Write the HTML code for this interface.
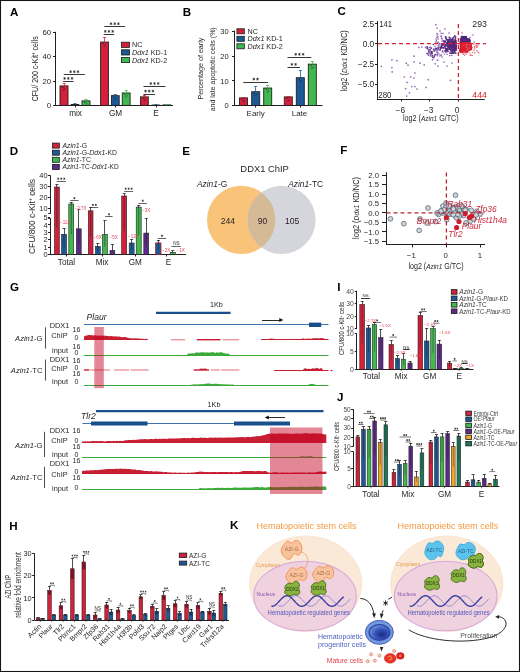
<!DOCTYPE html>
<html><head><meta charset="utf-8"><style>
html,body{margin:0;padding:0;background:#fff;}
svg{display:block;font-family:"Liberation Sans", sans-serif;will-change:transform;}
</style></head><body>
<svg width="520" height="672" viewBox="0 0 520 672">
<rect x="0" y="0" width="520" height="672" fill="#fff"/>
<text x="10.00" y="15.80" font-size="11.6" fill="#000" font-weight="bold" >A</text>
<line x1="55.50" y1="31.80" x2="55.50" y2="105.40" stroke="#231f20" stroke-width="1.0" />
<line x1="55.00" y1="105.50" x2="173.00" y2="105.50" stroke="#231f20" stroke-width="1.0" />
<line x1="53.00" y1="105.50" x2="55.00" y2="105.50" stroke="#231f20" stroke-width="1.0" />
<text x="51.20" y="108.20" font-size="7.8" fill="#231f20" text-anchor="end" >0</text>
<line x1="53.00" y1="81.50" x2="55.00" y2="81.50" stroke="#231f20" stroke-width="1.0" />
<text x="51.20" y="83.83" font-size="7.8" fill="#231f20" text-anchor="end" >20</text>
<line x1="53.00" y1="56.50" x2="55.00" y2="56.50" stroke="#231f20" stroke-width="1.0" />
<text x="51.20" y="59.47" font-size="7.8" fill="#231f20" text-anchor="end" >40</text>
<line x1="53.00" y1="32.50" x2="55.00" y2="32.50" stroke="#231f20" stroke-width="1.0" />
<text x="51.20" y="35.10" font-size="7.8" fill="#231f20" text-anchor="end" >60</text>
<line x1="75.50" y1="105.40" x2="75.50" y2="107.40" stroke="#231f20" stroke-width="1.0" />
<line x1="115.50" y1="105.40" x2="115.50" y2="107.40" stroke="#231f20" stroke-width="1.0" />
<line x1="156.50" y1="105.40" x2="156.50" y2="107.40" stroke="#231f20" stroke-width="1.0" />
<text x="38.2" y="68.8" font-size="8.4" fill="#231f20" text-anchor="middle" transform="rotate(-90 38.2 68.8)" textLength="65" lengthAdjust="spacingAndGlyphs">CFU/ 200 c-Kit<tspan dy="-2.8" font-size="5">+</tspan><tspan dy="2.8"> cells</tspan></text>
<rect x="60.00" y="85.91" width="8.00" height="19.49" fill="#d3213b" stroke="#231f20" stroke-width="0.9" />
<line x1="64.50" y1="85.91" x2="64.50" y2="83.47" stroke="#d3213b" stroke-width="0.8" />
<line x1="62.50" y1="83.50" x2="65.50" y2="83.50" stroke="#d3213b" stroke-width="0.8" />
<circle cx="62.80" cy="87.41" r="0.55" fill="#231f20" stroke="none" stroke-width="0.5" />
<circle cx="64.80" cy="88.71" r="0.55" fill="#231f20" stroke="none" stroke-width="0.5" />
<circle cx="63.70" cy="89.91" r="0.55" fill="#231f20" stroke="none" stroke-width="0.5" />
<rect x="71.20" y="104.43" width="7.60" height="0.97" fill="#1c5a97" stroke="#231f20" stroke-width="0.9" />
<line x1="75.50" y1="104.43" x2="75.50" y2="103.69" stroke="#1c5a97" stroke-width="0.8" />
<line x1="73.50" y1="103.50" x2="76.50" y2="103.50" stroke="#1c5a97" stroke-width="0.8" />
<rect x="82.00" y="100.89" width="8.00" height="4.51" fill="#3fba4f" stroke="#231f20" stroke-width="0.9" />
<line x1="86.50" y1="100.89" x2="86.50" y2="99.43" stroke="#3fba4f" stroke-width="0.8" />
<line x1="84.50" y1="99.50" x2="87.50" y2="99.50" stroke="#3fba4f" stroke-width="0.8" />
<circle cx="84.80" cy="102.39" r="0.55" fill="#231f20" stroke="none" stroke-width="0.5" />
<circle cx="86.80" cy="103.69" r="0.55" fill="#231f20" stroke="none" stroke-width="0.5" />
<rect x="100.60" y="42.05" width="7.80" height="63.35" fill="#d3213b" stroke="#231f20" stroke-width="0.9" />
<line x1="104.50" y1="42.05" x2="104.50" y2="37.18" stroke="#d3213b" stroke-width="0.8" />
<line x1="103.00" y1="37.50" x2="106.00" y2="37.50" stroke="#d3213b" stroke-width="0.8" />
<circle cx="103.30" cy="43.55" r="0.55" fill="#231f20" stroke="none" stroke-width="0.5" />
<circle cx="105.30" cy="44.85" r="0.55" fill="#231f20" stroke="none" stroke-width="0.5" />
<circle cx="104.20" cy="46.05" r="0.55" fill="#231f20" stroke="none" stroke-width="0.5" />
<rect x="111.40" y="95.65" width="7.80" height="9.75" fill="#1c5a97" stroke="#231f20" stroke-width="0.9" />
<line x1="115.50" y1="95.65" x2="115.50" y2="94.19" stroke="#1c5a97" stroke-width="0.8" />
<line x1="113.80" y1="94.50" x2="116.80" y2="94.50" stroke="#1c5a97" stroke-width="0.8" />
<circle cx="114.10" cy="97.15" r="0.55" fill="#231f20" stroke="none" stroke-width="0.5" />
<circle cx="116.10" cy="98.45" r="0.55" fill="#231f20" stroke="none" stroke-width="0.5" />
<circle cx="115.00" cy="99.65" r="0.55" fill="#231f20" stroke="none" stroke-width="0.5" />
<rect x="122.30" y="92.97" width="7.80" height="12.43" fill="#3fba4f" stroke="#231f20" stroke-width="0.9" />
<line x1="126.50" y1="92.97" x2="126.50" y2="90.54" stroke="#3fba4f" stroke-width="0.8" />
<line x1="124.70" y1="90.50" x2="127.70" y2="90.50" stroke="#3fba4f" stroke-width="0.8" />
<circle cx="125.00" cy="94.47" r="0.55" fill="#231f20" stroke="none" stroke-width="0.5" />
<circle cx="127.00" cy="95.77" r="0.55" fill="#231f20" stroke="none" stroke-width="0.5" />
<circle cx="125.90" cy="96.97" r="0.55" fill="#231f20" stroke="none" stroke-width="0.5" />
<rect x="140.50" y="96.87" width="7.80" height="8.53" fill="#d3213b" stroke="#231f20" stroke-width="0.9" />
<line x1="144.50" y1="96.87" x2="144.50" y2="95.41" stroke="#d3213b" stroke-width="0.8" />
<line x1="142.90" y1="95.50" x2="145.90" y2="95.50" stroke="#d3213b" stroke-width="0.8" />
<circle cx="143.20" cy="98.37" r="0.55" fill="#231f20" stroke="none" stroke-width="0.5" />
<circle cx="145.20" cy="99.67" r="0.55" fill="#231f20" stroke="none" stroke-width="0.5" />
<circle cx="144.10" cy="100.87" r="0.55" fill="#231f20" stroke="none" stroke-width="0.5" />
<rect x="152.00" y="105.03" width="7.80" height="0.37" fill="#1c5a97" stroke="#231f20" stroke-width="0.9" />
<line x1="155.50" y1="105.03" x2="155.50" y2="104.67" stroke="#1c5a97" stroke-width="0.8" />
<line x1="154.40" y1="104.50" x2="157.40" y2="104.50" stroke="#1c5a97" stroke-width="0.8" />
<rect x="163.00" y="104.91" width="7.80" height="0.49" fill="#3fba4f" stroke="#231f20" stroke-width="0.9" />
<line x1="166.50" y1="104.91" x2="166.50" y2="104.55" stroke="#3fba4f" stroke-width="0.8" />
<line x1="165.40" y1="104.50" x2="168.40" y2="104.50" stroke="#3fba4f" stroke-width="0.8" />
<line x1="63.10" y1="81.50" x2="73.50" y2="81.50" stroke="#231f20" stroke-width="0.9" />
<path d="M64.60,77.05 L64.60,79.75 M63.43,77.72 L65.77,79.07 M65.77,77.72 L63.43,79.07 " fill="none" stroke="#2a2a2a" stroke-width="0.75" />
<path d="M68.30,77.05 L68.30,79.75 M67.13,77.72 L69.47,79.07 M69.47,77.72 L67.13,79.07 " fill="none" stroke="#2a2a2a" stroke-width="0.75" />
<path d="M72.00,77.05 L72.00,79.75 M70.83,77.72 L73.17,79.07 M73.17,77.72 L70.83,79.07 " fill="none" stroke="#2a2a2a" stroke-width="0.75" />
<line x1="63.80" y1="74.50" x2="84.80" y2="74.50" stroke="#231f20" stroke-width="0.9" />
<path d="M70.60,70.35 L70.60,73.05 M69.43,71.02 L71.77,72.37 M71.77,71.02 L69.43,72.37 " fill="none" stroke="#2a2a2a" stroke-width="0.75" />
<path d="M74.30,70.35 L74.30,73.05 M73.13,71.02 L75.47,72.37 M75.47,71.02 L73.13,72.37 " fill="none" stroke="#2a2a2a" stroke-width="0.75" />
<path d="M78.00,70.35 L78.00,73.05 M76.83,71.02 L79.17,72.37 M79.17,71.02 L76.83,72.37 " fill="none" stroke="#2a2a2a" stroke-width="0.75" />
<line x1="103.80" y1="34.50" x2="114.20" y2="34.50" stroke="#231f20" stroke-width="0.9" />
<path d="M105.30,30.05 L105.30,32.75 M104.13,30.72 L106.47,32.07 M106.47,30.72 L104.13,32.07 " fill="none" stroke="#2a2a2a" stroke-width="0.75" />
<path d="M109.00,30.05 L109.00,32.75 M107.83,30.72 L110.17,32.07 M110.17,30.72 L107.83,32.07 " fill="none" stroke="#2a2a2a" stroke-width="0.75" />
<path d="M112.70,30.05 L112.70,32.75 M111.53,30.72 L113.87,32.07 M113.87,30.72 L111.53,32.07 " fill="none" stroke="#2a2a2a" stroke-width="0.75" />
<line x1="104.30" y1="26.50" x2="125.10" y2="26.50" stroke="#231f20" stroke-width="0.9" />
<path d="M111.00,22.35 L111.00,25.05 M109.83,23.03 L112.17,24.38 M112.17,23.03 L109.83,24.38 " fill="none" stroke="#2a2a2a" stroke-width="0.75" />
<path d="M114.70,22.35 L114.70,25.05 M113.53,23.03 L115.87,24.38 M115.87,23.03 L113.53,24.38 " fill="none" stroke="#2a2a2a" stroke-width="0.75" />
<path d="M118.40,22.35 L118.40,25.05 M117.23,23.03 L119.57,24.38 M119.57,23.03 L117.23,24.38 " fill="none" stroke="#2a2a2a" stroke-width="0.75" />
<line x1="143.50" y1="94.50" x2="155.00" y2="94.50" stroke="#231f20" stroke-width="0.9" />
<path d="M145.55,89.75 L145.55,92.45 M144.38,90.42 L146.72,91.77 M146.72,90.42 L144.38,91.77 " fill="none" stroke="#2a2a2a" stroke-width="0.75" />
<path d="M149.25,89.75 L149.25,92.45 M148.08,90.42 L150.42,91.77 M150.42,90.42 L148.08,91.77 " fill="none" stroke="#2a2a2a" stroke-width="0.75" />
<path d="M152.95,89.75 L152.95,92.45 M151.78,90.42 L154.12,91.77 M154.12,90.42 L151.78,91.77 " fill="none" stroke="#2a2a2a" stroke-width="0.75" />
<line x1="143.50" y1="86.50" x2="165.50" y2="86.50" stroke="#231f20" stroke-width="0.9" />
<path d="M150.80,82.15 L150.80,84.85 M149.63,82.83 L151.97,84.17 M151.97,82.83 L149.63,84.17 " fill="none" stroke="#2a2a2a" stroke-width="0.75" />
<path d="M154.50,82.15 L154.50,84.85 M153.33,82.83 L155.67,84.17 M155.67,82.83 L153.33,84.17 " fill="none" stroke="#2a2a2a" stroke-width="0.75" />
<path d="M158.20,82.15 L158.20,84.85 M157.03,82.83 L159.37,84.17 M159.37,82.83 L157.03,84.17 " fill="none" stroke="#2a2a2a" stroke-width="0.75" />
<text x="75.50" y="116.40" font-size="8.2" fill="#231f20" text-anchor="middle" >mix</text>
<text x="115.50" y="116.40" font-size="8.2" fill="#231f20" text-anchor="middle" >GM</text>
<text x="156.00" y="116.40" font-size="8.2" fill="#231f20" text-anchor="middle" >E</text>
<rect x="121.50" y="42.20" width="8.00" height="5.20" fill="#d3213b" stroke="#1a1a1a" stroke-width="0.8" />
<rect x="121.50" y="49.80" width="8.00" height="5.20" fill="#1c5a97" stroke="#1a1a1a" stroke-width="0.8" />
<rect x="121.50" y="57.40" width="8.00" height="5.20" fill="#3fba4f" stroke="#1a1a1a" stroke-width="0.8" />
<text x="132.00" y="47.40" font-size="7.2" fill="#231f20" >NC</text>
<text x="132.00" y="55.00" font-size="7.2" fill="#231f20" ><tspan font-style="italic">Ddx1</tspan> KD-1</text>
<text x="132.00" y="62.60" font-size="7.2" fill="#231f20" ><tspan font-style="italic">Ddx1</tspan> KD-2</text>
<text x="182.70" y="15.60" font-size="11.6" fill="#000" font-weight="bold" >B</text>
<line x1="234.50" y1="30.50" x2="234.50" y2="105.50" stroke="#231f20" stroke-width="1.0" />
<line x1="232.00" y1="105.50" x2="322.50" y2="105.50" stroke="#231f20" stroke-width="1.0" />
<line x1="232.00" y1="105.50" x2="234.30" y2="105.50" stroke="#231f20" stroke-width="1.0" />
<text x="228.60" y="108.20" font-size="7.5" fill="#231f20" text-anchor="end" >0</text>
<line x1="232.00" y1="80.50" x2="234.30" y2="80.50" stroke="#231f20" stroke-width="1.0" />
<text x="228.60" y="83.60" font-size="7.5" fill="#231f20" text-anchor="end" >10</text>
<line x1="232.00" y1="56.50" x2="234.30" y2="56.50" stroke="#231f20" stroke-width="1.0" />
<text x="228.60" y="59.00" font-size="7.5" fill="#231f20" text-anchor="end" >20</text>
<line x1="232.00" y1="31.50" x2="234.30" y2="31.50" stroke="#231f20" stroke-width="1.0" />
<text x="228.60" y="34.40" font-size="7.5" fill="#231f20" text-anchor="end" >30</text>
<line x1="255.50" y1="105.50" x2="255.50" y2="107.50" stroke="#231f20" stroke-width="1.0" />
<line x1="300.50" y1="105.50" x2="300.50" y2="107.50" stroke="#231f20" stroke-width="1.0" />
<text x="202.60" y="68.60" font-size="8.0" fill="#231f20" text-anchor="middle" textLength="62" lengthAdjust="spacingAndGlyphs" transform="rotate(-90 202.60 68.60)" >Percentage of early</text>
<text x="215.40" y="69.30" font-size="7.8" fill="#231f20" text-anchor="middle" textLength="84" lengthAdjust="spacingAndGlyphs" transform="rotate(-90 215.40 69.30)" >and late apoptotic cells (%)</text>
<rect x="239.50" y="97.87" width="8.00" height="7.63" fill="#d3213b" stroke="#231f20" stroke-width="0.9" />
<line x1="243.50" y1="97.87" x2="243.50" y2="97.14" stroke="#d3213b" stroke-width="0.8" />
<line x1="242.00" y1="97.50" x2="245.00" y2="97.50" stroke="#d3213b" stroke-width="0.8" />
<circle cx="242.30" cy="99.37" r="0.55" fill="#231f20" stroke="none" stroke-width="0.5" />
<circle cx="244.30" cy="100.67" r="0.55" fill="#231f20" stroke="none" stroke-width="0.5" />
<circle cx="243.20" cy="101.87" r="0.55" fill="#231f20" stroke="none" stroke-width="0.5" />
<rect x="251.70" y="91.72" width="8.00" height="13.78" fill="#1c5a97" stroke="#231f20" stroke-width="0.9" />
<line x1="255.50" y1="91.72" x2="255.50" y2="86.31" stroke="#1c5a97" stroke-width="0.8" />
<line x1="254.20" y1="86.50" x2="257.20" y2="86.50" stroke="#1c5a97" stroke-width="0.8" />
<circle cx="254.50" cy="93.22" r="0.55" fill="#231f20" stroke="none" stroke-width="0.5" />
<circle cx="256.50" cy="94.52" r="0.55" fill="#231f20" stroke="none" stroke-width="0.5" />
<circle cx="255.40" cy="95.72" r="0.55" fill="#231f20" stroke="none" stroke-width="0.5" />
<rect x="263.70" y="88.03" width="8.00" height="17.47" fill="#3fba4f" stroke="#231f20" stroke-width="0.9" />
<line x1="267.50" y1="88.03" x2="267.50" y2="85.57" stroke="#3fba4f" stroke-width="0.8" />
<line x1="266.20" y1="85.50" x2="269.20" y2="85.50" stroke="#3fba4f" stroke-width="0.8" />
<circle cx="266.50" cy="89.53" r="0.55" fill="#231f20" stroke="none" stroke-width="0.5" />
<circle cx="268.50" cy="90.83" r="0.55" fill="#231f20" stroke="none" stroke-width="0.5" />
<circle cx="267.40" cy="92.03" r="0.55" fill="#231f20" stroke="none" stroke-width="0.5" />
<rect x="284.30" y="96.89" width="8.00" height="8.61" fill="#d3213b" stroke="#231f20" stroke-width="0.9" />
<line x1="288.50" y1="96.89" x2="288.50" y2="96.40" stroke="#d3213b" stroke-width="0.8" />
<line x1="286.80" y1="96.50" x2="289.80" y2="96.50" stroke="#d3213b" stroke-width="0.8" />
<circle cx="287.10" cy="98.39" r="0.55" fill="#231f20" stroke="none" stroke-width="0.5" />
<circle cx="289.10" cy="99.69" r="0.55" fill="#231f20" stroke="none" stroke-width="0.5" />
<circle cx="288.00" cy="100.89" r="0.55" fill="#231f20" stroke="none" stroke-width="0.5" />
<rect x="296.30" y="77.70" width="8.00" height="27.80" fill="#1c5a97" stroke="#231f20" stroke-width="0.9" />
<line x1="300.50" y1="77.70" x2="300.50" y2="70.32" stroke="#1c5a97" stroke-width="0.8" />
<line x1="298.80" y1="70.50" x2="301.80" y2="70.50" stroke="#1c5a97" stroke-width="0.8" />
<circle cx="299.10" cy="79.20" r="0.55" fill="#231f20" stroke="none" stroke-width="0.5" />
<circle cx="301.10" cy="80.50" r="0.55" fill="#231f20" stroke="none" stroke-width="0.5" />
<circle cx="300.00" cy="81.70" r="0.55" fill="#231f20" stroke="none" stroke-width="0.5" />
<rect x="308.30" y="64.17" width="8.00" height="41.33" fill="#3fba4f" stroke="#231f20" stroke-width="0.9" />
<line x1="312.50" y1="64.17" x2="312.50" y2="61.22" stroke="#3fba4f" stroke-width="0.8" />
<line x1="310.80" y1="61.50" x2="313.80" y2="61.50" stroke="#3fba4f" stroke-width="0.8" />
<circle cx="311.10" cy="65.67" r="0.55" fill="#231f20" stroke="none" stroke-width="0.5" />
<circle cx="313.10" cy="66.97" r="0.55" fill="#231f20" stroke="none" stroke-width="0.5" />
<circle cx="312.00" cy="68.17" r="0.55" fill="#231f20" stroke="none" stroke-width="0.5" />
<line x1="243.30" y1="82.50" x2="268.00" y2="82.50" stroke="#231f20" stroke-width="0.9" />
<path d="M253.80,77.75 L253.80,80.45 M252.63,78.42 L254.97,79.77 M254.97,78.42 L252.63,79.77 " fill="none" stroke="#2a2a2a" stroke-width="0.75" />
<path d="M257.50,77.75 L257.50,80.45 M256.33,78.42 L258.67,79.77 M258.67,78.42 L256.33,79.77 " fill="none" stroke="#2a2a2a" stroke-width="0.75" />
<line x1="287.50" y1="67.50" x2="300.00" y2="67.50" stroke="#231f20" stroke-width="0.9" />
<path d="M291.90,63.05 L291.90,65.75 M290.73,63.72 L293.07,65.07 M293.07,63.72 L290.73,65.07 " fill="none" stroke="#2a2a2a" stroke-width="0.75" />
<path d="M295.60,63.05 L295.60,65.75 M294.43,63.72 L296.77,65.07 M296.77,63.72 L294.43,65.07 " fill="none" stroke="#2a2a2a" stroke-width="0.75" />
<line x1="287.50" y1="57.50" x2="311.30" y2="57.50" stroke="#231f20" stroke-width="0.9" />
<path d="M295.70,52.95 L295.70,55.65 M294.53,53.63 L296.87,54.98 M296.87,53.63 L294.53,54.98 " fill="none" stroke="#2a2a2a" stroke-width="0.75" />
<path d="M299.40,52.95 L299.40,55.65 M298.23,53.63 L300.57,54.98 M300.57,53.63 L298.23,54.98 " fill="none" stroke="#2a2a2a" stroke-width="0.75" />
<path d="M303.10,52.95 L303.10,55.65 M301.93,53.63 L304.27,54.98 M304.27,53.63 L301.93,54.98 " fill="none" stroke="#2a2a2a" stroke-width="0.75" />
<text x="255.70" y="116.20" font-size="8.0" fill="#231f20" text-anchor="middle" >Early</text>
<text x="299.50" y="116.20" font-size="8.0" fill="#231f20" text-anchor="middle" >Late</text>
<rect x="236.90" y="28.80" width="7.40" height="5.00" fill="#d3213b" stroke="#1a1a1a" stroke-width="0.8" />
<rect x="236.90" y="36.30" width="7.40" height="5.00" fill="#1c5a97" stroke="#1a1a1a" stroke-width="0.8" />
<rect x="236.90" y="43.80" width="7.40" height="5.00" fill="#3fba4f" stroke="#1a1a1a" stroke-width="0.8" />
<text x="247.60" y="33.70" font-size="7.2" fill="#231f20" >NC</text>
<text x="247.60" y="41.20" font-size="7.2" fill="#231f20" ><tspan font-style="italic">Ddx1</tspan> KD-1</text>
<text x="247.60" y="48.70" font-size="7.2" fill="#231f20" ><tspan font-style="italic">Ddx1</tspan> KD-2</text>
<text x="337.50" y="15.30" font-size="11.6" fill="#000" font-weight="bold" >C</text>
<line x1="377.50" y1="21.00" x2="377.50" y2="99.50" stroke="#231f20" stroke-width="1.0" />
<line x1="377.00" y1="99.50" x2="484.80" y2="99.50" stroke="#231f20" stroke-width="1.0" />
<line x1="375.00" y1="23.50" x2="377.00" y2="23.50" stroke="#231f20" stroke-width="1.0" />
<text x="374.20" y="26.50" font-size="8.3" fill="#231f20" text-anchor="end" >2.5</text>
<line x1="375.00" y1="43.50" x2="377.00" y2="43.50" stroke="#231f20" stroke-width="1.0" />
<text x="374.20" y="46.75" font-size="8.3" fill="#231f20" text-anchor="end" >0.0</text>
<line x1="375.00" y1="64.50" x2="377.00" y2="64.50" stroke="#231f20" stroke-width="1.0" />
<text x="374.20" y="67.00" font-size="8.3" fill="#231f20" text-anchor="end" >−2.5</text>
<line x1="375.00" y1="84.50" x2="377.00" y2="84.50" stroke="#231f20" stroke-width="1.0" />
<text x="374.20" y="87.25" font-size="8.3" fill="#231f20" text-anchor="end" >−5.0</text>
<line x1="401.50" y1="99.50" x2="401.50" y2="101.50" stroke="#231f20" stroke-width="1.0" />
<text x="400.30" y="112.50" font-size="8.3" fill="#231f20" text-anchor="middle" >−6</text>
<line x1="429.50" y1="99.50" x2="429.50" y2="101.50" stroke="#231f20" stroke-width="1.0" />
<text x="428.65" y="112.50" font-size="8.3" fill="#231f20" text-anchor="middle" >−3</text>
<line x1="458.50" y1="99.50" x2="458.50" y2="101.50" stroke="#231f20" stroke-width="1.0" />
<text x="457.00" y="112.50" font-size="8.3" fill="#231f20" text-anchor="middle" >0</text>
<text x="346.6" y="60.9" font-size="8.8" fill="#231f20" text-anchor="middle" transform="rotate(-90 346.6 60.9)" textLength="61" lengthAdjust="spacingAndGlyphs">log2 (<tspan font-style="italic" font-size="8">Ddx1</tspan> KD/NC)</text>
<text x="430.8" y="121.3" font-size="8.8" fill="#231f20" text-anchor="middle" textLength="55.6" lengthAdjust="spacingAndGlyphs">log2 (<tspan font-style="italic" font-size="8">Azin1</tspan> G/TC)</text>
<circle cx="381.40" cy="66.30" r="0.85" fill="#9468b8" stroke="none" stroke-width="0.5" />
<circle cx="391.90" cy="59.80" r="0.85" fill="#9468b8" stroke="none" stroke-width="0.5" />
<circle cx="396.90" cy="60.70" r="0.85" fill="#9468b8" stroke="none" stroke-width="0.5" />
<circle cx="391.90" cy="67.60" r="0.85" fill="#9468b8" stroke="none" stroke-width="0.5" />
<circle cx="392.20" cy="71.90" r="0.85" fill="#9468b8" stroke="none" stroke-width="0.5" />
<circle cx="406.30" cy="63.20" r="0.85" fill="#9468b8" stroke="none" stroke-width="0.5" />
<circle cx="408.00" cy="65.20" r="0.85" fill="#9468b8" stroke="none" stroke-width="0.5" />
<circle cx="414.10" cy="56.20" r="0.85" fill="#9468b8" stroke="none" stroke-width="0.5" />
<circle cx="414.00" cy="61.80" r="0.85" fill="#9468b8" stroke="none" stroke-width="0.5" />
<circle cx="420.10" cy="63.20" r="0.85" fill="#9468b8" stroke="none" stroke-width="0.5" />
<circle cx="424.20" cy="64.90" r="0.85" fill="#9468b8" stroke="none" stroke-width="0.5" />
<circle cx="415.00" cy="73.00" r="0.85" fill="#9468b8" stroke="none" stroke-width="0.5" />
<circle cx="404.30" cy="77.00" r="0.85" fill="#9468b8" stroke="none" stroke-width="0.5" />
<circle cx="410.70" cy="76.80" r="0.85" fill="#9468b8" stroke="none" stroke-width="0.5" />
<circle cx="414.00" cy="78.00" r="0.85" fill="#9468b8" stroke="none" stroke-width="0.5" />
<circle cx="407.00" cy="82.40" r="0.85" fill="#9468b8" stroke="none" stroke-width="0.5" />
<circle cx="428.20" cy="79.70" r="0.85" fill="#9468b8" stroke="none" stroke-width="0.5" />
<circle cx="405.60" cy="88.70" r="0.85" fill="#9468b8" stroke="none" stroke-width="0.5" />
<circle cx="411.70" cy="86.50" r="0.85" fill="#9468b8" stroke="none" stroke-width="0.5" />
<circle cx="415.00" cy="86.50" r="0.85" fill="#9468b8" stroke="none" stroke-width="0.5" />
<circle cx="417.00" cy="89.10" r="0.85" fill="#9468b8" stroke="none" stroke-width="0.5" />
<circle cx="426.10" cy="87.40" r="0.85" fill="#9468b8" stroke="none" stroke-width="0.5" />
<circle cx="409.40" cy="92.80" r="0.85" fill="#9468b8" stroke="none" stroke-width="0.5" />
<circle cx="406.70" cy="96.10" r="0.85" fill="#9468b8" stroke="none" stroke-width="0.5" />
<circle cx="418.80" cy="47.40" r="0.85" fill="#9468b8" stroke="none" stroke-width="0.5" />
<circle cx="421.80" cy="47.00" r="0.85" fill="#9468b8" stroke="none" stroke-width="0.5" />
<circle cx="425.50" cy="47.40" r="0.85" fill="#9468b8" stroke="none" stroke-width="0.5" />
<circle cx="427.80" cy="49.00" r="0.85" fill="#9468b8" stroke="none" stroke-width="0.5" />
<circle cx="429.20" cy="51.00" r="0.85" fill="#9468b8" stroke="none" stroke-width="0.5" />
<circle cx="432.50" cy="59.80" r="0.85" fill="#9468b8" stroke="none" stroke-width="0.5" />
<circle cx="435.20" cy="63.80" r="0.85" fill="#9468b8" stroke="none" stroke-width="0.5" />
<circle cx="437.90" cy="66.10" r="0.85" fill="#9468b8" stroke="none" stroke-width="0.5" />
<circle cx="433.90" cy="57.80" r="0.85" fill="#9468b8" stroke="none" stroke-width="0.5" />
<circle cx="437.60" cy="60.20" r="0.85" fill="#9468b8" stroke="none" stroke-width="0.5" />
<circle cx="450.50" cy="80.30" r="0.85" fill="#9468b8" stroke="none" stroke-width="0.5" />
<circle cx="435.90" cy="24.70" r="0.85" fill="#9468b8" stroke="none" stroke-width="0.5" />
<circle cx="437.00" cy="28.00" r="0.85" fill="#9468b8" stroke="none" stroke-width="0.5" />
<circle cx="440.00" cy="31.00" r="0.85" fill="#9468b8" stroke="none" stroke-width="0.5" />
<circle cx="445.00" cy="29.00" r="0.85" fill="#9468b8" stroke="none" stroke-width="0.5" />
<circle cx="449.00" cy="33.00" r="0.85" fill="#9468b8" stroke="none" stroke-width="0.5" />
<circle cx="442.00" cy="57.00" r="0.85" fill="#9468b8" stroke="none" stroke-width="0.5" />
<circle cx="444.00" cy="62.00" r="0.85" fill="#9468b8" stroke="none" stroke-width="0.5" />
<circle cx="447.00" cy="66.00" r="0.85" fill="#9468b8" stroke="none" stroke-width="0.5" />
<circle cx="452.00" cy="63.00" r="0.85" fill="#9468b8" stroke="none" stroke-width="0.5" />
<circle cx="435.52" cy="54.27" r="0.80" fill="#9468b8" stroke="none" stroke-width="0.5" />
<circle cx="437.19" cy="50.02" r="0.80" fill="#9468b8" stroke="none" stroke-width="0.5" />
<circle cx="427.98" cy="53.20" r="0.80" fill="#9468b8" stroke="none" stroke-width="0.5" />
<circle cx="436.12" cy="48.66" r="0.80" fill="#9468b8" stroke="none" stroke-width="0.5" />
<circle cx="441.78" cy="47.34" r="0.80" fill="#9468b8" stroke="none" stroke-width="0.5" />
<circle cx="449.36" cy="47.88" r="0.80" fill="#9468b8" stroke="none" stroke-width="0.5" />
<circle cx="431.87" cy="53.73" r="0.80" fill="#54287a" stroke="none" stroke-width="0.5" />
<circle cx="428.77" cy="49.63" r="0.80" fill="#9468b8" stroke="none" stroke-width="0.5" />
<circle cx="438.51" cy="49.57" r="0.80" fill="#9468b8" stroke="none" stroke-width="0.5" />
<circle cx="438.69" cy="49.38" r="0.80" fill="#54287a" stroke="none" stroke-width="0.5" />
<circle cx="435.06" cy="54.90" r="0.80" fill="#54287a" stroke="none" stroke-width="0.5" />
<circle cx="430.21" cy="49.64" r="0.80" fill="#54287a" stroke="none" stroke-width="0.5" />
<circle cx="439.81" cy="56.06" r="0.80" fill="#9468b8" stroke="none" stroke-width="0.5" />
<circle cx="435.58" cy="48.35" r="0.80" fill="#9468b8" stroke="none" stroke-width="0.5" />
<circle cx="427.03" cy="48.28" r="0.80" fill="#54287a" stroke="none" stroke-width="0.5" />
<circle cx="442.56" cy="51.13" r="0.80" fill="#54287a" stroke="none" stroke-width="0.5" />
<circle cx="434.75" cy="50.50" r="0.80" fill="#54287a" stroke="none" stroke-width="0.5" />
<circle cx="436.17" cy="48.77" r="0.80" fill="#54287a" stroke="none" stroke-width="0.5" />
<circle cx="443.36" cy="48.23" r="0.80" fill="#9468b8" stroke="none" stroke-width="0.5" />
<circle cx="434.74" cy="49.74" r="0.80" fill="#9468b8" stroke="none" stroke-width="0.5" />
<circle cx="431.54" cy="52.53" r="0.80" fill="#54287a" stroke="none" stroke-width="0.5" />
<circle cx="430.36" cy="55.08" r="0.80" fill="#54287a" stroke="none" stroke-width="0.5" />
<circle cx="427.05" cy="53.62" r="0.80" fill="#54287a" stroke="none" stroke-width="0.5" />
<circle cx="443.81" cy="45.44" r="0.80" fill="#9468b8" stroke="none" stroke-width="0.5" />
<circle cx="438.21" cy="45.47" r="0.80" fill="#9468b8" stroke="none" stroke-width="0.5" />
<circle cx="431.34" cy="53.94" r="0.80" fill="#9468b8" stroke="none" stroke-width="0.5" />
<circle cx="438.59" cy="49.15" r="0.80" fill="#9468b8" stroke="none" stroke-width="0.5" />
<circle cx="430.12" cy="47.41" r="0.80" fill="#54287a" stroke="none" stroke-width="0.5" />
<circle cx="435.06" cy="46.36" r="0.80" fill="#9468b8" stroke="none" stroke-width="0.5" />
<circle cx="444.95" cy="40.70" r="0.80" fill="#54287a" stroke="none" stroke-width="0.5" />
<circle cx="434.31" cy="51.09" r="0.80" fill="#54287a" stroke="none" stroke-width="0.5" />
<circle cx="430.37" cy="53.41" r="0.80" fill="#9468b8" stroke="none" stroke-width="0.5" />
<circle cx="434.16" cy="50.64" r="0.80" fill="#9468b8" stroke="none" stroke-width="0.5" />
<circle cx="429.53" cy="52.81" r="0.80" fill="#54287a" stroke="none" stroke-width="0.5" />
<circle cx="439.96" cy="50.54" r="0.80" fill="#9468b8" stroke="none" stroke-width="0.5" />
<circle cx="437.34" cy="54.52" r="0.80" fill="#54287a" stroke="none" stroke-width="0.5" />
<circle cx="435.54" cy="49.87" r="0.80" fill="#9468b8" stroke="none" stroke-width="0.5" />
<circle cx="433.82" cy="56.21" r="0.80" fill="#9468b8" stroke="none" stroke-width="0.5" />
<circle cx="430.75" cy="51.72" r="0.80" fill="#9468b8" stroke="none" stroke-width="0.5" />
<circle cx="440.19" cy="49.82" r="0.80" fill="#54287a" stroke="none" stroke-width="0.5" />
<circle cx="443.02" cy="44.75" r="0.80" fill="#9468b8" stroke="none" stroke-width="0.5" />
<circle cx="431.35" cy="48.17" r="0.80" fill="#54287a" stroke="none" stroke-width="0.5" />
<circle cx="434.55" cy="56.09" r="0.80" fill="#54287a" stroke="none" stroke-width="0.5" />
<circle cx="444.62" cy="41.83" r="0.80" fill="#54287a" stroke="none" stroke-width="0.5" />
<circle cx="430.22" cy="51.10" r="0.80" fill="#9468b8" stroke="none" stroke-width="0.5" />
<circle cx="428.22" cy="55.09" r="0.80" fill="#54287a" stroke="none" stroke-width="0.5" />
<circle cx="440.77" cy="48.60" r="0.80" fill="#54287a" stroke="none" stroke-width="0.5" />
<circle cx="444.26" cy="47.91" r="0.80" fill="#9468b8" stroke="none" stroke-width="0.5" />
<circle cx="432.33" cy="55.65" r="0.80" fill="#54287a" stroke="none" stroke-width="0.5" />
<circle cx="440.24" cy="47.68" r="0.80" fill="#54287a" stroke="none" stroke-width="0.5" />
<circle cx="427.19" cy="46.84" r="0.80" fill="#54287a" stroke="none" stroke-width="0.5" />
<circle cx="440.26" cy="48.01" r="0.80" fill="#54287a" stroke="none" stroke-width="0.5" />
<circle cx="435.66" cy="43.07" r="0.80" fill="#9468b8" stroke="none" stroke-width="0.5" />
<circle cx="438.26" cy="48.61" r="0.80" fill="#9468b8" stroke="none" stroke-width="0.5" />
<circle cx="432.81" cy="57.40" r="0.80" fill="#54287a" stroke="none" stroke-width="0.5" />
<circle cx="433.22" cy="44.52" r="0.80" fill="#54287a" stroke="none" stroke-width="0.5" />
<circle cx="433.30" cy="50.07" r="0.80" fill="#9468b8" stroke="none" stroke-width="0.5" />
<circle cx="444.03" cy="43.24" r="0.80" fill="#54287a" stroke="none" stroke-width="0.5" />
<circle cx="438.40" cy="45.91" r="0.80" fill="#9468b8" stroke="none" stroke-width="0.5" />
<circle cx="432.14" cy="53.38" r="0.80" fill="#54287a" stroke="none" stroke-width="0.5" />
<circle cx="431.74" cy="51.96" r="0.80" fill="#54287a" stroke="none" stroke-width="0.5" />
<circle cx="431.81" cy="51.56" r="0.80" fill="#54287a" stroke="none" stroke-width="0.5" />
<circle cx="437.62" cy="48.31" r="0.80" fill="#9468b8" stroke="none" stroke-width="0.5" />
<circle cx="439.56" cy="49.71" r="0.80" fill="#9468b8" stroke="none" stroke-width="0.5" />
<circle cx="428.44" cy="51.21" r="0.80" fill="#9468b8" stroke="none" stroke-width="0.5" />
<circle cx="439.39" cy="47.00" r="0.80" fill="#9468b8" stroke="none" stroke-width="0.5" />
<circle cx="438.20" cy="47.72" r="0.80" fill="#54287a" stroke="none" stroke-width="0.5" />
<circle cx="431.89" cy="56.35" r="0.80" fill="#9468b8" stroke="none" stroke-width="0.5" />
<circle cx="438.39" cy="42.46" r="0.80" fill="#9468b8" stroke="none" stroke-width="0.5" />
<circle cx="436.63" cy="48.59" r="0.80" fill="#54287a" stroke="none" stroke-width="0.5" />
<circle cx="433.91" cy="49.12" r="0.80" fill="#54287a" stroke="none" stroke-width="0.5" />
<circle cx="443.99" cy="43.09" r="0.80" fill="#9468b8" stroke="none" stroke-width="0.5" />
<circle cx="441.66" cy="47.08" r="0.80" fill="#9468b8" stroke="none" stroke-width="0.5" />
<circle cx="429.46" cy="52.56" r="0.80" fill="#9468b8" stroke="none" stroke-width="0.5" />
<circle cx="427.62" cy="47.89" r="0.80" fill="#54287a" stroke="none" stroke-width="0.5" />
<circle cx="430.16" cy="47.61" r="0.80" fill="#9468b8" stroke="none" stroke-width="0.5" />
<circle cx="445.27" cy="46.39" r="0.80" fill="#54287a" stroke="none" stroke-width="0.5" />
<circle cx="429.13" cy="50.94" r="0.80" fill="#54287a" stroke="none" stroke-width="0.5" />
<circle cx="428.72" cy="53.38" r="0.80" fill="#9468b8" stroke="none" stroke-width="0.5" />
<circle cx="430.19" cy="55.99" r="0.80" fill="#9468b8" stroke="none" stroke-width="0.5" />
<circle cx="447.08" cy="43.13" r="0.80" fill="#9468b8" stroke="none" stroke-width="0.5" />
<circle cx="436.36" cy="40.62" r="0.80" fill="#9468b8" stroke="none" stroke-width="0.5" />
<circle cx="448.48" cy="44.78" r="0.80" fill="#9468b8" stroke="none" stroke-width="0.5" />
<circle cx="437.29" cy="55.66" r="0.80" fill="#9468b8" stroke="none" stroke-width="0.5" />
<circle cx="451.77" cy="55.35" r="0.80" fill="#9468b8" stroke="none" stroke-width="0.5" />
<circle cx="438.10" cy="39.11" r="0.80" fill="#9468b8" stroke="none" stroke-width="0.5" />
<circle cx="436.79" cy="50.92" r="0.80" fill="#9468b8" stroke="none" stroke-width="0.5" />
<circle cx="441.41" cy="35.98" r="0.80" fill="#9468b8" stroke="none" stroke-width="0.5" />
<circle cx="444.45" cy="53.96" r="0.80" fill="#9468b8" stroke="none" stroke-width="0.5" />
<circle cx="452.38" cy="38.95" r="0.80" fill="#9468b8" stroke="none" stroke-width="0.5" />
<circle cx="438.99" cy="54.14" r="0.80" fill="#9468b8" stroke="none" stroke-width="0.5" />
<circle cx="447.41" cy="49.11" r="0.80" fill="#9468b8" stroke="none" stroke-width="0.5" />
<circle cx="437.79" cy="34.32" r="0.80" fill="#9468b8" stroke="none" stroke-width="0.5" />
<circle cx="449.76" cy="42.78" r="0.80" fill="#9468b8" stroke="none" stroke-width="0.5" />
<circle cx="437.45" cy="54.58" r="0.80" fill="#9468b8" stroke="none" stroke-width="0.5" />
<circle cx="448.69" cy="51.44" r="0.80" fill="#9468b8" stroke="none" stroke-width="0.5" />
<circle cx="437.67" cy="52.69" r="0.80" fill="#9468b8" stroke="none" stroke-width="0.5" />
<circle cx="437.33" cy="52.84" r="0.80" fill="#9468b8" stroke="none" stroke-width="0.5" />
<circle cx="445.08" cy="40.80" r="0.80" fill="#9468b8" stroke="none" stroke-width="0.5" />
<circle cx="447.06" cy="54.31" r="0.80" fill="#9468b8" stroke="none" stroke-width="0.5" />
<circle cx="441.36" cy="35.97" r="0.80" fill="#9468b8" stroke="none" stroke-width="0.5" />
<circle cx="446.54" cy="38.48" r="0.80" fill="#9468b8" stroke="none" stroke-width="0.5" />
<circle cx="438.19" cy="36.71" r="0.80" fill="#9468b8" stroke="none" stroke-width="0.5" />
<circle cx="437.01" cy="37.64" r="0.80" fill="#9468b8" stroke="none" stroke-width="0.5" />
<circle cx="442.24" cy="40.02" r="0.80" fill="#9468b8" stroke="none" stroke-width="0.5" />
<circle cx="451.19" cy="39.67" r="0.80" fill="#9468b8" stroke="none" stroke-width="0.5" />
<circle cx="446.00" cy="37.09" r="0.80" fill="#9468b8" stroke="none" stroke-width="0.5" />
<circle cx="442.94" cy="33.42" r="0.80" fill="#9468b8" stroke="none" stroke-width="0.5" />
<circle cx="441.01" cy="33.35" r="0.80" fill="#9468b8" stroke="none" stroke-width="0.5" />
<circle cx="450.66" cy="45.67" r="0.80" fill="#9468b8" stroke="none" stroke-width="0.5" />
<circle cx="439.79" cy="43.92" r="0.80" fill="#9468b8" stroke="none" stroke-width="0.5" />
<circle cx="454.69" cy="35.44" r="0.80" fill="#9468b8" stroke="none" stroke-width="0.5" />
<circle cx="452.38" cy="42.94" r="0.80" fill="#9468b8" stroke="none" stroke-width="0.5" />
<circle cx="445.90" cy="52.20" r="0.80" fill="#9468b8" stroke="none" stroke-width="0.5" />
<circle cx="443.86" cy="44.65" r="0.80" fill="#9468b8" stroke="none" stroke-width="0.5" />
<circle cx="449.75" cy="55.60" r="0.80" fill="#9468b8" stroke="none" stroke-width="0.5" />
<circle cx="442.85" cy="52.14" r="0.80" fill="#9468b8" stroke="none" stroke-width="0.5" />
<circle cx="450.13" cy="47.63" r="0.80" fill="#9468b8" stroke="none" stroke-width="0.5" />
<circle cx="444.09" cy="40.99" r="0.80" fill="#9468b8" stroke="none" stroke-width="0.5" />
<circle cx="437.09" cy="35.99" r="0.80" fill="#9468b8" stroke="none" stroke-width="0.5" />
<circle cx="437.41" cy="50.04" r="0.80" fill="#9468b8" stroke="none" stroke-width="0.5" />
<circle cx="441.11" cy="36.75" r="0.80" fill="#9468b8" stroke="none" stroke-width="0.5" />
<circle cx="437.69" cy="52.35" r="0.80" fill="#9468b8" stroke="none" stroke-width="0.5" />
<circle cx="453.41" cy="48.42" r="0.80" fill="#9468b8" stroke="none" stroke-width="0.5" />
<circle cx="441.64" cy="38.57" r="0.80" fill="#9468b8" stroke="none" stroke-width="0.5" />
<circle cx="441.86" cy="43.57" r="0.80" fill="#9468b8" stroke="none" stroke-width="0.5" />
<circle cx="439.15" cy="43.25" r="0.80" fill="#9468b8" stroke="none" stroke-width="0.5" />
<circle cx="441.26" cy="55.12" r="0.80" fill="#9468b8" stroke="none" stroke-width="0.5" />
<circle cx="455.45" cy="45.58" r="0.80" fill="#9468b8" stroke="none" stroke-width="0.5" />
<circle cx="440.89" cy="55.21" r="0.80" fill="#9468b8" stroke="none" stroke-width="0.5" />
<circle cx="442.19" cy="41.20" r="0.80" fill="#9468b8" stroke="none" stroke-width="0.5" />
<circle cx="436.02" cy="41.78" r="0.80" fill="#9468b8" stroke="none" stroke-width="0.5" />
<circle cx="445.49" cy="44.56" r="0.80" fill="#9468b8" stroke="none" stroke-width="0.5" />
<circle cx="440.02" cy="44.61" r="0.80" fill="#9468b8" stroke="none" stroke-width="0.5" />
<circle cx="436.10" cy="39.08" r="0.80" fill="#9468b8" stroke="none" stroke-width="0.5" />
<circle cx="437.80" cy="42.19" r="0.80" fill="#9468b8" stroke="none" stroke-width="0.5" />
<circle cx="436.83" cy="33.52" r="0.80" fill="#9468b8" stroke="none" stroke-width="0.5" />
<circle cx="442.08" cy="38.35" r="0.80" fill="#9468b8" stroke="none" stroke-width="0.5" />
<circle cx="447.71" cy="45.17" r="0.80" fill="#9468b8" stroke="none" stroke-width="0.5" />
<circle cx="451.01" cy="48.12" r="0.80" fill="#9468b8" stroke="none" stroke-width="0.5" />
<circle cx="450.32" cy="53.22" r="0.80" fill="#9468b8" stroke="none" stroke-width="0.5" />
<circle cx="443.79" cy="40.50" r="0.80" fill="#9468b8" stroke="none" stroke-width="0.5" />
<circle cx="455.69" cy="36.44" r="0.80" fill="#9468b8" stroke="none" stroke-width="0.5" />
<circle cx="450.48" cy="47.79" r="0.80" fill="#9468b8" stroke="none" stroke-width="0.5" />
<circle cx="436.88" cy="52.21" r="0.80" fill="#9468b8" stroke="none" stroke-width="0.5" />
<circle cx="453.84" cy="47.43" r="0.80" fill="#9468b8" stroke="none" stroke-width="0.5" />
<circle cx="450.68" cy="51.68" r="0.80" fill="#9468b8" stroke="none" stroke-width="0.5" />
<circle cx="438.79" cy="45.05" r="0.80" fill="#9468b8" stroke="none" stroke-width="0.5" />
<circle cx="446.09" cy="52.20" r="0.80" fill="#9468b8" stroke="none" stroke-width="0.5" />
<circle cx="452.09" cy="52.01" r="0.80" fill="#9468b8" stroke="none" stroke-width="0.5" />
<circle cx="445.05" cy="41.59" r="0.85" fill="#54287a" stroke="none" stroke-width="0.5" />
<circle cx="452.22" cy="40.51" r="0.85" fill="#54287a" stroke="none" stroke-width="0.5" />
<circle cx="455.81" cy="45.80" r="0.85" fill="#54287a" stroke="none" stroke-width="0.5" />
<circle cx="452.20" cy="47.25" r="0.85" fill="#54287a" stroke="none" stroke-width="0.5" />
<circle cx="446.98" cy="48.73" r="0.85" fill="#54287a" stroke="none" stroke-width="0.5" />
<circle cx="448.13" cy="43.38" r="0.85" fill="#54287a" stroke="none" stroke-width="0.5" />
<circle cx="449.64" cy="41.55" r="0.85" fill="#54287a" stroke="none" stroke-width="0.5" />
<circle cx="455.51" cy="45.02" r="0.85" fill="#54287a" stroke="none" stroke-width="0.5" />
<circle cx="453.06" cy="39.92" r="0.85" fill="#54287a" stroke="none" stroke-width="0.5" />
<circle cx="448.57" cy="44.93" r="0.85" fill="#54287a" stroke="none" stroke-width="0.5" />
<circle cx="454.80" cy="44.00" r="0.85" fill="#54287a" stroke="none" stroke-width="0.5" />
<circle cx="455.62" cy="42.57" r="0.85" fill="#54287a" stroke="none" stroke-width="0.5" />
<circle cx="451.79" cy="46.13" r="0.85" fill="#54287a" stroke="none" stroke-width="0.5" />
<circle cx="455.47" cy="42.85" r="0.85" fill="#54287a" stroke="none" stroke-width="0.5" />
<circle cx="454.95" cy="36.29" r="0.85" fill="#54287a" stroke="none" stroke-width="0.5" />
<circle cx="450.11" cy="45.12" r="0.85" fill="#54287a" stroke="none" stroke-width="0.5" />
<circle cx="446.98" cy="45.64" r="0.85" fill="#54287a" stroke="none" stroke-width="0.5" />
<circle cx="455.12" cy="40.59" r="0.85" fill="#54287a" stroke="none" stroke-width="0.5" />
<circle cx="454.50" cy="44.00" r="0.85" fill="#54287a" stroke="none" stroke-width="0.5" />
<circle cx="453.24" cy="46.96" r="0.85" fill="#54287a" stroke="none" stroke-width="0.5" />
<circle cx="455.78" cy="42.28" r="0.85" fill="#54287a" stroke="none" stroke-width="0.5" />
<circle cx="455.13" cy="44.79" r="0.85" fill="#54287a" stroke="none" stroke-width="0.5" />
<circle cx="451.59" cy="45.94" r="0.85" fill="#54287a" stroke="none" stroke-width="0.5" />
<circle cx="451.66" cy="40.67" r="0.85" fill="#54287a" stroke="none" stroke-width="0.5" />
<circle cx="453.76" cy="42.63" r="0.85" fill="#54287a" stroke="none" stroke-width="0.5" />
<circle cx="449.33" cy="44.63" r="0.85" fill="#54287a" stroke="none" stroke-width="0.5" />
<circle cx="453.05" cy="45.34" r="0.85" fill="#54287a" stroke="none" stroke-width="0.5" />
<circle cx="452.86" cy="43.68" r="0.85" fill="#54287a" stroke="none" stroke-width="0.5" />
<circle cx="442.05" cy="43.97" r="0.85" fill="#54287a" stroke="none" stroke-width="0.5" />
<circle cx="449.39" cy="45.39" r="0.85" fill="#54287a" stroke="none" stroke-width="0.5" />
<circle cx="449.30" cy="37.40" r="0.85" fill="#54287a" stroke="none" stroke-width="0.5" />
<circle cx="451.49" cy="45.79" r="0.85" fill="#54287a" stroke="none" stroke-width="0.5" />
<circle cx="452.39" cy="52.48" r="0.85" fill="#54287a" stroke="none" stroke-width="0.5" />
<circle cx="454.06" cy="49.10" r="0.85" fill="#54287a" stroke="none" stroke-width="0.5" />
<circle cx="451.40" cy="48.03" r="0.85" fill="#54287a" stroke="none" stroke-width="0.5" />
<circle cx="452.94" cy="44.50" r="0.85" fill="#54287a" stroke="none" stroke-width="0.5" />
<circle cx="452.95" cy="41.55" r="0.85" fill="#54287a" stroke="none" stroke-width="0.5" />
<circle cx="448.91" cy="41.74" r="0.85" fill="#54287a" stroke="none" stroke-width="0.5" />
<circle cx="454.50" cy="51.79" r="0.85" fill="#54287a" stroke="none" stroke-width="0.5" />
<circle cx="454.66" cy="45.06" r="0.85" fill="#54287a" stroke="none" stroke-width="0.5" />
<circle cx="449.02" cy="45.08" r="0.85" fill="#54287a" stroke="none" stroke-width="0.5" />
<circle cx="451.15" cy="45.83" r="0.85" fill="#54287a" stroke="none" stroke-width="0.5" />
<circle cx="452.51" cy="47.27" r="0.85" fill="#54287a" stroke="none" stroke-width="0.5" />
<circle cx="451.36" cy="50.61" r="0.85" fill="#54287a" stroke="none" stroke-width="0.5" />
<circle cx="446.00" cy="45.06" r="0.85" fill="#54287a" stroke="none" stroke-width="0.5" />
<circle cx="454.39" cy="43.63" r="0.85" fill="#54287a" stroke="none" stroke-width="0.5" />
<circle cx="447.52" cy="42.74" r="0.85" fill="#54287a" stroke="none" stroke-width="0.5" />
<circle cx="451.96" cy="43.46" r="0.85" fill="#54287a" stroke="none" stroke-width="0.5" />
<circle cx="451.84" cy="47.30" r="0.85" fill="#54287a" stroke="none" stroke-width="0.5" />
<circle cx="448.00" cy="44.97" r="0.85" fill="#54287a" stroke="none" stroke-width="0.5" />
<circle cx="451.94" cy="47.60" r="0.85" fill="#54287a" stroke="none" stroke-width="0.5" />
<circle cx="455.70" cy="45.99" r="0.85" fill="#54287a" stroke="none" stroke-width="0.5" />
<circle cx="446.86" cy="48.62" r="0.85" fill="#54287a" stroke="none" stroke-width="0.5" />
<circle cx="452.88" cy="52.31" r="0.85" fill="#54287a" stroke="none" stroke-width="0.5" />
<circle cx="455.98" cy="47.52" r="0.85" fill="#54287a" stroke="none" stroke-width="0.5" />
<circle cx="452.12" cy="44.86" r="0.85" fill="#54287a" stroke="none" stroke-width="0.5" />
<circle cx="445.50" cy="50.72" r="0.85" fill="#54287a" stroke="none" stroke-width="0.5" />
<circle cx="447.81" cy="41.11" r="0.85" fill="#54287a" stroke="none" stroke-width="0.5" />
<circle cx="446.97" cy="39.81" r="0.85" fill="#54287a" stroke="none" stroke-width="0.5" />
<circle cx="448.95" cy="43.53" r="0.85" fill="#54287a" stroke="none" stroke-width="0.5" />
<circle cx="455.64" cy="44.00" r="0.85" fill="#54287a" stroke="none" stroke-width="0.5" />
<circle cx="455.27" cy="41.52" r="0.85" fill="#54287a" stroke="none" stroke-width="0.5" />
<circle cx="455.86" cy="40.40" r="0.85" fill="#54287a" stroke="none" stroke-width="0.5" />
<circle cx="455.57" cy="45.99" r="0.85" fill="#54287a" stroke="none" stroke-width="0.5" />
<circle cx="453.19" cy="44.26" r="0.85" fill="#54287a" stroke="none" stroke-width="0.5" />
<circle cx="450.58" cy="45.51" r="0.85" fill="#54287a" stroke="none" stroke-width="0.5" />
<circle cx="453.09" cy="50.01" r="0.85" fill="#54287a" stroke="none" stroke-width="0.5" />
<circle cx="451.39" cy="44.63" r="0.85" fill="#54287a" stroke="none" stroke-width="0.5" />
<circle cx="453.17" cy="42.75" r="0.85" fill="#54287a" stroke="none" stroke-width="0.5" />
<circle cx="450.38" cy="43.87" r="0.85" fill="#54287a" stroke="none" stroke-width="0.5" />
<circle cx="454.23" cy="46.65" r="0.85" fill="#54287a" stroke="none" stroke-width="0.5" />
<circle cx="452.59" cy="51.72" r="0.85" fill="#54287a" stroke="none" stroke-width="0.5" />
<circle cx="451.77" cy="45.04" r="0.85" fill="#54287a" stroke="none" stroke-width="0.5" />
<circle cx="453.49" cy="46.61" r="0.85" fill="#54287a" stroke="none" stroke-width="0.5" />
<circle cx="451.38" cy="46.58" r="0.85" fill="#54287a" stroke="none" stroke-width="0.5" />
<circle cx="452.27" cy="46.28" r="0.85" fill="#54287a" stroke="none" stroke-width="0.5" />
<circle cx="455.59" cy="49.15" r="0.85" fill="#54287a" stroke="none" stroke-width="0.5" />
<circle cx="448.42" cy="41.53" r="0.85" fill="#54287a" stroke="none" stroke-width="0.5" />
<circle cx="450.71" cy="46.72" r="0.85" fill="#54287a" stroke="none" stroke-width="0.5" />
<circle cx="450.23" cy="44.53" r="0.85" fill="#54287a" stroke="none" stroke-width="0.5" />
<circle cx="454.87" cy="45.97" r="0.85" fill="#54287a" stroke="none" stroke-width="0.5" />
<circle cx="453.30" cy="53.26" r="0.85" fill="#54287a" stroke="none" stroke-width="0.5" />
<circle cx="451.01" cy="47.69" r="0.85" fill="#54287a" stroke="none" stroke-width="0.5" />
<circle cx="447.79" cy="40.36" r="0.85" fill="#54287a" stroke="none" stroke-width="0.5" />
<circle cx="454.99" cy="47.49" r="0.85" fill="#54287a" stroke="none" stroke-width="0.5" />
<circle cx="455.94" cy="48.23" r="0.85" fill="#54287a" stroke="none" stroke-width="0.5" />
<circle cx="441.97" cy="47.65" r="0.85" fill="#54287a" stroke="none" stroke-width="0.5" />
<circle cx="448.92" cy="39.71" r="0.85" fill="#54287a" stroke="none" stroke-width="0.5" />
<circle cx="454.48" cy="45.11" r="0.85" fill="#54287a" stroke="none" stroke-width="0.5" />
<circle cx="452.79" cy="38.42" r="0.85" fill="#54287a" stroke="none" stroke-width="0.5" />
<circle cx="448.13" cy="45.71" r="0.85" fill="#54287a" stroke="none" stroke-width="0.5" />
<circle cx="450.02" cy="45.00" r="0.85" fill="#54287a" stroke="none" stroke-width="0.5" />
<circle cx="445.95" cy="42.35" r="0.85" fill="#54287a" stroke="none" stroke-width="0.5" />
<circle cx="446.12" cy="38.25" r="0.85" fill="#54287a" stroke="none" stroke-width="0.5" />
<circle cx="455.97" cy="46.54" r="0.85" fill="#54287a" stroke="none" stroke-width="0.5" />
<circle cx="451.88" cy="48.21" r="0.85" fill="#54287a" stroke="none" stroke-width="0.5" />
<circle cx="450.08" cy="38.06" r="0.85" fill="#54287a" stroke="none" stroke-width="0.5" />
<circle cx="454.47" cy="40.45" r="0.85" fill="#54287a" stroke="none" stroke-width="0.5" />
<circle cx="455.38" cy="41.48" r="0.85" fill="#54287a" stroke="none" stroke-width="0.5" />
<circle cx="454.38" cy="44.71" r="0.85" fill="#54287a" stroke="none" stroke-width="0.5" />
<circle cx="455.12" cy="42.72" r="0.85" fill="#54287a" stroke="none" stroke-width="0.5" />
<circle cx="448.43" cy="42.78" r="0.85" fill="#54287a" stroke="none" stroke-width="0.5" />
<circle cx="454.96" cy="46.58" r="0.85" fill="#54287a" stroke="none" stroke-width="0.5" />
<circle cx="455.90" cy="49.55" r="0.85" fill="#54287a" stroke="none" stroke-width="0.5" />
<circle cx="455.07" cy="43.52" r="0.85" fill="#54287a" stroke="none" stroke-width="0.5" />
<circle cx="449.39" cy="46.67" r="0.85" fill="#54287a" stroke="none" stroke-width="0.5" />
<circle cx="450.84" cy="43.42" r="0.85" fill="#54287a" stroke="none" stroke-width="0.5" />
<circle cx="454.66" cy="49.28" r="0.85" fill="#54287a" stroke="none" stroke-width="0.5" />
<circle cx="450.93" cy="45.18" r="0.85" fill="#54287a" stroke="none" stroke-width="0.5" />
<circle cx="441.30" cy="46.98" r="0.85" fill="#54287a" stroke="none" stroke-width="0.5" />
<circle cx="448.34" cy="39.76" r="0.85" fill="#54287a" stroke="none" stroke-width="0.5" />
<circle cx="451.66" cy="45.36" r="0.85" fill="#54287a" stroke="none" stroke-width="0.5" />
<circle cx="455.72" cy="53.14" r="0.85" fill="#54287a" stroke="none" stroke-width="0.5" />
<circle cx="454.55" cy="42.37" r="0.85" fill="#54287a" stroke="none" stroke-width="0.5" />
<circle cx="449.02" cy="45.51" r="0.85" fill="#54287a" stroke="none" stroke-width="0.5" />
<circle cx="453.14" cy="42.03" r="0.85" fill="#54287a" stroke="none" stroke-width="0.5" />
<circle cx="455.59" cy="49.74" r="0.85" fill="#54287a" stroke="none" stroke-width="0.5" />
<circle cx="452.16" cy="43.96" r="0.85" fill="#54287a" stroke="none" stroke-width="0.5" />
<circle cx="450.67" cy="45.62" r="0.85" fill="#54287a" stroke="none" stroke-width="0.5" />
<circle cx="448.02" cy="47.32" r="0.85" fill="#54287a" stroke="none" stroke-width="0.5" />
<circle cx="452.57" cy="50.41" r="0.85" fill="#54287a" stroke="none" stroke-width="0.5" />
<circle cx="455.51" cy="41.21" r="0.85" fill="#54287a" stroke="none" stroke-width="0.5" />
<circle cx="451.59" cy="53.14" r="0.85" fill="#54287a" stroke="none" stroke-width="0.5" />
<circle cx="451.80" cy="50.49" r="0.85" fill="#54287a" stroke="none" stroke-width="0.5" />
<circle cx="455.49" cy="47.25" r="0.85" fill="#54287a" stroke="none" stroke-width="0.5" />
<circle cx="455.67" cy="42.33" r="0.85" fill="#54287a" stroke="none" stroke-width="0.5" />
<circle cx="449.30" cy="43.89" r="0.85" fill="#54287a" stroke="none" stroke-width="0.5" />
<circle cx="454.36" cy="47.10" r="0.85" fill="#54287a" stroke="none" stroke-width="0.5" />
<circle cx="448.30" cy="47.36" r="0.85" fill="#54287a" stroke="none" stroke-width="0.5" />
<circle cx="452.80" cy="44.43" r="0.85" fill="#54287a" stroke="none" stroke-width="0.5" />
<circle cx="452.74" cy="46.37" r="0.85" fill="#54287a" stroke="none" stroke-width="0.5" />
<circle cx="452.72" cy="44.71" r="0.85" fill="#54287a" stroke="none" stroke-width="0.5" />
<circle cx="454.00" cy="45.36" r="0.85" fill="#54287a" stroke="none" stroke-width="0.5" />
<circle cx="445.95" cy="49.25" r="0.85" fill="#54287a" stroke="none" stroke-width="0.5" />
<circle cx="448.75" cy="41.53" r="0.85" fill="#54287a" stroke="none" stroke-width="0.5" />
<circle cx="442.10" cy="44.88" r="0.85" fill="#54287a" stroke="none" stroke-width="0.5" />
<circle cx="454.16" cy="46.80" r="0.85" fill="#54287a" stroke="none" stroke-width="0.5" />
<circle cx="446.86" cy="42.92" r="0.85" fill="#54287a" stroke="none" stroke-width="0.5" />
<circle cx="447.31" cy="45.94" r="0.85" fill="#54287a" stroke="none" stroke-width="0.5" />
<circle cx="451.80" cy="47.14" r="0.85" fill="#54287a" stroke="none" stroke-width="0.5" />
<circle cx="454.21" cy="46.70" r="0.85" fill="#54287a" stroke="none" stroke-width="0.5" />
<circle cx="451.14" cy="45.05" r="0.85" fill="#54287a" stroke="none" stroke-width="0.5" />
<circle cx="447.09" cy="51.42" r="0.85" fill="#54287a" stroke="none" stroke-width="0.5" />
<circle cx="444.96" cy="50.79" r="0.85" fill="#54287a" stroke="none" stroke-width="0.5" />
<circle cx="454.51" cy="47.90" r="0.85" fill="#54287a" stroke="none" stroke-width="0.5" />
<circle cx="451.15" cy="39.65" r="0.85" fill="#54287a" stroke="none" stroke-width="0.5" />
<circle cx="454.26" cy="45.42" r="0.85" fill="#54287a" stroke="none" stroke-width="0.5" />
<circle cx="450.29" cy="45.51" r="0.85" fill="#54287a" stroke="none" stroke-width="0.5" />
<circle cx="452.56" cy="43.98" r="0.85" fill="#54287a" stroke="none" stroke-width="0.5" />
<circle cx="447.59" cy="50.14" r="0.85" fill="#54287a" stroke="none" stroke-width="0.5" />
<circle cx="449.94" cy="45.62" r="0.85" fill="#54287a" stroke="none" stroke-width="0.5" />
<circle cx="452.12" cy="39.95" r="0.85" fill="#54287a" stroke="none" stroke-width="0.5" />
<circle cx="454.45" cy="45.22" r="0.85" fill="#54287a" stroke="none" stroke-width="0.5" />
<circle cx="443.54" cy="47.76" r="0.85" fill="#54287a" stroke="none" stroke-width="0.5" />
<circle cx="455.56" cy="50.30" r="0.85" fill="#54287a" stroke="none" stroke-width="0.5" />
<circle cx="451.61" cy="43.27" r="0.85" fill="#54287a" stroke="none" stroke-width="0.5" />
<circle cx="453.89" cy="52.97" r="0.85" fill="#54287a" stroke="none" stroke-width="0.5" />
<circle cx="452.53" cy="43.33" r="0.85" fill="#54287a" stroke="none" stroke-width="0.5" />
<circle cx="454.91" cy="42.27" r="0.85" fill="#54287a" stroke="none" stroke-width="0.5" />
<circle cx="455.92" cy="45.27" r="0.85" fill="#54287a" stroke="none" stroke-width="0.5" />
<circle cx="455.53" cy="37.87" r="0.85" fill="#54287a" stroke="none" stroke-width="0.5" />
<circle cx="446.43" cy="39.28" r="0.85" fill="#54287a" stroke="none" stroke-width="0.5" />
<circle cx="451.67" cy="45.35" r="0.85" fill="#54287a" stroke="none" stroke-width="0.5" />
<circle cx="441.14" cy="46.25" r="0.85" fill="#54287a" stroke="none" stroke-width="0.5" />
<circle cx="450.32" cy="44.10" r="0.85" fill="#54287a" stroke="none" stroke-width="0.5" />
<circle cx="455.96" cy="48.39" r="0.85" fill="#54287a" stroke="none" stroke-width="0.5" />
<circle cx="442.24" cy="45.30" r="0.85" fill="#54287a" stroke="none" stroke-width="0.5" />
<circle cx="451.58" cy="50.26" r="0.85" fill="#54287a" stroke="none" stroke-width="0.5" />
<circle cx="455.19" cy="39.06" r="0.85" fill="#54287a" stroke="none" stroke-width="0.5" />
<circle cx="454.83" cy="40.67" r="0.85" fill="#54287a" stroke="none" stroke-width="0.5" />
<circle cx="453.53" cy="47.48" r="0.85" fill="#54287a" stroke="none" stroke-width="0.5" />
<circle cx="449.23" cy="49.26" r="0.85" fill="#54287a" stroke="none" stroke-width="0.5" />
<circle cx="452.50" cy="46.01" r="0.85" fill="#54287a" stroke="none" stroke-width="0.5" />
<circle cx="455.92" cy="42.59" r="0.85" fill="#54287a" stroke="none" stroke-width="0.5" />
<circle cx="454.55" cy="45.33" r="0.85" fill="#54287a" stroke="none" stroke-width="0.5" />
<circle cx="450.96" cy="44.08" r="0.85" fill="#54287a" stroke="none" stroke-width="0.5" />
<circle cx="443.65" cy="44.18" r="0.85" fill="#54287a" stroke="none" stroke-width="0.5" />
<circle cx="451.31" cy="44.81" r="0.85" fill="#54287a" stroke="none" stroke-width="0.5" />
<circle cx="453.67" cy="45.73" r="0.85" fill="#54287a" stroke="none" stroke-width="0.5" />
<circle cx="446.56" cy="45.05" r="0.85" fill="#54287a" stroke="none" stroke-width="0.5" />
<circle cx="451.86" cy="45.76" r="0.85" fill="#54287a" stroke="none" stroke-width="0.5" />
<circle cx="448.76" cy="47.22" r="0.85" fill="#54287a" stroke="none" stroke-width="0.5" />
<circle cx="451.43" cy="40.28" r="0.85" fill="#54287a" stroke="none" stroke-width="0.5" />
<circle cx="450.93" cy="41.12" r="0.85" fill="#54287a" stroke="none" stroke-width="0.5" />
<circle cx="447.67" cy="49.23" r="0.85" fill="#54287a" stroke="none" stroke-width="0.5" />
<circle cx="453.89" cy="48.98" r="0.85" fill="#54287a" stroke="none" stroke-width="0.5" />
<circle cx="449.14" cy="48.75" r="0.85" fill="#54287a" stroke="none" stroke-width="0.5" />
<circle cx="454.58" cy="47.29" r="0.85" fill="#54287a" stroke="none" stroke-width="0.5" />
<circle cx="455.90" cy="46.85" r="0.85" fill="#54287a" stroke="none" stroke-width="0.5" />
<circle cx="450.11" cy="42.20" r="0.85" fill="#54287a" stroke="none" stroke-width="0.5" />
<circle cx="453.22" cy="47.85" r="0.85" fill="#54287a" stroke="none" stroke-width="0.5" />
<circle cx="448.87" cy="44.82" r="0.85" fill="#54287a" stroke="none" stroke-width="0.5" />
<circle cx="454.73" cy="50.78" r="0.85" fill="#54287a" stroke="none" stroke-width="0.5" />
<circle cx="445.49" cy="36.94" r="0.85" fill="#54287a" stroke="none" stroke-width="0.5" />
<circle cx="450.55" cy="47.18" r="0.85" fill="#54287a" stroke="none" stroke-width="0.5" />
<circle cx="451.16" cy="39.44" r="0.85" fill="#54287a" stroke="none" stroke-width="0.5" />
<circle cx="454.52" cy="44.53" r="0.85" fill="#54287a" stroke="none" stroke-width="0.5" />
<circle cx="455.18" cy="46.55" r="0.85" fill="#54287a" stroke="none" stroke-width="0.5" />
<circle cx="450.02" cy="52.99" r="0.85" fill="#54287a" stroke="none" stroke-width="0.5" />
<circle cx="444.01" cy="41.31" r="0.85" fill="#54287a" stroke="none" stroke-width="0.5" />
<circle cx="447.64" cy="49.62" r="0.85" fill="#54287a" stroke="none" stroke-width="0.5" />
<circle cx="451.58" cy="45.78" r="0.85" fill="#54287a" stroke="none" stroke-width="0.5" />
<circle cx="453.49" cy="37.39" r="0.85" fill="#54287a" stroke="none" stroke-width="0.5" />
<circle cx="449.64" cy="47.66" r="0.85" fill="#54287a" stroke="none" stroke-width="0.5" />
<circle cx="452.93" cy="43.47" r="0.85" fill="#54287a" stroke="none" stroke-width="0.5" />
<circle cx="453.75" cy="46.30" r="0.85" fill="#54287a" stroke="none" stroke-width="0.5" />
<circle cx="454.69" cy="47.35" r="0.85" fill="#54287a" stroke="none" stroke-width="0.5" />
<circle cx="448.93" cy="42.28" r="0.85" fill="#54287a" stroke="none" stroke-width="0.5" />
<circle cx="455.74" cy="45.46" r="0.85" fill="#54287a" stroke="none" stroke-width="0.5" />
<circle cx="451.78" cy="49.26" r="0.85" fill="#54287a" stroke="none" stroke-width="0.5" />
<circle cx="453.94" cy="47.54" r="0.85" fill="#54287a" stroke="none" stroke-width="0.5" />
<circle cx="452.92" cy="50.46" r="0.85" fill="#54287a" stroke="none" stroke-width="0.5" />
<circle cx="453.93" cy="44.66" r="0.85" fill="#54287a" stroke="none" stroke-width="0.5" />
<circle cx="451.16" cy="46.91" r="0.85" fill="#54287a" stroke="none" stroke-width="0.5" />
<circle cx="447.85" cy="43.58" r="0.85" fill="#54287a" stroke="none" stroke-width="0.5" />
<circle cx="452.98" cy="46.04" r="0.85" fill="#54287a" stroke="none" stroke-width="0.5" />
<circle cx="453.93" cy="41.91" r="0.85" fill="#54287a" stroke="none" stroke-width="0.5" />
<circle cx="454.93" cy="47.68" r="0.85" fill="#54287a" stroke="none" stroke-width="0.5" />
<circle cx="451.03" cy="44.20" r="0.85" fill="#54287a" stroke="none" stroke-width="0.5" />
<circle cx="450.84" cy="43.78" r="0.85" fill="#54287a" stroke="none" stroke-width="0.5" />
<circle cx="445.62" cy="48.21" r="0.85" fill="#54287a" stroke="none" stroke-width="0.5" />
<circle cx="450.30" cy="44.94" r="0.85" fill="#54287a" stroke="none" stroke-width="0.5" />
<circle cx="452.85" cy="49.88" r="0.85" fill="#54287a" stroke="none" stroke-width="0.5" />
<circle cx="455.81" cy="45.33" r="0.85" fill="#54287a" stroke="none" stroke-width="0.5" />
<circle cx="450.87" cy="43.05" r="0.85" fill="#54287a" stroke="none" stroke-width="0.5" />
<circle cx="453.38" cy="42.05" r="0.85" fill="#54287a" stroke="none" stroke-width="0.5" />
<circle cx="451.06" cy="42.61" r="0.85" fill="#54287a" stroke="none" stroke-width="0.5" />
<circle cx="455.46" cy="45.47" r="0.85" fill="#54287a" stroke="none" stroke-width="0.5" />
<circle cx="447.86" cy="43.54" r="0.85" fill="#54287a" stroke="none" stroke-width="0.5" />
<circle cx="453.81" cy="44.26" r="0.85" fill="#54287a" stroke="none" stroke-width="0.5" />
<circle cx="451.84" cy="42.86" r="0.85" fill="#54287a" stroke="none" stroke-width="0.5" />
<circle cx="452.63" cy="44.95" r="0.85" fill="#54287a" stroke="none" stroke-width="0.5" />
<circle cx="454.49" cy="48.80" r="0.85" fill="#54287a" stroke="none" stroke-width="0.5" />
<circle cx="453.43" cy="44.31" r="0.85" fill="#54287a" stroke="none" stroke-width="0.5" />
<circle cx="445.17" cy="45.34" r="0.85" fill="#54287a" stroke="none" stroke-width="0.5" />
<circle cx="452.11" cy="44.56" r="0.85" fill="#54287a" stroke="none" stroke-width="0.5" />
<circle cx="445.95" cy="50.47" r="0.85" fill="#54287a" stroke="none" stroke-width="0.5" />
<circle cx="449.19" cy="44.44" r="0.85" fill="#54287a" stroke="none" stroke-width="0.5" />
<circle cx="443.07" cy="47.40" r="0.85" fill="#54287a" stroke="none" stroke-width="0.5" />
<circle cx="446.10" cy="49.49" r="0.85" fill="#54287a" stroke="none" stroke-width="0.5" />
<circle cx="447.86" cy="40.90" r="0.85" fill="#54287a" stroke="none" stroke-width="0.5" />
<circle cx="450.37" cy="49.75" r="0.85" fill="#54287a" stroke="none" stroke-width="0.5" />
<circle cx="454.93" cy="48.21" r="0.85" fill="#54287a" stroke="none" stroke-width="0.5" />
<circle cx="449.58" cy="40.05" r="0.85" fill="#54287a" stroke="none" stroke-width="0.5" />
<circle cx="454.28" cy="47.05" r="0.85" fill="#54287a" stroke="none" stroke-width="0.5" />
<circle cx="450.14" cy="47.28" r="0.85" fill="#54287a" stroke="none" stroke-width="0.5" />
<circle cx="453.71" cy="46.10" r="0.85" fill="#54287a" stroke="none" stroke-width="0.5" />
<circle cx="455.82" cy="50.14" r="0.85" fill="#54287a" stroke="none" stroke-width="0.5" />
<circle cx="454.61" cy="44.44" r="0.85" fill="#54287a" stroke="none" stroke-width="0.5" />
<circle cx="446.67" cy="42.94" r="0.85" fill="#54287a" stroke="none" stroke-width="0.5" />
<circle cx="444.88" cy="46.45" r="0.85" fill="#54287a" stroke="none" stroke-width="0.5" />
<circle cx="450.00" cy="47.92" r="0.85" fill="#54287a" stroke="none" stroke-width="0.5" />
<circle cx="447.99" cy="43.61" r="0.85" fill="#54287a" stroke="none" stroke-width="0.5" />
<circle cx="453.83" cy="48.13" r="0.85" fill="#54287a" stroke="none" stroke-width="0.5" />
<circle cx="450.51" cy="43.33" r="0.85" fill="#54287a" stroke="none" stroke-width="0.5" />
<circle cx="452.46" cy="42.07" r="0.85" fill="#54287a" stroke="none" stroke-width="0.5" />
<circle cx="454.79" cy="45.26" r="0.85" fill="#54287a" stroke="none" stroke-width="0.5" />
<circle cx="450.89" cy="42.48" r="0.85" fill="#54287a" stroke="none" stroke-width="0.5" />
<circle cx="455.06" cy="50.41" r="0.85" fill="#54287a" stroke="none" stroke-width="0.5" />
<circle cx="467.69" cy="39.71" r="0.85" fill="#54287a" stroke="none" stroke-width="0.5" />
<circle cx="461.92" cy="39.81" r="0.85" fill="#54287a" stroke="none" stroke-width="0.5" />
<circle cx="464.33" cy="37.14" r="0.85" fill="#54287a" stroke="none" stroke-width="0.5" />
<circle cx="464.44" cy="40.07" r="0.85" fill="#54287a" stroke="none" stroke-width="0.5" />
<circle cx="460.59" cy="40.96" r="0.85" fill="#54287a" stroke="none" stroke-width="0.5" />
<circle cx="460.99" cy="41.63" r="0.85" fill="#54287a" stroke="none" stroke-width="0.5" />
<circle cx="467.67" cy="40.08" r="0.85" fill="#54287a" stroke="none" stroke-width="0.5" />
<circle cx="460.72" cy="40.03" r="0.85" fill="#54287a" stroke="none" stroke-width="0.5" />
<circle cx="463.83" cy="43.16" r="0.85" fill="#54287a" stroke="none" stroke-width="0.5" />
<circle cx="461.51" cy="42.50" r="0.85" fill="#54287a" stroke="none" stroke-width="0.5" />
<circle cx="469.76" cy="41.62" r="0.85" fill="#54287a" stroke="none" stroke-width="0.5" />
<circle cx="469.62" cy="39.94" r="0.85" fill="#54287a" stroke="none" stroke-width="0.5" />
<circle cx="469.38" cy="42.91" r="0.85" fill="#54287a" stroke="none" stroke-width="0.5" />
<circle cx="461.79" cy="42.02" r="0.85" fill="#54287a" stroke="none" stroke-width="0.5" />
<circle cx="463.57" cy="41.79" r="0.85" fill="#54287a" stroke="none" stroke-width="0.5" />
<circle cx="461.72" cy="42.78" r="0.85" fill="#54287a" stroke="none" stroke-width="0.5" />
<circle cx="462.84" cy="42.21" r="0.85" fill="#54287a" stroke="none" stroke-width="0.5" />
<circle cx="461.58" cy="40.02" r="0.85" fill="#54287a" stroke="none" stroke-width="0.5" />
<circle cx="462.72" cy="40.04" r="0.85" fill="#54287a" stroke="none" stroke-width="0.5" />
<circle cx="463.26" cy="36.76" r="0.85" fill="#54287a" stroke="none" stroke-width="0.5" />
<circle cx="461.95" cy="37.63" r="0.85" fill="#54287a" stroke="none" stroke-width="0.5" />
<circle cx="469.19" cy="41.26" r="0.85" fill="#54287a" stroke="none" stroke-width="0.5" />
<circle cx="465.29" cy="40.95" r="0.85" fill="#54287a" stroke="none" stroke-width="0.5" />
<circle cx="463.65" cy="42.61" r="0.85" fill="#54287a" stroke="none" stroke-width="0.5" />
<circle cx="465.53" cy="40.56" r="0.85" fill="#54287a" stroke="none" stroke-width="0.5" />
<circle cx="469.73" cy="40.91" r="0.85" fill="#54287a" stroke="none" stroke-width="0.5" />
<circle cx="463.98" cy="42.08" r="0.85" fill="#54287a" stroke="none" stroke-width="0.5" />
<circle cx="462.74" cy="43.43" r="0.85" fill="#54287a" stroke="none" stroke-width="0.5" />
<circle cx="465.74" cy="39.02" r="0.85" fill="#54287a" stroke="none" stroke-width="0.5" />
<circle cx="467.54" cy="39.60" r="0.85" fill="#54287a" stroke="none" stroke-width="0.5" />
<circle cx="461.90" cy="41.71" r="0.85" fill="#54287a" stroke="none" stroke-width="0.5" />
<circle cx="460.66" cy="42.24" r="0.85" fill="#54287a" stroke="none" stroke-width="0.5" />
<circle cx="462.64" cy="40.97" r="0.85" fill="#54287a" stroke="none" stroke-width="0.5" />
<circle cx="469.65" cy="40.60" r="0.85" fill="#54287a" stroke="none" stroke-width="0.5" />
<circle cx="466.57" cy="38.69" r="0.85" fill="#54287a" stroke="none" stroke-width="0.5" />
<circle cx="461.63" cy="40.81" r="0.85" fill="#54287a" stroke="none" stroke-width="0.5" />
<circle cx="464.35" cy="40.09" r="0.85" fill="#54287a" stroke="none" stroke-width="0.5" />
<circle cx="462.38" cy="41.07" r="0.85" fill="#54287a" stroke="none" stroke-width="0.5" />
<circle cx="463.61" cy="37.24" r="0.85" fill="#54287a" stroke="none" stroke-width="0.5" />
<circle cx="463.63" cy="38.07" r="0.85" fill="#54287a" stroke="none" stroke-width="0.5" />
<circle cx="465.80" cy="40.62" r="0.85" fill="#54287a" stroke="none" stroke-width="0.5" />
<circle cx="462.16" cy="40.87" r="0.85" fill="#54287a" stroke="none" stroke-width="0.5" />
<circle cx="464.76" cy="37.44" r="0.85" fill="#54287a" stroke="none" stroke-width="0.5" />
<circle cx="461.63" cy="37.17" r="0.85" fill="#54287a" stroke="none" stroke-width="0.5" />
<circle cx="466.33" cy="42.60" r="0.85" fill="#54287a" stroke="none" stroke-width="0.5" />
<circle cx="467.71" cy="39.31" r="0.85" fill="#54287a" stroke="none" stroke-width="0.5" />
<circle cx="462.74" cy="36.58" r="0.85" fill="#54287a" stroke="none" stroke-width="0.5" />
<circle cx="466.39" cy="40.44" r="0.85" fill="#54287a" stroke="none" stroke-width="0.5" />
<circle cx="463.56" cy="41.02" r="0.85" fill="#54287a" stroke="none" stroke-width="0.5" />
<circle cx="464.46" cy="43.06" r="0.85" fill="#54287a" stroke="none" stroke-width="0.5" />
<circle cx="465.30" cy="39.34" r="0.85" fill="#54287a" stroke="none" stroke-width="0.5" />
<circle cx="462.48" cy="36.91" r="0.85" fill="#54287a" stroke="none" stroke-width="0.5" />
<circle cx="465.49" cy="43.09" r="0.85" fill="#54287a" stroke="none" stroke-width="0.5" />
<circle cx="461.57" cy="37.90" r="0.85" fill="#54287a" stroke="none" stroke-width="0.5" />
<circle cx="466.04" cy="40.05" r="0.85" fill="#54287a" stroke="none" stroke-width="0.5" />
<circle cx="466.36" cy="42.19" r="0.85" fill="#54287a" stroke="none" stroke-width="0.5" />
<circle cx="461.88" cy="38.67" r="0.85" fill="#54287a" stroke="none" stroke-width="0.5" />
<circle cx="463.08" cy="36.84" r="0.85" fill="#54287a" stroke="none" stroke-width="0.5" />
<circle cx="468.74" cy="41.98" r="0.85" fill="#54287a" stroke="none" stroke-width="0.5" />
<circle cx="468.31" cy="41.72" r="0.85" fill="#54287a" stroke="none" stroke-width="0.5" />
<circle cx="464.67" cy="41.69" r="0.85" fill="#54287a" stroke="none" stroke-width="0.5" />
<circle cx="464.54" cy="38.08" r="0.85" fill="#54287a" stroke="none" stroke-width="0.5" />
<circle cx="460.57" cy="38.85" r="0.85" fill="#54287a" stroke="none" stroke-width="0.5" />
<circle cx="467.40" cy="41.37" r="0.85" fill="#54287a" stroke="none" stroke-width="0.5" />
<circle cx="468.32" cy="41.48" r="0.85" fill="#54287a" stroke="none" stroke-width="0.5" />
<circle cx="462.75" cy="40.38" r="0.85" fill="#54287a" stroke="none" stroke-width="0.5" />
<circle cx="464.39" cy="42.02" r="0.85" fill="#54287a" stroke="none" stroke-width="0.5" />
<circle cx="465.22" cy="38.36" r="0.85" fill="#54287a" stroke="none" stroke-width="0.5" />
<circle cx="466.36" cy="43.26" r="0.85" fill="#54287a" stroke="none" stroke-width="0.5" />
<circle cx="462.28" cy="42.66" r="0.85" fill="#54287a" stroke="none" stroke-width="0.5" />
<circle cx="462.47" cy="41.71" r="0.85" fill="#54287a" stroke="none" stroke-width="0.5" />
<circle cx="469.27" cy="41.72" r="0.85" fill="#54287a" stroke="none" stroke-width="0.5" />
<circle cx="463.34" cy="42.66" r="0.85" fill="#54287a" stroke="none" stroke-width="0.5" />
<circle cx="463.35" cy="38.17" r="0.85" fill="#54287a" stroke="none" stroke-width="0.5" />
<circle cx="468.91" cy="40.91" r="0.85" fill="#54287a" stroke="none" stroke-width="0.5" />
<circle cx="466.85" cy="41.16" r="0.85" fill="#54287a" stroke="none" stroke-width="0.5" />
<circle cx="469.60" cy="39.79" r="0.85" fill="#54287a" stroke="none" stroke-width="0.5" />
<circle cx="468.26" cy="41.38" r="0.85" fill="#54287a" stroke="none" stroke-width="0.5" />
<circle cx="468.43" cy="39.56" r="0.85" fill="#54287a" stroke="none" stroke-width="0.5" />
<circle cx="467.16" cy="40.49" r="0.85" fill="#54287a" stroke="none" stroke-width="0.5" />
<circle cx="463.15" cy="37.98" r="0.85" fill="#54287a" stroke="none" stroke-width="0.5" />
<circle cx="466.18" cy="37.04" r="0.85" fill="#54287a" stroke="none" stroke-width="0.5" />
<circle cx="469.12" cy="38.91" r="0.85" fill="#54287a" stroke="none" stroke-width="0.5" />
<circle cx="461.56" cy="36.70" r="0.85" fill="#54287a" stroke="none" stroke-width="0.5" />
<circle cx="460.60" cy="41.35" r="0.85" fill="#54287a" stroke="none" stroke-width="0.5" />
<circle cx="466.29" cy="41.38" r="0.85" fill="#54287a" stroke="none" stroke-width="0.5" />
<circle cx="465.87" cy="39.04" r="0.85" fill="#54287a" stroke="none" stroke-width="0.5" />
<circle cx="468.05" cy="42.24" r="0.85" fill="#54287a" stroke="none" stroke-width="0.5" />
<circle cx="468.53" cy="42.90" r="0.85" fill="#54287a" stroke="none" stroke-width="0.5" />
<circle cx="462.17" cy="37.28" r="0.85" fill="#54287a" stroke="none" stroke-width="0.5" />
<circle cx="460.53" cy="42.43" r="0.85" fill="#54287a" stroke="none" stroke-width="0.5" />
<circle cx="468.00" cy="40.94" r="0.85" fill="#54287a" stroke="none" stroke-width="0.5" />
<circle cx="468.12" cy="40.92" r="0.85" fill="#54287a" stroke="none" stroke-width="0.5" />
<circle cx="462.96" cy="37.20" r="0.85" fill="#54287a" stroke="none" stroke-width="0.5" />
<circle cx="461.14" cy="41.80" r="0.85" fill="#54287a" stroke="none" stroke-width="0.5" />
<circle cx="462.17" cy="38.73" r="0.85" fill="#54287a" stroke="none" stroke-width="0.5" />
<circle cx="464.27" cy="36.65" r="0.85" fill="#54287a" stroke="none" stroke-width="0.5" />
<circle cx="462.66" cy="38.48" r="0.85" fill="#54287a" stroke="none" stroke-width="0.5" />
<circle cx="467.07" cy="39.08" r="0.85" fill="#54287a" stroke="none" stroke-width="0.5" />
<circle cx="463.28" cy="43.25" r="0.85" fill="#54287a" stroke="none" stroke-width="0.5" />
<circle cx="465.04" cy="42.46" r="0.85" fill="#54287a" stroke="none" stroke-width="0.5" />
<circle cx="466.14" cy="36.72" r="0.85" fill="#54287a" stroke="none" stroke-width="0.5" />
<circle cx="464.16" cy="39.56" r="0.85" fill="#54287a" stroke="none" stroke-width="0.5" />
<circle cx="467.62" cy="38.93" r="0.85" fill="#54287a" stroke="none" stroke-width="0.5" />
<circle cx="466.96" cy="40.27" r="0.85" fill="#54287a" stroke="none" stroke-width="0.5" />
<circle cx="462.28" cy="42.54" r="0.85" fill="#54287a" stroke="none" stroke-width="0.5" />
<circle cx="461.07" cy="42.24" r="0.85" fill="#54287a" stroke="none" stroke-width="0.5" />
<circle cx="461.84" cy="36.51" r="0.85" fill="#54287a" stroke="none" stroke-width="0.5" />
<circle cx="462.14" cy="41.84" r="0.85" fill="#54287a" stroke="none" stroke-width="0.5" />
<circle cx="464.91" cy="39.94" r="0.85" fill="#54287a" stroke="none" stroke-width="0.5" />
<circle cx="464.95" cy="38.93" r="0.85" fill="#54287a" stroke="none" stroke-width="0.5" />
<circle cx="462.26" cy="41.40" r="0.85" fill="#54287a" stroke="none" stroke-width="0.5" />
<circle cx="464.98" cy="37.27" r="0.85" fill="#54287a" stroke="none" stroke-width="0.5" />
<circle cx="466.31" cy="37.07" r="0.85" fill="#54287a" stroke="none" stroke-width="0.5" />
<circle cx="467.76" cy="41.38" r="0.85" fill="#54287a" stroke="none" stroke-width="0.5" />
<circle cx="467.75" cy="40.90" r="0.85" fill="#54287a" stroke="none" stroke-width="0.5" />
<circle cx="463.61" cy="39.31" r="0.85" fill="#54287a" stroke="none" stroke-width="0.5" />
<circle cx="463.99" cy="42.73" r="0.85" fill="#54287a" stroke="none" stroke-width="0.5" />
<circle cx="461.03" cy="42.72" r="0.85" fill="#54287a" stroke="none" stroke-width="0.5" />
<circle cx="462.73" cy="42.81" r="0.85" fill="#54287a" stroke="none" stroke-width="0.5" />
<circle cx="465.01" cy="39.16" r="0.85" fill="#54287a" stroke="none" stroke-width="0.5" />
<circle cx="464.62" cy="40.22" r="0.85" fill="#54287a" stroke="none" stroke-width="0.5" />
<circle cx="467.44" cy="41.77" r="0.85" fill="#54287a" stroke="none" stroke-width="0.5" />
<circle cx="466.40" cy="38.94" r="0.85" fill="#54287a" stroke="none" stroke-width="0.5" />
<circle cx="463.34" cy="37.59" r="0.85" fill="#54287a" stroke="none" stroke-width="0.5" />
<circle cx="468.29" cy="41.13" r="0.85" fill="#54287a" stroke="none" stroke-width="0.5" />
<circle cx="464.41" cy="41.91" r="0.85" fill="#54287a" stroke="none" stroke-width="0.5" />
<circle cx="465.76" cy="37.38" r="0.85" fill="#54287a" stroke="none" stroke-width="0.5" />
<circle cx="464.64" cy="42.70" r="0.85" fill="#54287a" stroke="none" stroke-width="0.5" />
<circle cx="462.48" cy="37.84" r="0.85" fill="#54287a" stroke="none" stroke-width="0.5" />
<circle cx="463.09" cy="41.42" r="0.85" fill="#54287a" stroke="none" stroke-width="0.5" />
<circle cx="461.70" cy="38.23" r="0.85" fill="#54287a" stroke="none" stroke-width="0.5" />
<circle cx="463.34" cy="40.16" r="0.85" fill="#54287a" stroke="none" stroke-width="0.5" />
<circle cx="461.74" cy="38.80" r="0.85" fill="#54287a" stroke="none" stroke-width="0.5" />
<circle cx="462.02" cy="43.33" r="0.85" fill="#54287a" stroke="none" stroke-width="0.5" />
<circle cx="463.89" cy="43.39" r="0.85" fill="#54287a" stroke="none" stroke-width="0.5" />
<circle cx="467.83" cy="41.63" r="0.85" fill="#54287a" stroke="none" stroke-width="0.5" />
<circle cx="464.38" cy="37.87" r="0.85" fill="#54287a" stroke="none" stroke-width="0.5" />
<circle cx="466.32" cy="37.25" r="0.85" fill="#54287a" stroke="none" stroke-width="0.5" />
<circle cx="462.18" cy="39.22" r="0.85" fill="#54287a" stroke="none" stroke-width="0.5" />
<circle cx="460.53" cy="39.29" r="0.85" fill="#54287a" stroke="none" stroke-width="0.5" />
<circle cx="467.79" cy="41.35" r="0.85" fill="#54287a" stroke="none" stroke-width="0.5" />
<circle cx="465.00" cy="40.93" r="0.85" fill="#54287a" stroke="none" stroke-width="0.5" />
<circle cx="464.65" cy="37.49" r="0.85" fill="#54287a" stroke="none" stroke-width="0.5" />
<circle cx="466.00" cy="39.33" r="0.85" fill="#54287a" stroke="none" stroke-width="0.5" />
<circle cx="467.31" cy="42.86" r="0.85" fill="#54287a" stroke="none" stroke-width="0.5" />
<circle cx="464.33" cy="40.52" r="0.85" fill="#54287a" stroke="none" stroke-width="0.5" />
<circle cx="467.39" cy="39.45" r="0.85" fill="#54287a" stroke="none" stroke-width="0.5" />
<circle cx="462.39" cy="41.56" r="0.85" fill="#54287a" stroke="none" stroke-width="0.5" />
<circle cx="468.65" cy="41.92" r="0.85" fill="#54287a" stroke="none" stroke-width="0.5" />
<circle cx="466.92" cy="42.47" r="0.85" fill="#54287a" stroke="none" stroke-width="0.5" />
<circle cx="466.72" cy="40.99" r="0.85" fill="#54287a" stroke="none" stroke-width="0.5" />
<circle cx="464.56" cy="38.69" r="0.85" fill="#54287a" stroke="none" stroke-width="0.5" />
<circle cx="466.23" cy="37.19" r="0.85" fill="#54287a" stroke="none" stroke-width="0.5" />
<circle cx="464.23" cy="41.98" r="0.85" fill="#54287a" stroke="none" stroke-width="0.5" />
<circle cx="467.05" cy="40.91" r="0.85" fill="#54287a" stroke="none" stroke-width="0.5" />
<circle cx="462.60" cy="39.47" r="0.85" fill="#54287a" stroke="none" stroke-width="0.5" />
<circle cx="464.57" cy="40.85" r="0.85" fill="#54287a" stroke="none" stroke-width="0.5" />
<circle cx="464.13" cy="41.23" r="0.85" fill="#54287a" stroke="none" stroke-width="0.5" />
<circle cx="466.48" cy="41.95" r="0.85" fill="#54287a" stroke="none" stroke-width="0.5" />
<circle cx="463.93" cy="39.93" r="0.85" fill="#54287a" stroke="none" stroke-width="0.5" />
<circle cx="465.42" cy="37.63" r="0.85" fill="#54287a" stroke="none" stroke-width="0.5" />
<circle cx="467.71" cy="43.08" r="0.85" fill="#54287a" stroke="none" stroke-width="0.5" />
<circle cx="465.18" cy="37.21" r="0.85" fill="#54287a" stroke="none" stroke-width="0.5" />
<circle cx="465.72" cy="40.29" r="0.85" fill="#54287a" stroke="none" stroke-width="0.5" />
<circle cx="467.09" cy="40.09" r="0.85" fill="#54287a" stroke="none" stroke-width="0.5" />
<circle cx="467.10" cy="50.50" r="0.95" fill="#d9202f" stroke="none" stroke-width="0.5" />
<circle cx="465.83" cy="46.81" r="0.95" fill="#d9202f" stroke="none" stroke-width="0.5" />
<circle cx="470.44" cy="45.05" r="0.95" fill="#d9202f" stroke="none" stroke-width="0.5" />
<circle cx="467.59" cy="46.65" r="0.95" fill="#d9202f" stroke="none" stroke-width="0.5" />
<circle cx="468.44" cy="44.28" r="0.95" fill="#d9202f" stroke="none" stroke-width="0.5" />
<circle cx="470.83" cy="46.33" r="0.95" fill="#d9202f" stroke="none" stroke-width="0.5" />
<circle cx="460.81" cy="45.61" r="0.95" fill="#d9202f" stroke="none" stroke-width="0.5" />
<circle cx="464.52" cy="43.32" r="0.95" fill="#d9202f" stroke="none" stroke-width="0.5" />
<circle cx="464.72" cy="46.90" r="0.95" fill="#d9202f" stroke="none" stroke-width="0.5" />
<circle cx="467.74" cy="46.30" r="0.95" fill="#d9202f" stroke="none" stroke-width="0.5" />
<circle cx="463.06" cy="45.17" r="0.95" fill="#d9202f" stroke="none" stroke-width="0.5" />
<circle cx="465.89" cy="45.13" r="0.95" fill="#d9202f" stroke="none" stroke-width="0.5" />
<circle cx="468.86" cy="46.65" r="0.95" fill="#d9202f" stroke="none" stroke-width="0.5" />
<circle cx="462.49" cy="44.34" r="0.95" fill="#d9202f" stroke="none" stroke-width="0.5" />
<circle cx="467.05" cy="47.33" r="0.95" fill="#d9202f" stroke="none" stroke-width="0.5" />
<circle cx="466.27" cy="45.19" r="0.95" fill="#d9202f" stroke="none" stroke-width="0.5" />
<circle cx="470.61" cy="46.31" r="0.95" fill="#d9202f" stroke="none" stroke-width="0.5" />
<circle cx="467.10" cy="50.40" r="0.95" fill="#d9202f" stroke="none" stroke-width="0.5" />
<circle cx="469.01" cy="47.32" r="0.95" fill="#d9202f" stroke="none" stroke-width="0.5" />
<circle cx="463.38" cy="48.02" r="0.95" fill="#d9202f" stroke="none" stroke-width="0.5" />
<circle cx="461.55" cy="50.54" r="0.95" fill="#d9202f" stroke="none" stroke-width="0.5" />
<circle cx="464.03" cy="50.69" r="0.95" fill="#d9202f" stroke="none" stroke-width="0.5" />
<circle cx="463.09" cy="46.51" r="0.95" fill="#d9202f" stroke="none" stroke-width="0.5" />
<circle cx="462.94" cy="46.95" r="0.95" fill="#d9202f" stroke="none" stroke-width="0.5" />
<circle cx="462.21" cy="43.22" r="0.95" fill="#d9202f" stroke="none" stroke-width="0.5" />
<circle cx="468.00" cy="45.67" r="0.95" fill="#d9202f" stroke="none" stroke-width="0.5" />
<circle cx="462.85" cy="45.86" r="0.95" fill="#d9202f" stroke="none" stroke-width="0.5" />
<circle cx="465.38" cy="46.97" r="0.95" fill="#d9202f" stroke="none" stroke-width="0.5" />
<circle cx="467.08" cy="49.00" r="0.95" fill="#d9202f" stroke="none" stroke-width="0.5" />
<circle cx="464.11" cy="51.37" r="0.95" fill="#d9202f" stroke="none" stroke-width="0.5" />
<circle cx="469.43" cy="43.70" r="0.95" fill="#d9202f" stroke="none" stroke-width="0.5" />
<circle cx="468.67" cy="44.44" r="0.95" fill="#d9202f" stroke="none" stroke-width="0.5" />
<circle cx="469.18" cy="48.77" r="0.95" fill="#d9202f" stroke="none" stroke-width="0.5" />
<circle cx="460.36" cy="43.30" r="0.95" fill="#d9202f" stroke="none" stroke-width="0.5" />
<circle cx="470.48" cy="48.97" r="0.95" fill="#d9202f" stroke="none" stroke-width="0.5" />
<circle cx="462.90" cy="44.09" r="0.95" fill="#d9202f" stroke="none" stroke-width="0.5" />
<circle cx="461.74" cy="45.26" r="0.95" fill="#d9202f" stroke="none" stroke-width="0.5" />
<circle cx="468.58" cy="46.25" r="0.95" fill="#d9202f" stroke="none" stroke-width="0.5" />
<circle cx="461.85" cy="51.16" r="0.95" fill="#d9202f" stroke="none" stroke-width="0.5" />
<circle cx="468.75" cy="44.68" r="0.95" fill="#d9202f" stroke="none" stroke-width="0.5" />
<circle cx="469.82" cy="48.55" r="0.95" fill="#d9202f" stroke="none" stroke-width="0.5" />
<circle cx="468.64" cy="49.08" r="0.95" fill="#d9202f" stroke="none" stroke-width="0.5" />
<circle cx="469.26" cy="44.94" r="0.95" fill="#d9202f" stroke="none" stroke-width="0.5" />
<circle cx="467.68" cy="47.87" r="0.95" fill="#d9202f" stroke="none" stroke-width="0.5" />
<circle cx="468.21" cy="47.06" r="0.95" fill="#d9202f" stroke="none" stroke-width="0.5" />
<circle cx="469.73" cy="48.08" r="0.95" fill="#d9202f" stroke="none" stroke-width="0.5" />
<circle cx="463.06" cy="45.26" r="0.95" fill="#d9202f" stroke="none" stroke-width="0.5" />
<circle cx="461.70" cy="47.54" r="0.95" fill="#d9202f" stroke="none" stroke-width="0.5" />
<circle cx="460.83" cy="47.31" r="0.95" fill="#d9202f" stroke="none" stroke-width="0.5" />
<circle cx="461.76" cy="47.52" r="0.95" fill="#d9202f" stroke="none" stroke-width="0.5" />
<circle cx="465.58" cy="47.95" r="0.95" fill="#d9202f" stroke="none" stroke-width="0.5" />
<circle cx="469.52" cy="43.26" r="0.95" fill="#d9202f" stroke="none" stroke-width="0.5" />
<circle cx="469.28" cy="47.32" r="0.95" fill="#d9202f" stroke="none" stroke-width="0.5" />
<circle cx="466.28" cy="49.05" r="0.95" fill="#d9202f" stroke="none" stroke-width="0.5" />
<circle cx="469.28" cy="46.50" r="0.95" fill="#d9202f" stroke="none" stroke-width="0.5" />
<circle cx="464.72" cy="51.65" r="0.95" fill="#d9202f" stroke="none" stroke-width="0.5" />
<circle cx="461.01" cy="48.81" r="0.95" fill="#d9202f" stroke="none" stroke-width="0.5" />
<circle cx="467.07" cy="43.45" r="0.95" fill="#d9202f" stroke="none" stroke-width="0.5" />
<circle cx="466.78" cy="49.21" r="0.95" fill="#d9202f" stroke="none" stroke-width="0.5" />
<circle cx="470.26" cy="46.11" r="0.95" fill="#d9202f" stroke="none" stroke-width="0.5" />
<circle cx="470.80" cy="47.69" r="0.95" fill="#d9202f" stroke="none" stroke-width="0.5" />
<circle cx="465.43" cy="51.10" r="0.95" fill="#d9202f" stroke="none" stroke-width="0.5" />
<circle cx="460.57" cy="49.52" r="0.95" fill="#d9202f" stroke="none" stroke-width="0.5" />
<circle cx="466.95" cy="46.18" r="0.95" fill="#d9202f" stroke="none" stroke-width="0.5" />
<circle cx="469.51" cy="46.42" r="0.95" fill="#d9202f" stroke="none" stroke-width="0.5" />
<circle cx="465.32" cy="47.82" r="0.95" fill="#d9202f" stroke="none" stroke-width="0.5" />
<circle cx="468.52" cy="45.05" r="0.95" fill="#d9202f" stroke="none" stroke-width="0.5" />
<circle cx="464.90" cy="46.92" r="0.95" fill="#d9202f" stroke="none" stroke-width="0.5" />
<circle cx="466.18" cy="50.48" r="0.95" fill="#d9202f" stroke="none" stroke-width="0.5" />
<circle cx="463.36" cy="50.48" r="0.95" fill="#d9202f" stroke="none" stroke-width="0.5" />
<circle cx="464.56" cy="47.63" r="0.95" fill="#d9202f" stroke="none" stroke-width="0.5" />
<circle cx="463.13" cy="47.66" r="0.95" fill="#d9202f" stroke="none" stroke-width="0.5" />
<circle cx="470.73" cy="48.96" r="0.95" fill="#d9202f" stroke="none" stroke-width="0.5" />
<circle cx="468.75" cy="46.11" r="0.95" fill="#d9202f" stroke="none" stroke-width="0.5" />
<circle cx="463.62" cy="45.83" r="0.95" fill="#d9202f" stroke="none" stroke-width="0.5" />
<circle cx="466.53" cy="48.79" r="0.95" fill="#d9202f" stroke="none" stroke-width="0.5" />
<circle cx="468.67" cy="43.55" r="0.95" fill="#d9202f" stroke="none" stroke-width="0.5" />
<circle cx="466.09" cy="43.64" r="0.95" fill="#d9202f" stroke="none" stroke-width="0.5" />
<circle cx="463.44" cy="43.25" r="0.95" fill="#d9202f" stroke="none" stroke-width="0.5" />
<circle cx="462.25" cy="51.31" r="0.95" fill="#d9202f" stroke="none" stroke-width="0.5" />
<circle cx="466.77" cy="48.99" r="0.95" fill="#d9202f" stroke="none" stroke-width="0.5" />
<circle cx="466.81" cy="48.63" r="0.95" fill="#d9202f" stroke="none" stroke-width="0.5" />
<circle cx="466.97" cy="49.33" r="0.95" fill="#d9202f" stroke="none" stroke-width="0.5" />
<circle cx="466.64" cy="49.19" r="0.95" fill="#d9202f" stroke="none" stroke-width="0.5" />
<circle cx="462.50" cy="49.07" r="0.95" fill="#d9202f" stroke="none" stroke-width="0.5" />
<circle cx="465.15" cy="49.91" r="0.95" fill="#d9202f" stroke="none" stroke-width="0.5" />
<circle cx="461.29" cy="44.80" r="0.95" fill="#d9202f" stroke="none" stroke-width="0.5" />
<circle cx="460.60" cy="50.02" r="0.95" fill="#d9202f" stroke="none" stroke-width="0.5" />
<circle cx="470.07" cy="48.97" r="0.95" fill="#d9202f" stroke="none" stroke-width="0.5" />
<circle cx="464.18" cy="50.44" r="0.95" fill="#d9202f" stroke="none" stroke-width="0.5" />
<circle cx="468.69" cy="48.15" r="0.95" fill="#d9202f" stroke="none" stroke-width="0.5" />
<circle cx="462.99" cy="45.86" r="0.95" fill="#d9202f" stroke="none" stroke-width="0.5" />
<circle cx="464.76" cy="46.00" r="0.95" fill="#d9202f" stroke="none" stroke-width="0.5" />
<circle cx="464.85" cy="48.85" r="0.95" fill="#d9202f" stroke="none" stroke-width="0.5" />
<circle cx="470.29" cy="43.68" r="0.95" fill="#d9202f" stroke="none" stroke-width="0.5" />
<circle cx="466.33" cy="43.55" r="0.95" fill="#d9202f" stroke="none" stroke-width="0.5" />
<circle cx="461.48" cy="50.33" r="0.95" fill="#d9202f" stroke="none" stroke-width="0.5" />
<circle cx="466.41" cy="51.28" r="0.95" fill="#d9202f" stroke="none" stroke-width="0.5" />
<circle cx="465.02" cy="43.32" r="0.95" fill="#d9202f" stroke="none" stroke-width="0.5" />
<circle cx="464.38" cy="48.41" r="0.95" fill="#d9202f" stroke="none" stroke-width="0.5" />
<circle cx="465.33" cy="46.83" r="0.95" fill="#d9202f" stroke="none" stroke-width="0.5" />
<circle cx="461.30" cy="48.87" r="0.95" fill="#d9202f" stroke="none" stroke-width="0.5" />
<circle cx="462.49" cy="44.54" r="0.95" fill="#d9202f" stroke="none" stroke-width="0.5" />
<circle cx="460.37" cy="43.24" r="0.95" fill="#d9202f" stroke="none" stroke-width="0.5" />
<circle cx="467.58" cy="44.27" r="0.95" fill="#d9202f" stroke="none" stroke-width="0.5" />
<circle cx="470.64" cy="43.98" r="0.95" fill="#d9202f" stroke="none" stroke-width="0.5" />
<circle cx="469.59" cy="44.33" r="0.95" fill="#d9202f" stroke="none" stroke-width="0.5" />
<circle cx="460.39" cy="49.53" r="0.95" fill="#d9202f" stroke="none" stroke-width="0.5" />
<circle cx="462.82" cy="49.66" r="0.95" fill="#d9202f" stroke="none" stroke-width="0.5" />
<circle cx="462.22" cy="43.64" r="0.95" fill="#d9202f" stroke="none" stroke-width="0.5" />
<circle cx="468.56" cy="49.48" r="0.95" fill="#d9202f" stroke="none" stroke-width="0.5" />
<circle cx="469.44" cy="49.62" r="0.95" fill="#d9202f" stroke="none" stroke-width="0.5" />
<circle cx="461.11" cy="48.73" r="0.95" fill="#d9202f" stroke="none" stroke-width="0.5" />
<circle cx="467.86" cy="47.25" r="0.95" fill="#d9202f" stroke="none" stroke-width="0.5" />
<circle cx="470.27" cy="45.44" r="0.95" fill="#d9202f" stroke="none" stroke-width="0.5" />
<circle cx="470.61" cy="49.51" r="0.95" fill="#d9202f" stroke="none" stroke-width="0.5" />
<circle cx="460.32" cy="43.33" r="0.95" fill="#d9202f" stroke="none" stroke-width="0.5" />
<circle cx="467.23" cy="50.39" r="0.95" fill="#d9202f" stroke="none" stroke-width="0.5" />
<circle cx="461.06" cy="45.94" r="0.95" fill="#d9202f" stroke="none" stroke-width="0.5" />
<circle cx="468.08" cy="44.66" r="0.95" fill="#d9202f" stroke="none" stroke-width="0.5" />
<circle cx="469.50" cy="47.48" r="0.95" fill="#d9202f" stroke="none" stroke-width="0.5" />
<circle cx="460.85" cy="46.43" r="0.95" fill="#d9202f" stroke="none" stroke-width="0.5" />
<circle cx="466.41" cy="47.06" r="0.95" fill="#d9202f" stroke="none" stroke-width="0.5" />
<circle cx="467.51" cy="44.48" r="0.95" fill="#d9202f" stroke="none" stroke-width="0.5" />
<circle cx="468.81" cy="46.40" r="0.95" fill="#d9202f" stroke="none" stroke-width="0.5" />
<circle cx="467.16" cy="48.74" r="0.95" fill="#d9202f" stroke="none" stroke-width="0.5" />
<circle cx="464.71" cy="46.59" r="0.95" fill="#d9202f" stroke="none" stroke-width="0.5" />
<circle cx="468.67" cy="48.19" r="0.95" fill="#d9202f" stroke="none" stroke-width="0.5" />
<circle cx="463.36" cy="43.73" r="0.95" fill="#d9202f" stroke="none" stroke-width="0.5" />
<circle cx="470.72" cy="49.39" r="0.95" fill="#d9202f" stroke="none" stroke-width="0.5" />
<circle cx="469.14" cy="46.12" r="0.95" fill="#d9202f" stroke="none" stroke-width="0.5" />
<circle cx="466.74" cy="51.80" r="0.95" fill="#d9202f" stroke="none" stroke-width="0.5" />
<circle cx="469.18" cy="48.49" r="0.95" fill="#d9202f" stroke="none" stroke-width="0.5" />
<circle cx="463.53" cy="46.97" r="0.95" fill="#d9202f" stroke="none" stroke-width="0.5" />
<circle cx="469.79" cy="46.51" r="0.95" fill="#d9202f" stroke="none" stroke-width="0.5" />
<circle cx="467.60" cy="48.50" r="0.95" fill="#d9202f" stroke="none" stroke-width="0.5" />
<circle cx="463.26" cy="43.21" r="0.95" fill="#d9202f" stroke="none" stroke-width="0.5" />
<circle cx="463.04" cy="46.92" r="0.95" fill="#d9202f" stroke="none" stroke-width="0.5" />
<circle cx="466.54" cy="50.38" r="0.95" fill="#d9202f" stroke="none" stroke-width="0.5" />
<circle cx="469.78" cy="43.57" r="0.95" fill="#d9202f" stroke="none" stroke-width="0.5" />
<circle cx="469.57" cy="48.23" r="0.95" fill="#d9202f" stroke="none" stroke-width="0.5" />
<circle cx="463.16" cy="50.69" r="0.95" fill="#d9202f" stroke="none" stroke-width="0.5" />
<circle cx="468.92" cy="49.22" r="0.95" fill="#d9202f" stroke="none" stroke-width="0.5" />
<circle cx="470.07" cy="46.25" r="0.95" fill="#d9202f" stroke="none" stroke-width="0.5" />
<circle cx="461.12" cy="48.07" r="0.95" fill="#d9202f" stroke="none" stroke-width="0.5" />
<circle cx="468.81" cy="44.96" r="0.95" fill="#d9202f" stroke="none" stroke-width="0.5" />
<circle cx="462.73" cy="48.54" r="0.95" fill="#d9202f" stroke="none" stroke-width="0.5" />
<circle cx="467.52" cy="47.29" r="0.95" fill="#d9202f" stroke="none" stroke-width="0.5" />
<circle cx="462.43" cy="45.44" r="0.95" fill="#d9202f" stroke="none" stroke-width="0.5" />
<circle cx="465.16" cy="43.97" r="0.95" fill="#d9202f" stroke="none" stroke-width="0.5" />
<circle cx="468.91" cy="50.00" r="0.95" fill="#d9202f" stroke="none" stroke-width="0.5" />
<circle cx="462.71" cy="48.30" r="0.95" fill="#d9202f" stroke="none" stroke-width="0.5" />
<circle cx="465.84" cy="47.39" r="0.95" fill="#d9202f" stroke="none" stroke-width="0.5" />
<circle cx="466.56" cy="44.86" r="0.95" fill="#d9202f" stroke="none" stroke-width="0.5" />
<circle cx="462.28" cy="44.79" r="0.95" fill="#d9202f" stroke="none" stroke-width="0.5" />
<circle cx="467.77" cy="46.39" r="0.95" fill="#d9202f" stroke="none" stroke-width="0.5" />
<circle cx="466.30" cy="46.74" r="0.95" fill="#d9202f" stroke="none" stroke-width="0.5" />
<circle cx="465.79" cy="44.51" r="0.95" fill="#d9202f" stroke="none" stroke-width="0.5" />
<circle cx="460.68" cy="51.97" r="0.95" fill="#d9202f" stroke="none" stroke-width="0.5" />
<circle cx="464.24" cy="44.13" r="0.95" fill="#d9202f" stroke="none" stroke-width="0.5" />
<circle cx="467.03" cy="50.13" r="0.95" fill="#d9202f" stroke="none" stroke-width="0.5" />
<circle cx="461.89" cy="48.46" r="0.95" fill="#d9202f" stroke="none" stroke-width="0.5" />
<circle cx="463.93" cy="47.77" r="0.95" fill="#d9202f" stroke="none" stroke-width="0.5" />
<circle cx="460.42" cy="43.50" r="0.95" fill="#d9202f" stroke="none" stroke-width="0.5" />
<circle cx="465.45" cy="48.19" r="0.95" fill="#d9202f" stroke="none" stroke-width="0.5" />
<circle cx="463.03" cy="50.06" r="0.95" fill="#d9202f" stroke="none" stroke-width="0.5" />
<circle cx="464.80" cy="51.53" r="0.95" fill="#d9202f" stroke="none" stroke-width="0.5" />
<circle cx="470.61" cy="45.44" r="0.95" fill="#d9202f" stroke="none" stroke-width="0.5" />
<circle cx="460.61" cy="44.97" r="0.95" fill="#d9202f" stroke="none" stroke-width="0.5" />
<circle cx="462.15" cy="43.94" r="0.95" fill="#d9202f" stroke="none" stroke-width="0.5" />
<circle cx="460.75" cy="48.10" r="0.95" fill="#d9202f" stroke="none" stroke-width="0.5" />
<circle cx="469.60" cy="47.23" r="0.95" fill="#d9202f" stroke="none" stroke-width="0.5" />
<circle cx="460.89" cy="48.46" r="0.95" fill="#d9202f" stroke="none" stroke-width="0.5" />
<circle cx="464.49" cy="44.26" r="0.95" fill="#d9202f" stroke="none" stroke-width="0.5" />
<circle cx="470.56" cy="45.46" r="0.95" fill="#d9202f" stroke="none" stroke-width="0.5" />
<circle cx="466.30" cy="48.84" r="0.95" fill="#d9202f" stroke="none" stroke-width="0.5" />
<circle cx="470.53" cy="49.09" r="0.95" fill="#d9202f" stroke="none" stroke-width="0.5" />
<circle cx="464.45" cy="47.15" r="0.95" fill="#d9202f" stroke="none" stroke-width="0.5" />
<circle cx="461.93" cy="51.70" r="0.95" fill="#d9202f" stroke="none" stroke-width="0.5" />
<circle cx="470.91" cy="45.15" r="0.95" fill="#d9202f" stroke="none" stroke-width="0.5" />
<circle cx="460.62" cy="45.45" r="0.95" fill="#d9202f" stroke="none" stroke-width="0.5" />
<circle cx="464.00" cy="51.14" r="0.95" fill="#d9202f" stroke="none" stroke-width="0.5" />
<circle cx="460.71" cy="50.12" r="0.95" fill="#d9202f" stroke="none" stroke-width="0.5" />
<circle cx="467.86" cy="48.89" r="0.95" fill="#d9202f" stroke="none" stroke-width="0.5" />
<circle cx="470.84" cy="43.69" r="0.95" fill="#d9202f" stroke="none" stroke-width="0.5" />
<circle cx="461.76" cy="49.84" r="0.95" fill="#d9202f" stroke="none" stroke-width="0.5" />
<circle cx="470.35" cy="49.16" r="0.95" fill="#d9202f" stroke="none" stroke-width="0.5" />
<circle cx="463.43" cy="48.40" r="0.95" fill="#d9202f" stroke="none" stroke-width="0.5" />
<circle cx="468.39" cy="44.13" r="0.95" fill="#d9202f" stroke="none" stroke-width="0.5" />
<circle cx="463.70" cy="45.46" r="0.95" fill="#d9202f" stroke="none" stroke-width="0.5" />
<circle cx="461.54" cy="47.44" r="0.95" fill="#d9202f" stroke="none" stroke-width="0.5" />
<circle cx="462.02" cy="45.30" r="0.95" fill="#d9202f" stroke="none" stroke-width="0.5" />
<circle cx="461.75" cy="49.16" r="0.95" fill="#d9202f" stroke="none" stroke-width="0.5" />
<circle cx="460.34" cy="49.51" r="0.95" fill="#d9202f" stroke="none" stroke-width="0.5" />
<circle cx="462.31" cy="43.52" r="0.95" fill="#d9202f" stroke="none" stroke-width="0.5" />
<circle cx="470.22" cy="45.14" r="0.95" fill="#d9202f" stroke="none" stroke-width="0.5" />
<circle cx="469.80" cy="44.43" r="0.95" fill="#d9202f" stroke="none" stroke-width="0.5" />
<circle cx="465.03" cy="44.05" r="0.95" fill="#d9202f" stroke="none" stroke-width="0.5" />
<circle cx="466.99" cy="47.18" r="0.95" fill="#d9202f" stroke="none" stroke-width="0.5" />
<circle cx="463.87" cy="50.44" r="0.95" fill="#d9202f" stroke="none" stroke-width="0.5" />
<circle cx="465.36" cy="48.73" r="0.95" fill="#d9202f" stroke="none" stroke-width="0.5" />
<circle cx="461.74" cy="45.15" r="0.95" fill="#d9202f" stroke="none" stroke-width="0.5" />
<circle cx="460.81" cy="49.48" r="0.95" fill="#d9202f" stroke="none" stroke-width="0.5" />
<circle cx="466.18" cy="44.47" r="0.95" fill="#d9202f" stroke="none" stroke-width="0.5" />
<circle cx="469.60" cy="45.54" r="0.95" fill="#d9202f" stroke="none" stroke-width="0.5" />
<circle cx="464.65" cy="44.57" r="0.95" fill="#d9202f" stroke="none" stroke-width="0.5" />
<circle cx="463.13" cy="50.59" r="0.95" fill="#d9202f" stroke="none" stroke-width="0.5" />
<circle cx="463.81" cy="44.68" r="0.95" fill="#d9202f" stroke="none" stroke-width="0.5" />
<circle cx="465.50" cy="46.00" r="0.95" fill="#d9202f" stroke="none" stroke-width="0.5" />
<circle cx="469.95" cy="44.20" r="0.95" fill="#d9202f" stroke="none" stroke-width="0.5" />
<circle cx="470.77" cy="43.70" r="0.95" fill="#d9202f" stroke="none" stroke-width="0.5" />
<circle cx="469.87" cy="49.08" r="0.95" fill="#d9202f" stroke="none" stroke-width="0.5" />
<circle cx="462.48" cy="47.40" r="0.95" fill="#d9202f" stroke="none" stroke-width="0.5" />
<circle cx="463.29" cy="45.47" r="0.95" fill="#d9202f" stroke="none" stroke-width="0.5" />
<circle cx="462.38" cy="46.41" r="0.95" fill="#d9202f" stroke="none" stroke-width="0.5" />
<circle cx="470.19" cy="44.06" r="0.95" fill="#d9202f" stroke="none" stroke-width="0.5" />
<circle cx="463.33" cy="51.09" r="0.95" fill="#d9202f" stroke="none" stroke-width="0.5" />
<circle cx="460.82" cy="49.59" r="0.95" fill="#d9202f" stroke="none" stroke-width="0.5" />
<circle cx="463.37" cy="51.81" r="0.95" fill="#d9202f" stroke="none" stroke-width="0.5" />
<circle cx="460.37" cy="50.30" r="0.95" fill="#d9202f" stroke="none" stroke-width="0.5" />
<circle cx="463.88" cy="44.43" r="0.95" fill="#d9202f" stroke="none" stroke-width="0.5" />
<circle cx="460.22" cy="50.52" r="0.95" fill="#d9202f" stroke="none" stroke-width="0.5" />
<circle cx="465.89" cy="44.84" r="0.95" fill="#d9202f" stroke="none" stroke-width="0.5" />
<circle cx="464.90" cy="51.23" r="0.95" fill="#d9202f" stroke="none" stroke-width="0.5" />
<circle cx="462.56" cy="48.23" r="0.95" fill="#d9202f" stroke="none" stroke-width="0.5" />
<circle cx="461.69" cy="44.79" r="0.95" fill="#d9202f" stroke="none" stroke-width="0.5" />
<circle cx="468.52" cy="49.46" r="0.95" fill="#d9202f" stroke="none" stroke-width="0.5" />
<circle cx="462.32" cy="43.90" r="0.95" fill="#d9202f" stroke="none" stroke-width="0.5" />
<circle cx="461.14" cy="48.56" r="0.95" fill="#d9202f" stroke="none" stroke-width="0.5" />
<circle cx="465.55" cy="45.61" r="0.95" fill="#d9202f" stroke="none" stroke-width="0.5" />
<circle cx="462.43" cy="48.59" r="0.95" fill="#d9202f" stroke="none" stroke-width="0.5" />
<circle cx="467.84" cy="50.34" r="0.95" fill="#d9202f" stroke="none" stroke-width="0.5" />
<circle cx="466.50" cy="44.98" r="0.95" fill="#d9202f" stroke="none" stroke-width="0.5" />
<circle cx="460.91" cy="49.65" r="0.95" fill="#d9202f" stroke="none" stroke-width="0.5" />
<circle cx="464.61" cy="49.55" r="0.95" fill="#d9202f" stroke="none" stroke-width="0.5" />
<circle cx="460.80" cy="50.33" r="0.95" fill="#d9202f" stroke="none" stroke-width="0.5" />
<circle cx="463.82" cy="50.61" r="0.95" fill="#d9202f" stroke="none" stroke-width="0.5" />
<circle cx="469.54" cy="47.54" r="0.95" fill="#d9202f" stroke="none" stroke-width="0.5" />
<circle cx="460.37" cy="51.21" r="0.95" fill="#d9202f" stroke="none" stroke-width="0.5" />
<circle cx="465.35" cy="50.87" r="0.95" fill="#d9202f" stroke="none" stroke-width="0.5" />
<circle cx="463.08" cy="44.84" r="0.95" fill="#d9202f" stroke="none" stroke-width="0.5" />
<circle cx="469.18" cy="46.43" r="0.95" fill="#d9202f" stroke="none" stroke-width="0.5" />
<circle cx="461.97" cy="46.47" r="0.95" fill="#d9202f" stroke="none" stroke-width="0.5" />
<circle cx="466.62" cy="43.24" r="0.95" fill="#d9202f" stroke="none" stroke-width="0.5" />
<circle cx="465.81" cy="47.12" r="0.95" fill="#d9202f" stroke="none" stroke-width="0.5" />
<circle cx="465.77" cy="44.26" r="0.95" fill="#d9202f" stroke="none" stroke-width="0.5" />
<circle cx="467.92" cy="50.39" r="0.95" fill="#d9202f" stroke="none" stroke-width="0.5" />
<circle cx="469.55" cy="46.02" r="0.95" fill="#d9202f" stroke="none" stroke-width="0.5" />
<circle cx="467.88" cy="46.56" r="0.95" fill="#d9202f" stroke="none" stroke-width="0.5" />
<circle cx="468.31" cy="43.74" r="0.95" fill="#d9202f" stroke="none" stroke-width="0.5" />
<circle cx="465.54" cy="47.72" r="0.95" fill="#d9202f" stroke="none" stroke-width="0.5" />
<circle cx="465.93" cy="47.93" r="0.95" fill="#d9202f" stroke="none" stroke-width="0.5" />
<circle cx="460.42" cy="51.71" r="0.95" fill="#d9202f" stroke="none" stroke-width="0.5" />
<circle cx="462.62" cy="44.81" r="0.95" fill="#d9202f" stroke="none" stroke-width="0.5" />
<circle cx="461.31" cy="45.40" r="0.95" fill="#d9202f" stroke="none" stroke-width="0.5" />
<circle cx="469.03" cy="43.46" r="0.95" fill="#d9202f" stroke="none" stroke-width="0.5" />
<circle cx="461.24" cy="49.35" r="0.95" fill="#d9202f" stroke="none" stroke-width="0.5" />
<circle cx="462.31" cy="43.36" r="0.95" fill="#d9202f" stroke="none" stroke-width="0.5" />
<circle cx="466.67" cy="48.27" r="0.95" fill="#d9202f" stroke="none" stroke-width="0.5" />
<circle cx="465.85" cy="49.38" r="0.95" fill="#d9202f" stroke="none" stroke-width="0.5" />
<circle cx="461.31" cy="50.85" r="0.95" fill="#d9202f" stroke="none" stroke-width="0.5" />
<circle cx="467.94" cy="43.60" r="0.95" fill="#d9202f" stroke="none" stroke-width="0.5" />
<circle cx="461.53" cy="47.54" r="0.95" fill="#d9202f" stroke="none" stroke-width="0.5" />
<circle cx="465.61" cy="45.66" r="0.95" fill="#d9202f" stroke="none" stroke-width="0.5" />
<circle cx="461.52" cy="46.77" r="0.95" fill="#d9202f" stroke="none" stroke-width="0.5" />
<circle cx="461.68" cy="48.41" r="0.95" fill="#d9202f" stroke="none" stroke-width="0.5" />
<circle cx="469.50" cy="44.50" r="0.95" fill="#d9202f" stroke="none" stroke-width="0.5" />
<circle cx="466.39" cy="49.77" r="0.95" fill="#d9202f" stroke="none" stroke-width="0.5" />
<circle cx="461.97" cy="50.47" r="0.95" fill="#d9202f" stroke="none" stroke-width="0.5" />
<circle cx="470.33" cy="46.62" r="0.95" fill="#d9202f" stroke="none" stroke-width="0.5" />
<circle cx="464.74" cy="50.59" r="0.95" fill="#d9202f" stroke="none" stroke-width="0.5" />
<circle cx="465.88" cy="46.68" r="0.95" fill="#d9202f" stroke="none" stroke-width="0.5" />
<circle cx="463.86" cy="45.32" r="0.95" fill="#d9202f" stroke="none" stroke-width="0.5" />
<circle cx="463.82" cy="47.03" r="0.95" fill="#d9202f" stroke="none" stroke-width="0.5" />
<circle cx="469.35" cy="43.67" r="0.95" fill="#d9202f" stroke="none" stroke-width="0.5" />
<circle cx="465.79" cy="51.63" r="0.95" fill="#d9202f" stroke="none" stroke-width="0.5" />
<circle cx="470.29" cy="45.39" r="0.95" fill="#d9202f" stroke="none" stroke-width="0.5" />
<circle cx="464.76" cy="48.77" r="0.95" fill="#d9202f" stroke="none" stroke-width="0.5" />
<circle cx="464.14" cy="47.87" r="0.95" fill="#d9202f" stroke="none" stroke-width="0.5" />
<circle cx="460.95" cy="47.01" r="0.95" fill="#d9202f" stroke="none" stroke-width="0.5" />
<circle cx="465.65" cy="43.38" r="0.95" fill="#d9202f" stroke="none" stroke-width="0.5" />
<circle cx="461.71" cy="51.73" r="0.95" fill="#d9202f" stroke="none" stroke-width="0.5" />
<circle cx="467.04" cy="50.32" r="0.95" fill="#d9202f" stroke="none" stroke-width="0.5" />
<circle cx="460.57" cy="48.85" r="0.95" fill="#d9202f" stroke="none" stroke-width="0.5" />
<circle cx="463.07" cy="49.17" r="0.95" fill="#d9202f" stroke="none" stroke-width="0.5" />
<circle cx="463.15" cy="47.97" r="0.95" fill="#d9202f" stroke="none" stroke-width="0.5" />
<circle cx="470.18" cy="48.67" r="0.95" fill="#d9202f" stroke="none" stroke-width="0.5" />
<circle cx="462.91" cy="47.78" r="0.95" fill="#d9202f" stroke="none" stroke-width="0.5" />
<circle cx="464.88" cy="51.57" r="0.95" fill="#d9202f" stroke="none" stroke-width="0.5" />
<circle cx="463.31" cy="45.89" r="0.95" fill="#d9202f" stroke="none" stroke-width="0.5" />
<circle cx="467.19" cy="44.26" r="0.95" fill="#d9202f" stroke="none" stroke-width="0.5" />
<circle cx="466.62" cy="51.61" r="0.95" fill="#d9202f" stroke="none" stroke-width="0.5" />
<circle cx="465.75" cy="45.56" r="0.95" fill="#d9202f" stroke="none" stroke-width="0.5" />
<circle cx="465.24" cy="47.90" r="0.95" fill="#d9202f" stroke="none" stroke-width="0.5" />
<circle cx="461.80" cy="44.29" r="0.95" fill="#d9202f" stroke="none" stroke-width="0.5" />
<circle cx="461.62" cy="45.78" r="0.95" fill="#d9202f" stroke="none" stroke-width="0.5" />
<circle cx="464.59" cy="45.74" r="0.95" fill="#d9202f" stroke="none" stroke-width="0.5" />
<circle cx="462.83" cy="43.97" r="0.95" fill="#d9202f" stroke="none" stroke-width="0.5" />
<circle cx="466.10" cy="50.59" r="0.95" fill="#d9202f" stroke="none" stroke-width="0.5" />
<circle cx="466.79" cy="48.22" r="0.95" fill="#d9202f" stroke="none" stroke-width="0.5" />
<circle cx="467.22" cy="44.97" r="0.95" fill="#d9202f" stroke="none" stroke-width="0.5" />
<circle cx="467.87" cy="47.26" r="0.95" fill="#d9202f" stroke="none" stroke-width="0.5" />
<circle cx="466.12" cy="48.59" r="0.95" fill="#d9202f" stroke="none" stroke-width="0.5" />
<circle cx="465.26" cy="45.93" r="0.95" fill="#d9202f" stroke="none" stroke-width="0.5" />
<circle cx="462.82" cy="45.15" r="0.95" fill="#d9202f" stroke="none" stroke-width="0.5" />
<circle cx="465.73" cy="46.57" r="0.95" fill="#d9202f" stroke="none" stroke-width="0.5" />
<circle cx="466.53" cy="43.30" r="0.95" fill="#d9202f" stroke="none" stroke-width="0.5" />
<circle cx="464.01" cy="50.78" r="0.95" fill="#d9202f" stroke="none" stroke-width="0.5" />
<circle cx="462.78" cy="48.10" r="0.95" fill="#d9202f" stroke="none" stroke-width="0.5" />
<circle cx="465.51" cy="45.71" r="0.95" fill="#d9202f" stroke="none" stroke-width="0.5" />
<circle cx="470.87" cy="45.80" r="0.95" fill="#d9202f" stroke="none" stroke-width="0.5" />
<circle cx="468.54" cy="44.60" r="0.95" fill="#d9202f" stroke="none" stroke-width="0.5" />
<circle cx="460.92" cy="50.87" r="0.95" fill="#d9202f" stroke="none" stroke-width="0.5" />
<circle cx="464.95" cy="43.75" r="0.95" fill="#d9202f" stroke="none" stroke-width="0.5" />
<circle cx="464.39" cy="47.07" r="0.95" fill="#d9202f" stroke="none" stroke-width="0.5" />
<circle cx="468.14" cy="44.16" r="0.95" fill="#d9202f" stroke="none" stroke-width="0.5" />
<circle cx="462.63" cy="51.64" r="0.95" fill="#d9202f" stroke="none" stroke-width="0.5" />
<circle cx="468.18" cy="44.56" r="0.95" fill="#d9202f" stroke="none" stroke-width="0.5" />
<circle cx="463.84" cy="46.30" r="0.95" fill="#d9202f" stroke="none" stroke-width="0.5" />
<circle cx="467.49" cy="48.62" r="0.95" fill="#d9202f" stroke="none" stroke-width="0.5" />
<circle cx="465.79" cy="49.70" r="0.95" fill="#d9202f" stroke="none" stroke-width="0.5" />
<circle cx="468.23" cy="49.89" r="0.95" fill="#d9202f" stroke="none" stroke-width="0.5" />
<circle cx="465.33" cy="50.11" r="0.95" fill="#d9202f" stroke="none" stroke-width="0.5" />
<circle cx="467.85" cy="51.25" r="0.95" fill="#d9202f" stroke="none" stroke-width="0.5" />
<circle cx="461.57" cy="50.86" r="0.95" fill="#d9202f" stroke="none" stroke-width="0.5" />
<circle cx="460.25" cy="49.94" r="0.95" fill="#d9202f" stroke="none" stroke-width="0.5" />
<circle cx="466.53" cy="47.58" r="0.95" fill="#d9202f" stroke="none" stroke-width="0.5" />
<circle cx="470.60" cy="48.23" r="0.95" fill="#d9202f" stroke="none" stroke-width="0.5" />
<circle cx="464.71" cy="50.10" r="0.95" fill="#d9202f" stroke="none" stroke-width="0.5" />
<circle cx="469.63" cy="48.54" r="0.95" fill="#d9202f" stroke="none" stroke-width="0.5" />
<circle cx="464.30" cy="47.18" r="0.95" fill="#d9202f" stroke="none" stroke-width="0.5" />
<circle cx="465.15" cy="49.56" r="0.95" fill="#d9202f" stroke="none" stroke-width="0.5" />
<circle cx="463.36" cy="46.64" r="0.95" fill="#d9202f" stroke="none" stroke-width="0.5" />
<circle cx="466.20" cy="46.58" r="0.95" fill="#d9202f" stroke="none" stroke-width="0.5" />
<circle cx="463.68" cy="50.13" r="0.95" fill="#d9202f" stroke="none" stroke-width="0.5" />
<circle cx="469.38" cy="47.60" r="0.95" fill="#d9202f" stroke="none" stroke-width="0.5" />
<circle cx="465.00" cy="44.82" r="0.95" fill="#d9202f" stroke="none" stroke-width="0.5" />
<circle cx="463.48" cy="44.48" r="0.95" fill="#d9202f" stroke="none" stroke-width="0.5" />
<circle cx="466.41" cy="48.32" r="0.95" fill="#d9202f" stroke="none" stroke-width="0.5" />
<circle cx="461.15" cy="51.30" r="0.95" fill="#d9202f" stroke="none" stroke-width="0.5" />
<circle cx="463.70" cy="50.62" r="0.95" fill="#d9202f" stroke="none" stroke-width="0.5" />
<circle cx="462.41" cy="46.95" r="0.95" fill="#d9202f" stroke="none" stroke-width="0.5" />
<circle cx="470.03" cy="43.29" r="0.95" fill="#d9202f" stroke="none" stroke-width="0.5" />
<circle cx="460.71" cy="48.17" r="0.95" fill="#d9202f" stroke="none" stroke-width="0.5" />
<circle cx="465.57" cy="51.30" r="0.95" fill="#d9202f" stroke="none" stroke-width="0.5" />
<circle cx="468.55" cy="47.94" r="0.95" fill="#d9202f" stroke="none" stroke-width="0.5" />
<circle cx="470.98" cy="47.75" r="0.95" fill="#d9202f" stroke="none" stroke-width="0.5" />
<circle cx="465.79" cy="49.23" r="0.95" fill="#d9202f" stroke="none" stroke-width="0.5" />
<circle cx="464.41" cy="46.35" r="0.95" fill="#d9202f" stroke="none" stroke-width="0.5" />
<circle cx="466.62" cy="46.29" r="0.95" fill="#d9202f" stroke="none" stroke-width="0.5" />
<circle cx="470.44" cy="49.15" r="0.95" fill="#d9202f" stroke="none" stroke-width="0.5" />
<circle cx="465.87" cy="44.07" r="0.95" fill="#d9202f" stroke="none" stroke-width="0.5" />
<circle cx="464.24" cy="46.73" r="0.95" fill="#d9202f" stroke="none" stroke-width="0.5" />
<circle cx="466.26" cy="48.25" r="0.95" fill="#d9202f" stroke="none" stroke-width="0.5" />
<circle cx="465.46" cy="47.07" r="0.95" fill="#d9202f" stroke="none" stroke-width="0.5" />
<circle cx="466.95" cy="51.97" r="0.95" fill="#d9202f" stroke="none" stroke-width="0.5" />
<circle cx="463.91" cy="47.87" r="0.95" fill="#d9202f" stroke="none" stroke-width="0.5" />
<circle cx="469.01" cy="44.70" r="0.95" fill="#d9202f" stroke="none" stroke-width="0.5" />
<circle cx="463.64" cy="51.81" r="0.95" fill="#d9202f" stroke="none" stroke-width="0.5" />
<circle cx="469.12" cy="47.71" r="0.95" fill="#d9202f" stroke="none" stroke-width="0.5" />
<circle cx="461.39" cy="51.07" r="0.95" fill="#d9202f" stroke="none" stroke-width="0.5" />
<circle cx="467.65" cy="50.42" r="0.95" fill="#d9202f" stroke="none" stroke-width="0.5" />
<circle cx="464.75" cy="44.58" r="0.95" fill="#d9202f" stroke="none" stroke-width="0.5" />
<circle cx="463.33" cy="47.70" r="0.95" fill="#d9202f" stroke="none" stroke-width="0.5" />
<circle cx="465.65" cy="44.86" r="0.95" fill="#d9202f" stroke="none" stroke-width="0.5" />
<circle cx="462.17" cy="48.74" r="0.95" fill="#d9202f" stroke="none" stroke-width="0.5" />
<circle cx="466.71" cy="46.31" r="0.95" fill="#d9202f" stroke="none" stroke-width="0.5" />
<circle cx="470.93" cy="48.80" r="0.95" fill="#d9202f" stroke="none" stroke-width="0.5" />
<circle cx="460.66" cy="46.82" r="0.95" fill="#d9202f" stroke="none" stroke-width="0.5" />
<circle cx="468.71" cy="45.90" r="0.95" fill="#d9202f" stroke="none" stroke-width="0.5" />
<circle cx="467.66" cy="43.23" r="0.95" fill="#d9202f" stroke="none" stroke-width="0.5" />
<circle cx="463.49" cy="50.61" r="0.95" fill="#d9202f" stroke="none" stroke-width="0.5" />
<circle cx="466.53" cy="49.08" r="0.95" fill="#d9202f" stroke="none" stroke-width="0.5" />
<circle cx="462.32" cy="47.58" r="0.95" fill="#d9202f" stroke="none" stroke-width="0.5" />
<circle cx="466.18" cy="45.54" r="0.95" fill="#d9202f" stroke="none" stroke-width="0.5" />
<circle cx="467.19" cy="47.88" r="0.95" fill="#d9202f" stroke="none" stroke-width="0.5" />
<circle cx="470.97" cy="48.26" r="0.95" fill="#d9202f" stroke="none" stroke-width="0.5" />
<circle cx="464.64" cy="44.27" r="0.95" fill="#d9202f" stroke="none" stroke-width="0.5" />
<circle cx="461.89" cy="49.88" r="0.95" fill="#d9202f" stroke="none" stroke-width="0.5" />
<circle cx="461.35" cy="44.08" r="0.95" fill="#d9202f" stroke="none" stroke-width="0.5" />
<circle cx="462.04" cy="47.80" r="0.95" fill="#d9202f" stroke="none" stroke-width="0.5" />
<circle cx="469.09" cy="48.59" r="0.95" fill="#d9202f" stroke="none" stroke-width="0.5" />
<circle cx="468.91" cy="43.75" r="0.95" fill="#d9202f" stroke="none" stroke-width="0.5" />
<circle cx="460.33" cy="49.98" r="0.95" fill="#d9202f" stroke="none" stroke-width="0.5" />
<circle cx="463.69" cy="49.50" r="0.95" fill="#d9202f" stroke="none" stroke-width="0.5" />
<circle cx="464.02" cy="44.69" r="0.95" fill="#d9202f" stroke="none" stroke-width="0.5" />
<circle cx="463.08" cy="44.08" r="0.95" fill="#d9202f" stroke="none" stroke-width="0.5" />
<circle cx="469.96" cy="48.32" r="0.95" fill="#d9202f" stroke="none" stroke-width="0.5" />
<circle cx="463.97" cy="47.16" r="0.95" fill="#d9202f" stroke="none" stroke-width="0.5" />
<circle cx="464.37" cy="43.68" r="0.95" fill="#d9202f" stroke="none" stroke-width="0.5" />
<circle cx="469.82" cy="48.33" r="0.95" fill="#d9202f" stroke="none" stroke-width="0.5" />
<circle cx="470.56" cy="47.07" r="0.95" fill="#d9202f" stroke="none" stroke-width="0.5" />
<circle cx="466.90" cy="45.39" r="0.95" fill="#d9202f" stroke="none" stroke-width="0.5" />
<circle cx="460.67" cy="51.39" r="0.95" fill="#d9202f" stroke="none" stroke-width="0.5" />
<circle cx="469.43" cy="45.97" r="0.95" fill="#d9202f" stroke="none" stroke-width="0.5" />
<circle cx="463.48" cy="48.50" r="0.95" fill="#d9202f" stroke="none" stroke-width="0.5" />
<circle cx="470.57" cy="47.56" r="0.95" fill="#d9202f" stroke="none" stroke-width="0.5" />
<circle cx="470.46" cy="45.34" r="0.95" fill="#d9202f" stroke="none" stroke-width="0.5" />
<circle cx="464.41" cy="49.52" r="0.95" fill="#d9202f" stroke="none" stroke-width="0.5" />
<circle cx="462.59" cy="45.92" r="0.95" fill="#d9202f" stroke="none" stroke-width="0.5" />
<circle cx="469.65" cy="47.46" r="0.95" fill="#d9202f" stroke="none" stroke-width="0.5" />
<circle cx="468.76" cy="45.34" r="0.95" fill="#d9202f" stroke="none" stroke-width="0.5" />
<circle cx="462.07" cy="46.35" r="0.95" fill="#d9202f" stroke="none" stroke-width="0.5" />
<circle cx="462.21" cy="51.75" r="0.95" fill="#d9202f" stroke="none" stroke-width="0.5" />
<circle cx="463.34" cy="48.14" r="0.95" fill="#d9202f" stroke="none" stroke-width="0.5" />
<circle cx="461.44" cy="47.90" r="0.95" fill="#d9202f" stroke="none" stroke-width="0.5" />
<circle cx="464.36" cy="46.75" r="0.95" fill="#d9202f" stroke="none" stroke-width="0.5" />
<circle cx="460.91" cy="44.28" r="0.95" fill="#d9202f" stroke="none" stroke-width="0.5" />
<circle cx="469.12" cy="46.29" r="0.95" fill="#d9202f" stroke="none" stroke-width="0.5" />
<circle cx="462.85" cy="44.88" r="0.95" fill="#d9202f" stroke="none" stroke-width="0.5" />
<circle cx="463.26" cy="45.29" r="0.95" fill="#d9202f" stroke="none" stroke-width="0.5" />
<circle cx="460.58" cy="49.05" r="0.95" fill="#d9202f" stroke="none" stroke-width="0.5" />
<circle cx="463.89" cy="44.57" r="0.95" fill="#d9202f" stroke="none" stroke-width="0.5" />
<circle cx="467.82" cy="44.02" r="0.95" fill="#d9202f" stroke="none" stroke-width="0.5" />
<circle cx="463.11" cy="50.55" r="0.95" fill="#d9202f" stroke="none" stroke-width="0.5" />
<circle cx="461.58" cy="47.10" r="0.95" fill="#d9202f" stroke="none" stroke-width="0.5" />
<circle cx="461.92" cy="46.31" r="0.95" fill="#d9202f" stroke="none" stroke-width="0.5" />
<circle cx="468.00" cy="46.52" r="0.95" fill="#d9202f" stroke="none" stroke-width="0.5" />
<circle cx="470.55" cy="45.03" r="0.95" fill="#d9202f" stroke="none" stroke-width="0.5" />
<circle cx="470.47" cy="47.64" r="0.95" fill="#d9202f" stroke="none" stroke-width="0.5" />
<circle cx="462.65" cy="47.18" r="0.95" fill="#d9202f" stroke="none" stroke-width="0.5" />
<circle cx="461.61" cy="49.42" r="0.95" fill="#d9202f" stroke="none" stroke-width="0.5" />
<circle cx="463.02" cy="51.12" r="0.95" fill="#d9202f" stroke="none" stroke-width="0.5" />
<circle cx="466.55" cy="46.44" r="0.95" fill="#d9202f" stroke="none" stroke-width="0.5" />
<circle cx="462.86" cy="48.55" r="0.95" fill="#d9202f" stroke="none" stroke-width="0.5" />
<circle cx="462.50" cy="50.88" r="0.95" fill="#d9202f" stroke="none" stroke-width="0.5" />
<circle cx="461.53" cy="47.71" r="0.95" fill="#d9202f" stroke="none" stroke-width="0.5" />
<circle cx="466.06" cy="45.58" r="0.95" fill="#d9202f" stroke="none" stroke-width="0.5" />
<circle cx="468.53" cy="46.59" r="0.95" fill="#d9202f" stroke="none" stroke-width="0.5" />
<circle cx="467.30" cy="48.20" r="0.95" fill="#d9202f" stroke="none" stroke-width="0.5" />
<circle cx="463.56" cy="46.63" r="0.95" fill="#d9202f" stroke="none" stroke-width="0.5" />
<circle cx="461.13" cy="44.76" r="0.95" fill="#d9202f" stroke="none" stroke-width="0.5" />
<circle cx="469.39" cy="46.03" r="0.95" fill="#d9202f" stroke="none" stroke-width="0.5" />
<circle cx="467.36" cy="44.16" r="0.95" fill="#d9202f" stroke="none" stroke-width="0.5" />
<circle cx="466.27" cy="46.38" r="0.95" fill="#d9202f" stroke="none" stroke-width="0.5" />
<circle cx="465.60" cy="45.81" r="0.95" fill="#d9202f" stroke="none" stroke-width="0.5" />
<circle cx="460.91" cy="45.94" r="0.95" fill="#d9202f" stroke="none" stroke-width="0.5" />
<circle cx="462.65" cy="44.31" r="0.95" fill="#d9202f" stroke="none" stroke-width="0.5" />
<circle cx="467.94" cy="45.68" r="0.95" fill="#d9202f" stroke="none" stroke-width="0.5" />
<circle cx="464.56" cy="51.20" r="0.95" fill="#d9202f" stroke="none" stroke-width="0.5" />
<circle cx="469.50" cy="44.36" r="0.95" fill="#d9202f" stroke="none" stroke-width="0.5" />
<circle cx="463.19" cy="43.46" r="0.95" fill="#d9202f" stroke="none" stroke-width="0.5" />
<circle cx="467.54" cy="49.04" r="0.95" fill="#d9202f" stroke="none" stroke-width="0.5" />
<circle cx="464.00" cy="46.83" r="0.95" fill="#d9202f" stroke="none" stroke-width="0.5" />
<circle cx="467.32" cy="49.35" r="0.95" fill="#d9202f" stroke="none" stroke-width="0.5" />
<circle cx="462.88" cy="50.65" r="0.95" fill="#d9202f" stroke="none" stroke-width="0.5" />
<circle cx="464.00" cy="48.73" r="0.95" fill="#d9202f" stroke="none" stroke-width="0.5" />
<circle cx="466.09" cy="44.94" r="0.70" fill="#e8606a" stroke="none" stroke-width="0.5" />
<circle cx="478.52" cy="52.68" r="0.70" fill="#e8606a" stroke="none" stroke-width="0.5" />
<circle cx="475.11" cy="44.01" r="0.70" fill="#e8606a" stroke="none" stroke-width="0.5" />
<circle cx="463.68" cy="45.53" r="0.70" fill="#e8606a" stroke="none" stroke-width="0.5" />
<circle cx="466.37" cy="47.29" r="0.70" fill="#e8606a" stroke="none" stroke-width="0.5" />
<circle cx="469.47" cy="43.99" r="0.70" fill="#e8606a" stroke="none" stroke-width="0.5" />
<circle cx="468.29" cy="51.48" r="0.70" fill="#e8606a" stroke="none" stroke-width="0.5" />
<circle cx="466.05" cy="53.99" r="0.70" fill="#e8606a" stroke="none" stroke-width="0.5" />
<circle cx="472.69" cy="52.46" r="0.70" fill="#e8606a" stroke="none" stroke-width="0.5" />
<circle cx="467.33" cy="48.94" r="0.70" fill="#e8606a" stroke="none" stroke-width="0.5" />
<circle cx="474.63" cy="47.86" r="0.70" fill="#e8606a" stroke="none" stroke-width="0.5" />
<circle cx="463.02" cy="53.93" r="0.70" fill="#e8606a" stroke="none" stroke-width="0.5" />
<circle cx="476.20" cy="47.08" r="0.70" fill="#e8606a" stroke="none" stroke-width="0.5" />
<circle cx="463.73" cy="54.18" r="0.70" fill="#e8606a" stroke="none" stroke-width="0.5" />
<circle cx="473.33" cy="44.09" r="0.70" fill="#e8606a" stroke="none" stroke-width="0.5" />
<circle cx="467.16" cy="44.89" r="0.70" fill="#e8606a" stroke="none" stroke-width="0.5" />
<circle cx="476.45" cy="46.13" r="0.70" fill="#e8606a" stroke="none" stroke-width="0.5" />
<circle cx="478.55" cy="52.87" r="0.70" fill="#e8606a" stroke="none" stroke-width="0.5" />
<circle cx="464.46" cy="52.18" r="0.70" fill="#e8606a" stroke="none" stroke-width="0.5" />
<circle cx="469.69" cy="52.84" r="0.70" fill="#e8606a" stroke="none" stroke-width="0.5" />
<circle cx="477.09" cy="47.01" r="0.70" fill="#e8606a" stroke="none" stroke-width="0.5" />
<circle cx="464.53" cy="55.33" r="0.70" fill="#e8606a" stroke="none" stroke-width="0.5" />
<circle cx="470.21" cy="55.13" r="0.70" fill="#e8606a" stroke="none" stroke-width="0.5" />
<circle cx="474.76" cy="52.73" r="0.70" fill="#e8606a" stroke="none" stroke-width="0.5" />
<circle cx="477.11" cy="51.35" r="0.70" fill="#e8606a" stroke="none" stroke-width="0.5" />
<circle cx="470.70" cy="44.18" r="0.70" fill="#e8606a" stroke="none" stroke-width="0.5" />
<circle cx="474.87" cy="48.85" r="0.70" fill="#e8606a" stroke="none" stroke-width="0.5" />
<circle cx="471.70" cy="55.10" r="0.70" fill="#e8606a" stroke="none" stroke-width="0.5" />
<circle cx="465.17" cy="53.02" r="0.70" fill="#e8606a" stroke="none" stroke-width="0.5" />
<circle cx="463.74" cy="52.28" r="0.70" fill="#e8606a" stroke="none" stroke-width="0.5" />
<circle cx="476.70" cy="46.76" r="0.70" fill="#e8606a" stroke="none" stroke-width="0.5" />
<circle cx="472.29" cy="55.62" r="0.70" fill="#e8606a" stroke="none" stroke-width="0.5" />
<circle cx="473.84" cy="50.30" r="0.70" fill="#e8606a" stroke="none" stroke-width="0.5" />
<circle cx="467.24" cy="44.24" r="0.70" fill="#e8606a" stroke="none" stroke-width="0.5" />
<circle cx="469.08" cy="48.65" r="0.70" fill="#e8606a" stroke="none" stroke-width="0.5" />
<circle cx="466.42" cy="47.38" r="0.70" fill="#e8606a" stroke="none" stroke-width="0.5" />
<circle cx="465.32" cy="52.34" r="0.70" fill="#e8606a" stroke="none" stroke-width="0.5" />
<circle cx="474.40" cy="46.47" r="0.70" fill="#e8606a" stroke="none" stroke-width="0.5" />
<circle cx="467.11" cy="49.94" r="0.70" fill="#e8606a" stroke="none" stroke-width="0.5" />
<circle cx="470.57" cy="55.20" r="0.70" fill="#e8606a" stroke="none" stroke-width="0.5" />
<circle cx="468.97" cy="47.24" r="0.70" fill="#e8606a" stroke="none" stroke-width="0.5" />
<circle cx="478.04" cy="45.27" r="0.70" fill="#e8606a" stroke="none" stroke-width="0.5" />
<circle cx="472.58" cy="47.67" r="0.70" fill="#e8606a" stroke="none" stroke-width="0.5" />
<circle cx="476.86" cy="50.35" r="0.70" fill="#e8606a" stroke="none" stroke-width="0.5" />
<circle cx="475.93" cy="45.62" r="0.70" fill="#e8606a" stroke="none" stroke-width="0.5" />
<circle cx="470.00" cy="37.50" r="0.80" fill="#9468b8" stroke="none" stroke-width="0.5" />
<circle cx="473.00" cy="35.00" r="0.80" fill="#9468b8" stroke="none" stroke-width="0.5" />
<circle cx="474.00" cy="42.00" r="0.80" fill="#9468b8" stroke="none" stroke-width="0.5" />
<circle cx="462.00" cy="33.00" r="0.80" fill="#9468b8" stroke="none" stroke-width="0.5" />
<line x1="378" y1="43.6" x2="486" y2="43.6" stroke="#d9232e" stroke-width="1.3" stroke-dasharray="4,3"/>
<line x1="458.4" y1="24" x2="458.4" y2="99.5" stroke="#d9232e" stroke-width="1.3" stroke-dasharray="4,3"/>
<text x="379.30" y="27.30" font-size="8.8" fill="#231f20" textLength="12.8" lengthAdjust="spacingAndGlyphs" >141</text>
<text x="472.30" y="27.30" font-size="8.8" fill="#231f20" textLength="14.5" lengthAdjust="spacingAndGlyphs" >293</text>
<text x="378.30" y="98.00" font-size="8.8" fill="#231f20" textLength="13.2" lengthAdjust="spacingAndGlyphs" >280</text>
<text x="472.30" y="98.00" font-size="8.8" fill="#d9232e" textLength="14.5" lengthAdjust="spacingAndGlyphs" >444</text>
<text x="9.70" y="154.50" font-size="11.6" fill="#000" font-weight="bold" >D</text>
<line x1="50.50" y1="175.20" x2="50.50" y2="213.40" stroke="#231f20" stroke-width="1.0" />
<line x1="50.50" y1="218.40" x2="50.50" y2="254.50" stroke="#231f20" stroke-width="1.0" />
<line x1="48.20" y1="213.50" x2="50.60" y2="213.50" stroke="#231f20" stroke-width="1.0" />
<line x1="48.20" y1="218.50" x2="50.60" y2="218.50" stroke="#231f20" stroke-width="1.0" />
<line x1="48.00" y1="208.50" x2="50.00" y2="208.50" stroke="#231f20" stroke-width="1.0" />
<text x="47.50" y="210.60" font-size="7.4" fill="#231f20" text-anchor="end" >10</text>
<line x1="48.00" y1="197.50" x2="50.00" y2="197.50" stroke="#231f20" stroke-width="1.0" />
<text x="47.50" y="199.80" font-size="7.4" fill="#231f20" text-anchor="end" >20</text>
<line x1="48.00" y1="186.50" x2="50.00" y2="186.50" stroke="#231f20" stroke-width="1.0" />
<text x="47.50" y="189.00" font-size="7.4" fill="#231f20" text-anchor="end" >30</text>
<line x1="48.00" y1="175.50" x2="50.00" y2="175.50" stroke="#231f20" stroke-width="1.0" />
<text x="47.50" y="178.20" font-size="7.4" fill="#231f20" text-anchor="end" >40</text>
<line x1="48.00" y1="254.50" x2="50.00" y2="254.50" stroke="#231f20" stroke-width="1.0" />
<text x="47.50" y="257.10" font-size="7.4" fill="#231f20" text-anchor="end" >0</text>
<line x1="48.00" y1="247.50" x2="50.00" y2="247.50" stroke="#231f20" stroke-width="1.0" />
<text x="47.50" y="249.70" font-size="7.4" fill="#231f20" text-anchor="end" >1</text>
<line x1="48.00" y1="239.50" x2="50.00" y2="239.50" stroke="#231f20" stroke-width="1.0" />
<text x="47.50" y="242.30" font-size="7.4" fill="#231f20" text-anchor="end" >2</text>
<line x1="48.00" y1="232.50" x2="50.00" y2="232.50" stroke="#231f20" stroke-width="1.0" />
<text x="47.50" y="234.90" font-size="7.4" fill="#231f20" text-anchor="end" >3</text>
<line x1="48.00" y1="224.50" x2="50.00" y2="224.50" stroke="#231f20" stroke-width="1.0" />
<text x="47.50" y="227.50" font-size="7.4" fill="#231f20" text-anchor="end" >4</text>
<line x1="48.00" y1="217.50" x2="50.00" y2="217.50" stroke="#231f20" stroke-width="1.0" />
<text x="47.50" y="220.10" font-size="7.4" fill="#231f20" text-anchor="end" >5</text>
<line x1="50.00" y1="254.50" x2="186.00" y2="254.50" stroke="#231f20" stroke-width="1.0" />
<line x1="66.50" y1="254.50" x2="66.50" y2="256.50" stroke="#231f20" stroke-width="1.0" />
<line x1="102.50" y1="254.50" x2="102.50" y2="256.50" stroke="#231f20" stroke-width="1.0" />
<line x1="135.50" y1="254.50" x2="135.50" y2="256.50" stroke="#231f20" stroke-width="1.0" />
<line x1="166.50" y1="254.50" x2="166.50" y2="256.50" stroke="#231f20" stroke-width="1.0" />
<text x="34.6" y="216.5" font-size="8.8" fill="#231f20" text-anchor="middle" transform="rotate(-90 34.6 216.5)" textLength="75" lengthAdjust="spacingAndGlyphs">CFU/800 c-Kit<tspan dy="-2.8" font-size="5.2">+</tspan><tspan dy="2.8"> cells</tspan></text>
<rect x="54.50" y="187.00" width="4.80" height="67.50" fill="#d3213b" stroke="#231f20" stroke-width="0.6" />
<line x1="56.50" y1="187.00" x2="56.50" y2="184.50" stroke="#231f20" stroke-width="0.8" />
<line x1="55.40" y1="184.50" x2="58.40" y2="184.50" stroke="#231f20" stroke-width="0.8" />
<line x1="56.90" y1="187.00" x2="56.90" y2="227.50" stroke="#231f20" stroke-width="0.5" />
<rect x="61.50" y="234.30" width="5.00" height="20.20" fill="#1c5a97" stroke="#231f20" stroke-width="0.6" />
<line x1="64.50" y1="234.30" x2="64.50" y2="228.30" stroke="#231f20" stroke-width="0.8" />
<line x1="62.50" y1="228.50" x2="65.50" y2="228.50" stroke="#231f20" stroke-width="0.8" />
<line x1="64.00" y1="234.30" x2="64.00" y2="246.42" stroke="#231f20" stroke-width="0.5" />
<rect x="68.80" y="204.00" width="4.90" height="50.50" fill="#3fba4f" stroke="#231f20" stroke-width="0.6" />
<line x1="71.50" y1="204.00" x2="71.50" y2="202.00" stroke="#231f20" stroke-width="0.8" />
<line x1="69.75" y1="202.50" x2="72.75" y2="202.50" stroke="#231f20" stroke-width="0.8" />
<line x1="71.25" y1="204.00" x2="71.25" y2="234.30" stroke="#231f20" stroke-width="0.5" />
<rect x="76.30" y="228.80" width="4.90" height="25.70" fill="#5c2a88" stroke="#231f20" stroke-width="0.6" />
<line x1="78.50" y1="228.80" x2="78.50" y2="209.80" stroke="#231f20" stroke-width="0.8" />
<line x1="77.25" y1="209.50" x2="80.25" y2="209.50" stroke="#231f20" stroke-width="0.8" />
<line x1="78.75" y1="228.80" x2="78.75" y2="244.22" stroke="#231f20" stroke-width="0.5" />
<rect x="88.30" y="210.80" width="4.70" height="43.70" fill="#d3213b" stroke="#231f20" stroke-width="0.6" />
<line x1="90.50" y1="210.80" x2="90.50" y2="207.80" stroke="#231f20" stroke-width="0.8" />
<line x1="89.15" y1="207.50" x2="92.15" y2="207.50" stroke="#231f20" stroke-width="0.8" />
<line x1="90.65" y1="210.80" x2="90.65" y2="237.02" stroke="#231f20" stroke-width="0.5" />
<rect x="95.50" y="246.30" width="4.80" height="8.20" fill="#1c5a97" stroke="#231f20" stroke-width="0.6" />
<line x1="97.50" y1="246.30" x2="97.50" y2="243.30" stroke="#231f20" stroke-width="0.8" />
<line x1="96.40" y1="243.50" x2="99.40" y2="243.50" stroke="#231f20" stroke-width="0.8" />
<line x1="97.90" y1="246.30" x2="97.90" y2="251.22" stroke="#231f20" stroke-width="0.5" />
<rect x="102.50" y="234.50" width="4.80" height="20.00" fill="#3fba4f" stroke="#231f20" stroke-width="0.6" />
<line x1="104.50" y1="234.50" x2="104.50" y2="220.50" stroke="#231f20" stroke-width="0.8" />
<line x1="103.40" y1="220.50" x2="106.40" y2="220.50" stroke="#231f20" stroke-width="0.8" />
<line x1="104.90" y1="234.50" x2="104.90" y2="246.50" stroke="#231f20" stroke-width="0.5" />
<rect x="110.00" y="250.50" width="4.80" height="4.00" fill="#5c2a88" stroke="#231f20" stroke-width="0.6" />
<line x1="112.50" y1="250.50" x2="112.50" y2="244.50" stroke="#231f20" stroke-width="0.8" />
<line x1="110.90" y1="244.50" x2="113.90" y2="244.50" stroke="#231f20" stroke-width="0.8" />
<line x1="112.40" y1="250.50" x2="112.40" y2="252.90" stroke="#231f20" stroke-width="0.5" />
<rect x="121.70" y="196.00" width="5.00" height="58.50" fill="#d3213b" stroke="#231f20" stroke-width="0.6" />
<line x1="124.50" y1="196.00" x2="124.50" y2="193.50" stroke="#231f20" stroke-width="0.8" />
<line x1="122.70" y1="193.50" x2="125.70" y2="193.50" stroke="#231f20" stroke-width="0.8" />
<line x1="124.20" y1="196.00" x2="124.20" y2="231.10" stroke="#231f20" stroke-width="0.5" />
<rect x="129.20" y="243.00" width="4.90" height="11.50" fill="#1c5a97" stroke="#231f20" stroke-width="0.6" />
<line x1="131.50" y1="243.00" x2="131.50" y2="239.00" stroke="#231f20" stroke-width="0.8" />
<line x1="130.15" y1="239.50" x2="133.15" y2="239.50" stroke="#231f20" stroke-width="0.8" />
<line x1="131.65" y1="243.00" x2="131.65" y2="249.90" stroke="#231f20" stroke-width="0.5" />
<rect x="136.20" y="207.10" width="5.00" height="47.40" fill="#3fba4f" stroke="#231f20" stroke-width="0.6" />
<line x1="138.50" y1="207.10" x2="138.50" y2="205.10" stroke="#231f20" stroke-width="0.8" />
<line x1="137.20" y1="205.50" x2="140.20" y2="205.50" stroke="#231f20" stroke-width="0.8" />
<line x1="138.70" y1="207.10" x2="138.70" y2="235.54" stroke="#231f20" stroke-width="0.5" />
<rect x="143.80" y="233.10" width="4.90" height="21.40" fill="#5c2a88" stroke="#231f20" stroke-width="0.6" />
<line x1="146.50" y1="233.10" x2="146.50" y2="218.10" stroke="#231f20" stroke-width="0.8" />
<line x1="144.75" y1="218.50" x2="147.75" y2="218.50" stroke="#231f20" stroke-width="0.8" />
<line x1="146.25" y1="233.10" x2="146.25" y2="245.94" stroke="#231f20" stroke-width="0.5" />
<rect x="155.80" y="243.00" width="5.00" height="11.50" fill="#1c5a97" stroke="#231f20" stroke-width="0.6" />
<line x1="158.50" y1="243.00" x2="158.50" y2="240.00" stroke="#231f20" stroke-width="0.8" />
<line x1="156.80" y1="240.50" x2="159.80" y2="240.50" stroke="#231f20" stroke-width="0.8" />
<line x1="158.30" y1="243.00" x2="158.30" y2="249.90" stroke="#231f20" stroke-width="0.5" />
<rect x="170.20" y="252.40" width="5.20" height="2.10" fill="#3fba4f" stroke="#231f20" stroke-width="0.6" />
<line x1="172.50" y1="252.40" x2="172.50" y2="250.90" stroke="#231f20" stroke-width="0.8" />
<line x1="171.30" y1="250.50" x2="174.30" y2="250.50" stroke="#231f20" stroke-width="0.8" />
<line x1="172.80" y1="252.40" x2="172.80" y2="253.66" stroke="#231f20" stroke-width="0.5" />
<rect x="155.40" y="243.00" width="5.60" height="11.50" fill="none" stroke="#d3213b" stroke-width="0.6" />
<line x1="56.70" y1="181.50" x2="65.90" y2="181.50" stroke="#231f20" stroke-width="0.7" />
<path d="M58.30,177.70 L58.30,179.70 M57.43,178.20 L59.17,179.20 M59.17,178.20 L57.43,179.20 " fill="none" stroke="#2a2a2a" stroke-width="0.75" />
<path d="M61.30,177.70 L61.30,179.70 M60.43,178.20 L62.17,179.20 M62.17,178.20 L60.43,179.20 " fill="none" stroke="#2a2a2a" stroke-width="0.75" />
<path d="M64.30,177.70 L64.30,179.70 M63.43,178.20 L65.17,179.20 M65.17,178.20 L63.43,179.20 " fill="none" stroke="#2a2a2a" stroke-width="0.75" />
<line x1="70.20" y1="200.50" x2="78.50" y2="200.50" stroke="#231f20" stroke-width="0.7" />
<path d="M74.35,197.20 L74.35,199.20 M73.48,197.70 L75.22,198.70 M75.22,197.70 L73.48,198.70 " fill="none" stroke="#2a2a2a" stroke-width="0.75" />
<line x1="90.40" y1="207.50" x2="98.20" y2="207.50" stroke="#231f20" stroke-width="0.7" />
<path d="M92.80,203.90 L92.80,205.90 M91.93,204.40 L93.67,205.40 M93.67,204.40 L91.93,205.40 " fill="none" stroke="#2a2a2a" stroke-width="0.75" />
<path d="M95.80,203.90 L95.80,205.90 M94.93,204.40 L96.67,205.40 M96.67,204.40 L94.93,205.40 " fill="none" stroke="#2a2a2a" stroke-width="0.75" />
<line x1="105.20" y1="216.50" x2="112.60" y2="216.50" stroke="#231f20" stroke-width="0.7" />
<path d="M108.90,213.30 L108.90,215.30 M108.03,213.80 L109.77,214.80 M109.77,213.80 L108.03,214.80 " fill="none" stroke="#2a2a2a" stroke-width="0.75" />
<line x1="124.20" y1="191.50" x2="133.10" y2="191.50" stroke="#231f20" stroke-width="0.7" />
<path d="M125.65,187.70 L125.65,189.70 M124.78,188.20 L126.52,189.20 M126.52,188.20 L124.78,189.20 " fill="none" stroke="#2a2a2a" stroke-width="0.75" />
<path d="M128.65,187.70 L128.65,189.70 M127.78,188.20 L129.52,189.20 M129.52,188.20 L127.78,189.20 " fill="none" stroke="#2a2a2a" stroke-width="0.75" />
<path d="M131.65,187.70 L131.65,189.70 M130.78,188.20 L132.52,189.20 M132.52,188.20 L130.78,189.20 " fill="none" stroke="#2a2a2a" stroke-width="0.75" />
<line x1="138.50" y1="203.50" x2="146.90" y2="203.50" stroke="#231f20" stroke-width="0.7" />
<path d="M142.70,199.70 L142.70,201.70 M141.83,200.20 L143.57,201.20 M143.57,200.20 L141.83,201.20 " fill="none" stroke="#2a2a2a" stroke-width="0.75" />
<line x1="157.70" y1="238.50" x2="166.20" y2="238.50" stroke="#231f20" stroke-width="0.7" />
<path d="M161.95,234.80 L161.95,236.80 M161.08,235.30 L162.82,236.30 M162.82,235.30 L161.08,236.30 " fill="none" stroke="#2a2a2a" stroke-width="0.75" />
<line x1="171.50" y1="246.50" x2="180.80" y2="246.50" stroke="#231f20" stroke-width="0.7" />
<text x="176.40" y="244.60" font-size="4.6" fill="#231f20" text-anchor="middle" >NS</text>
<text x="60.00" y="223.50" font-size="4.5" fill="#e0465a" >−11X</text>
<text x="74.50" y="209.50" font-size="4.5" fill="#e0465a" >−3.7X</text>
<text x="93.50" y="238.50" font-size="4.5" fill="#e0465a" >−6X</text>
<text x="109.50" y="238.50" font-size="4.5" fill="#e0465a" >−5X</text>
<text x="128.00" y="237.50" font-size="4.5" fill="#e0465a" >−13X</text>
<text x="142.00" y="211.50" font-size="4.5" fill="#e0465a" >−3X</text>
<text x="162.00" y="252.00" font-size="4.5" fill="#e0465a" >−2X</text>
<text x="176.50" y="252.00" font-size="4.5" fill="#e0465a" >−1X</text>
<text x="66.50" y="265.00" font-size="8.2" fill="#231f20" text-anchor="middle" >Total</text>
<text x="102.00" y="265.00" font-size="8.2" fill="#231f20" text-anchor="middle" >Mix</text>
<text x="135.30" y="265.00" font-size="8.2" fill="#231f20" text-anchor="middle" >GM</text>
<text x="168.50" y="265.00" font-size="8.2" fill="#231f20" text-anchor="middle" >E</text>
<rect x="52.50" y="143.10" width="6.80" height="5.00" fill="#d3213b" stroke="#1a1a1a" stroke-width="0.8" />
<rect x="52.50" y="150.20" width="6.80" height="5.00" fill="#1c5a97" stroke="#1a1a1a" stroke-width="0.8" />
<rect x="52.50" y="157.30" width="6.80" height="5.00" fill="#3fba4f" stroke="#1a1a1a" stroke-width="0.8" />
<rect x="52.50" y="164.40" width="6.80" height="5.00" fill="#5c2a88" stroke="#1a1a1a" stroke-width="0.8" />
<text x="62.50" y="148.00" font-size="6.8" fill="#231f20" ><tspan font-style="italic">Azin1</tspan>-G</text>
<text x="62.50" y="155.10" font-size="6.8" fill="#231f20" ><tspan font-style="italic">Azin1</tspan>-G-<tspan font-style="italic">Ddx1</tspan>-KD</text>
<text x="62.50" y="162.20" font-size="6.8" fill="#231f20" ><tspan font-style="italic">Azin1</tspan>-TC</text>
<text x="62.50" y="169.30" font-size="6.8" fill="#231f20" textLength="56.2" lengthAdjust="spacingAndGlyphs" ><tspan font-style="italic">Azin1</tspan>-TC-<tspan font-style="italic">Ddx1</tspan>-KD</text>
<text x="182.30" y="154.60" font-size="11.6" fill="#000" font-weight="bold" >E</text>
<defs><clipPath id="vc"><circle cx="241.2" cy="219.9" r="34.2"/></clipPath></defs>
<circle cx="241.20" cy="219.90" r="34.20" fill="#fac37a" stroke="none" stroke-width="0.5" />
<circle cx="281.50" cy="219.90" r="34.10" fill="#d4d6db" stroke="none" stroke-width="0.5" />
<circle cx="281.5" cy="219.9" r="34.1" fill="#d5ba98" clip-path="url(#vc)"/>
<text x="264.60" y="172.00" font-size="9.4" fill="#231f20" text-anchor="middle" >DDX1 ChIP</text>
<text x="227.20" y="186.50" font-size="8.4" fill="#231f20" text-anchor="end" ><tspan font-style="italic">Azin1</tspan>-G</text>
<text x="305.60" y="186.50" font-size="8.4" fill="#231f20" text-anchor="middle" ><tspan font-style="italic">Azin1</tspan>-TC</text>
<text x="227.80" y="224.20" font-size="8.6" fill="#231f20" text-anchor="middle" >244</text>
<text x="262.50" y="224.20" font-size="8.6" fill="#231f20" text-anchor="middle" >90</text>
<text x="292.20" y="224.20" font-size="8.6" fill="#231f20" text-anchor="middle" >105</text>
<text x="340.20" y="154.20" font-size="11.6" fill="#000" font-weight="bold" >F</text>
<line x1="386.50" y1="172.20" x2="386.50" y2="244.40" stroke="#231f20" stroke-width="1.0" />
<line x1="386.00" y1="244.50" x2="485.00" y2="244.50" stroke="#231f20" stroke-width="1.0" />
<line x1="382.00" y1="175.50" x2="386.00" y2="175.50" stroke="#231f20" stroke-width="1.0" />
<text x="379.00" y="178.00" font-size="7.7" fill="#231f20" text-anchor="end" >2.0</text>
<line x1="382.00" y1="184.50" x2="386.00" y2="184.50" stroke="#231f20" stroke-width="1.0" />
<text x="379.00" y="187.43" font-size="7.7" fill="#231f20" text-anchor="end" >1.5</text>
<line x1="382.00" y1="194.50" x2="386.00" y2="194.50" stroke="#231f20" stroke-width="1.0" />
<text x="379.00" y="196.85" font-size="7.7" fill="#231f20" text-anchor="end" >1.0</text>
<line x1="382.00" y1="203.50" x2="386.00" y2="203.50" stroke="#231f20" stroke-width="1.0" />
<text x="379.00" y="206.28" font-size="7.7" fill="#231f20" text-anchor="end" >0.5</text>
<line x1="382.00" y1="212.50" x2="386.00" y2="212.50" stroke="#231f20" stroke-width="1.0" />
<text x="379.00" y="215.70" font-size="7.7" fill="#231f20" text-anchor="end" >0.0</text>
<line x1="382.00" y1="222.50" x2="386.00" y2="222.50" stroke="#231f20" stroke-width="1.0" />
<text x="379.00" y="225.13" font-size="7.7" fill="#231f20" text-anchor="end" >−0.5</text>
<line x1="382.00" y1="231.50" x2="386.00" y2="231.50" stroke="#231f20" stroke-width="1.0" />
<text x="379.00" y="234.55" font-size="7.7" fill="#231f20" text-anchor="end" >−1.0</text>
<line x1="382.00" y1="241.50" x2="386.00" y2="241.50" stroke="#231f20" stroke-width="1.0" />
<text x="379.00" y="243.98" font-size="7.7" fill="#231f20" text-anchor="end" >−1.5</text>
<line x1="412.50" y1="244.40" x2="412.50" y2="247.40" stroke="#231f20" stroke-width="1.0" />
<text x="411.30" y="257.60" font-size="7.8" fill="#231f20" text-anchor="middle" >−1</text>
<line x1="446.50" y1="244.40" x2="446.50" y2="247.40" stroke="#231f20" stroke-width="1.0" />
<text x="445.60" y="257.60" font-size="7.8" fill="#231f20" text-anchor="middle" >0</text>
<line x1="480.50" y1="244.40" x2="480.50" y2="247.40" stroke="#231f20" stroke-width="1.0" />
<text x="479.90" y="257.60" font-size="7.8" fill="#231f20" text-anchor="middle" >1</text>
<text x="359.2" y="208" font-size="8.8" fill="#231f20" text-anchor="middle" transform="rotate(-90 359.2 208)" textLength="62" lengthAdjust="spacingAndGlyphs">log2 (<tspan font-style="italic" font-size="8">Ddx1</tspan> KD/NC)</text>
<text x="436" y="269" font-size="8.8" fill="#231f20" text-anchor="middle" textLength="55" lengthAdjust="spacingAndGlyphs">log2 (<tspan font-style="italic" font-size="8">Azin1</tspan> G/TC)</text>
<circle cx="390.40" cy="218.80" r="2.40" fill="#cdd5dc" stroke="#4b5866" stroke-width="0.7" />
<circle cx="403.80" cy="223.70" r="2.40" fill="#cdd5dc" stroke="#4b5866" stroke-width="0.7" />
<circle cx="419.20" cy="230.40" r="2.40" fill="#cdd5dc" stroke="#4b5866" stroke-width="0.7" />
<circle cx="455.50" cy="195.20" r="2.40" fill="#cdd5dc" stroke="#4b5866" stroke-width="0.7" />
<circle cx="428.00" cy="208.00" r="2.40" fill="#cdd5dc" stroke="#4b5866" stroke-width="0.7" />
<circle cx="420.00" cy="219.00" r="2.40" fill="#cdd5dc" stroke="#4b5866" stroke-width="0.7" />
<circle cx="427.00" cy="223.00" r="2.40" fill="#cdd5dc" stroke="#4b5866" stroke-width="0.7" />
<circle cx="435.50" cy="221.60" r="2.40" fill="#cdd5dc" stroke="#4b5866" stroke-width="0.7" />
<circle cx="480.00" cy="214.00" r="2.40" fill="#cdd5dc" stroke="#4b5866" stroke-width="0.7" />
<circle cx="442.82" cy="213.09" r="2.40" fill="#cdd5dc" stroke="#4b5866" stroke-width="0.7" />
<circle cx="459.46" cy="209.34" r="2.40" fill="#cdd5dc" stroke="#4b5866" stroke-width="0.7" />
<circle cx="442.03" cy="211.22" r="2.40" fill="#cdd5dc" stroke="#4b5866" stroke-width="0.7" />
<circle cx="455.59" cy="216.11" r="2.40" fill="#cdd5dc" stroke="#4b5866" stroke-width="0.7" />
<circle cx="442.88" cy="206.07" r="2.40" fill="#cdd5dc" stroke="#4b5866" stroke-width="0.7" />
<circle cx="457.29" cy="213.49" r="2.40" fill="#cdd5dc" stroke="#4b5866" stroke-width="0.7" />
<circle cx="463.50" cy="215.63" r="2.40" fill="#cdd5dc" stroke="#4b5866" stroke-width="0.7" />
<circle cx="451.24" cy="210.35" r="2.40" fill="#cdd5dc" stroke="#4b5866" stroke-width="0.7" />
<circle cx="471.28" cy="210.29" r="2.40" fill="#cdd5dc" stroke="#4b5866" stroke-width="0.7" />
<circle cx="446.11" cy="206.72" r="2.40" fill="#cdd5dc" stroke="#4b5866" stroke-width="0.7" />
<circle cx="452.72" cy="212.11" r="2.40" fill="#cdd5dc" stroke="#4b5866" stroke-width="0.7" />
<circle cx="449.41" cy="211.24" r="2.40" fill="#cdd5dc" stroke="#4b5866" stroke-width="0.7" />
<circle cx="454.05" cy="214.41" r="2.40" fill="#cdd5dc" stroke="#4b5866" stroke-width="0.7" />
<circle cx="460.23" cy="212.38" r="2.40" fill="#cdd5dc" stroke="#4b5866" stroke-width="0.7" />
<circle cx="438.58" cy="214.45" r="2.40" fill="#cdd5dc" stroke="#4b5866" stroke-width="0.7" />
<circle cx="441.35" cy="210.78" r="2.40" fill="#cdd5dc" stroke="#4b5866" stroke-width="0.7" />
<circle cx="440.95" cy="211.51" r="2.40" fill="#cdd5dc" stroke="#4b5866" stroke-width="0.7" />
<circle cx="446.16" cy="212.40" r="2.40" fill="#cdd5dc" stroke="#4b5866" stroke-width="0.7" />
<circle cx="476.75" cy="211.30" r="2.40" fill="#cdd5dc" stroke="#4b5866" stroke-width="0.7" />
<circle cx="458.32" cy="205.94" r="2.40" fill="#cdd5dc" stroke="#4b5866" stroke-width="0.7" />
<circle cx="449.84" cy="214.28" r="2.40" fill="#cdd5dc" stroke="#4b5866" stroke-width="0.7" />
<circle cx="451.30" cy="213.05" r="2.40" fill="#cdd5dc" stroke="#4b5866" stroke-width="0.7" />
<circle cx="452.77" cy="207.27" r="2.40" fill="#cdd5dc" stroke="#4b5866" stroke-width="0.7" />
<circle cx="456.23" cy="208.09" r="2.40" fill="#cdd5dc" stroke="#4b5866" stroke-width="0.7" />
<circle cx="466.04" cy="209.38" r="2.40" fill="#cdd5dc" stroke="#4b5866" stroke-width="0.7" />
<circle cx="457.15" cy="211.51" r="2.40" fill="#cdd5dc" stroke="#4b5866" stroke-width="0.7" />
<circle cx="459.14" cy="208.97" r="2.40" fill="#cdd5dc" stroke="#4b5866" stroke-width="0.7" />
<circle cx="459.49" cy="210.98" r="2.40" fill="#cdd5dc" stroke="#4b5866" stroke-width="0.7" />
<circle cx="461.47" cy="214.12" r="2.40" fill="#cdd5dc" stroke="#4b5866" stroke-width="0.7" />
<circle cx="453.06" cy="208.22" r="2.40" fill="#cdd5dc" stroke="#4b5866" stroke-width="0.7" />
<circle cx="457.76" cy="213.47" r="2.40" fill="#cdd5dc" stroke="#4b5866" stroke-width="0.7" />
<circle cx="464.31" cy="209.92" r="2.40" fill="#cdd5dc" stroke="#4b5866" stroke-width="0.7" />
<circle cx="456.16" cy="213.63" r="2.40" fill="#cdd5dc" stroke="#4b5866" stroke-width="0.7" />
<circle cx="454.12" cy="212.38" r="2.40" fill="#cdd5dc" stroke="#4b5866" stroke-width="0.7" />
<circle cx="453.37" cy="208.99" r="2.40" fill="#cdd5dc" stroke="#4b5866" stroke-width="0.7" />
<circle cx="444.39" cy="209.83" r="2.40" fill="#cdd5dc" stroke="#4b5866" stroke-width="0.7" />
<circle cx="456.43" cy="217.85" r="2.40" fill="#cdd5dc" stroke="#4b5866" stroke-width="0.7" />
<circle cx="459.33" cy="215.92" r="2.40" fill="#cdd5dc" stroke="#4b5866" stroke-width="0.7" />
<circle cx="457.83" cy="214.43" r="2.40" fill="#cdd5dc" stroke="#4b5866" stroke-width="0.7" />
<circle cx="453.38" cy="214.74" r="2.40" fill="#cdd5dc" stroke="#4b5866" stroke-width="0.7" />
<circle cx="465.30" cy="210.12" r="2.40" fill="#cdd5dc" stroke="#4b5866" stroke-width="0.7" />
<circle cx="446.80" cy="219.73" r="2.40" fill="#cdd5dc" stroke="#4b5866" stroke-width="0.7" />
<circle cx="470.00" cy="221.50" r="2.40" fill="#cdd5dc" stroke="#4b5866" stroke-width="0.7" />
<circle cx="474.00" cy="219.00" r="2.40" fill="#cdd5dc" stroke="#4b5866" stroke-width="0.7" />
<circle cx="466.00" cy="223.00" r="2.40" fill="#cdd5dc" stroke="#4b5866" stroke-width="0.7" />
<circle cx="476.00" cy="215.00" r="2.40" fill="#cdd5dc" stroke="#4b5866" stroke-width="0.7" />
<circle cx="462.00" cy="206.00" r="2.40" fill="#cdd5dc" stroke="#4b5866" stroke-width="0.7" />
<circle cx="446.00" cy="203.00" r="2.40" fill="#cdd5dc" stroke="#4b5866" stroke-width="0.7" />
<circle cx="449.00" cy="206.00" r="2.40" fill="#cdd5dc" stroke="#4b5866" stroke-width="0.7" />
<circle cx="441.00" cy="211.00" r="2.40" fill="#cdd5dc" stroke="#4b5866" stroke-width="0.7" />
<circle cx="437.00" cy="213.00" r="2.40" fill="#cdd5dc" stroke="#4b5866" stroke-width="0.7" />
<circle cx="446.40" cy="217.50" r="2.60" fill="#d01c2e" stroke="none" stroke-width="0.5" />
<circle cx="465.20" cy="213.50" r="2.60" fill="#d01c2e" stroke="none" stroke-width="0.5" />
<circle cx="469.30" cy="217.50" r="2.60" fill="#d01c2e" stroke="none" stroke-width="0.5" />
<circle cx="471.50" cy="216.00" r="2.60" fill="#d01c2e" stroke="none" stroke-width="0.5" />
<circle cx="459.00" cy="221.50" r="2.60" fill="#d01c2e" stroke="none" stroke-width="0.5" />
<circle cx="456.60" cy="227.50" r="2.60" fill="#d01c2e" stroke="none" stroke-width="0.5" />
<line x1="386.5" y1="212.9" x2="485" y2="212.9" stroke="#b3262e" stroke-width="1.3" stroke-dasharray="4,3"/>
<line x1="446.4" y1="172.5" x2="446.4" y2="244" stroke="#b3262e" stroke-width="1.3" stroke-dasharray="4,3"/>
<text x="447.50" y="206.50" font-size="8.4" fill="#c8283c" font-style="italic" >Rab31</text>
<text x="475.20" y="211.50" font-size="8.4" fill="#c8283c" font-style="italic" >Zfp36</text>
<text x="473.90" y="223.00" font-size="8.4" fill="#c8283c" font-style="italic" >Hist1h4a</text>
<text x="461.70" y="229.30" font-size="8.4" fill="#c8283c" font-style="italic" >Plaur</text>
<text x="448.30" y="237.40" font-size="8.4" fill="#c8283c" font-style="italic" >Tlr2</text>
<text x="441.50" y="224.40" font-size="8.4" fill="#c8283c" text-anchor="end" font-style="italic" >Bmpr2</text>
<text x="10.00" y="291.20" font-size="11.6" fill="#000" font-weight="bold" >G</text>
<text x="86.60" y="320.30" font-size="8.6" fill="#231f20" font-style="italic" >Plaur</text>
<line x1="156.00" y1="312.80" x2="230.60" y2="312.80" stroke="#1b4f8c" stroke-width="2.2" />
<text x="216.30" y="307.30" font-size="7.2" fill="#231f20" text-anchor="middle" >1Kb</text>
<line x1="84.00" y1="324.50" x2="328.50" y2="324.50" stroke="#3f73ad" stroke-width="1.1" />
<rect x="309.00" y="322.60" width="12.20" height="4.40" fill="#1b4f8c" stroke="none" stroke-width="0.6" />
<line x1="262.00" y1="320.50" x2="281.00" y2="320.50" stroke="#111" stroke-width="0.9" />
<path d="M283.3,320 L279.3,318 L279.3,322 Z" fill="#111" stroke="none" stroke-width="0.8" />
<line x1="84.00" y1="339.50" x2="147.50" y2="339.50" stroke="#c81e32" stroke-width="1.0" />
<path d="M84.0,339.7 L84.0,336.5 L86.0,335.5 L87.0,335.4 L88.0,335.2 L89.0,334.8 L90.0,335.0 L91.0,335.6 L92.0,334.7 L93.0,335.5 L94.0,335.4 L95.0,335.0 L96.0,335.4 L97.0,335.5 L98.0,335.7 L99.0,335.7 L100.0,335.2 L101.0,335.7 L102.0,335.5 L103.0,335.7 L104.0,335.7 L105.0,335.5 L106.0,335.9 L107.0,335.9 L108.0,335.8 L109.0,336.2 L110.0,336.3 L111.0,335.9 L112.0,336.1 L113.0,336.5 L114.0,336.6 L115.0,336.3 L116.0,336.3 L117.0,336.8 L118.0,336.4 L119.0,336.5 L120.0,336.8 L121.0,336.9 L122.0,337.2 L123.0,337.3 L124.0,336.8 L125.0,337.3 L126.0,337.1 L127.0,337.4 L128.0,338.0 L129.0,338.1 L130.0,338.3 L131.0,338.3 L132.0,338.2 L133.0,338.5 L134.0,338.4 L135.0,338.3 L136.0,338.3 L137.0,338.4 L138.0,338.6 L139.0,338.3 L140.0,338.7 L141.0,338.8 L142.0,338.7 L143.0,338.7 L144.0,338.9 L145.0,338.9 L146.0,338.8 L147.0,338.8 L147.5,339.3 L147.5,339.7 Z" fill="#c81e32" stroke="none" stroke-width="0.8" />
<line x1="170.80" y1="339.70" x2="185.20" y2="339.70" stroke="#eb96a0" stroke-width="1.4" />
<line x1="222.80" y1="339.70" x2="239.20" y2="339.70" stroke="#eb96a0" stroke-width="1.4" />
<line x1="196.70" y1="339.70" x2="220.50" y2="339.70" stroke="#c81e32" stroke-width="1.4" />
<line x1="261.00" y1="339.50" x2="328.50" y2="339.50" stroke="#c81e32" stroke-width="1.2" />
<line x1="261.00" y1="339.70" x2="261.00" y2="339.70" stroke="#c81e32" stroke-width="0" />
<path d="M268.0,339.7 L268.0,339.2 L269.0,339.0 L270.0,338.6 L271.0,338.5 L272.0,338.8 L273.0,338.7 L274.0,338.8 L275.0,339.2 L276.0,339.3 L276.5,339.7 L276.5,339.7 Z" fill="#c81e32" stroke="none" stroke-width="0.8" />
<line x1="261.00" y1="339.70" x2="261.00" y2="339.70" stroke="#c81e32" stroke-width="0" />
<path d="M300.0,339.7 L300.0,339.7 L301.0,339.4 L302.0,338.5 L303.0,338.6 L304.0,338.4 L305.0,339.3 L306.0,338.6 L307.0,338.8 L308.0,338.5 L309.0,338.9 L310.0,338.2 L311.0,339.1 L312.0,338.6 L313.0,338.3 L314.0,338.2 L315.0,338.3 L316.0,338.3 L317.0,338.2 L318.0,338.0 L319.0,338.6 L320.0,338.2 L321.0,338.0 L322.0,338.0 L323.0,338.4 L324.0,338.0 L325.0,339.7 L325.0,339.7 Z" fill="#c81e32" stroke="none" stroke-width="0.8" />
<line x1="84.00" y1="355.50" x2="328.50" y2="355.50" stroke="#3aaa3a" stroke-width="1.2" />
<line x1="84.00" y1="355.00" x2="84.00" y2="355.00" stroke="#3aaa3a" stroke-width="0" />
<path d="M187.0,355.0 L187.0,355.0 L188.0,353.5 L189.0,353.6 L190.0,353.5 L191.0,353.6 L192.0,353.3 L193.0,353.2 L194.0,353.5 L195.0,353.0 L196.0,352.6 L197.0,352.6 L198.0,352.6 L199.0,352.8 L200.0,352.4 L201.0,352.3 L202.0,352.5 L203.0,352.1 L204.0,352.8 L205.0,352.1 L206.0,352.9 L207.0,352.3 L208.0,352.4 L209.0,352.7 L210.0,352.2 L211.0,352.4 L212.0,352.3 L213.0,352.0 L214.0,352.6 L215.0,352.9 L216.0,352.6 L217.0,352.2 L218.0,352.7 L219.0,352.7 L220.0,352.0 L221.0,352.2 L222.0,352.5 L223.0,352.8 L224.0,353.3 L225.0,353.2 L226.0,353.7 L227.0,353.7 L228.0,353.6 L229.0,353.8 L230.0,355.0 L230.0,355.0 Z" fill="#3aaa3a" stroke="none" stroke-width="0.8" />
<line x1="84.00" y1="370.00" x2="89.20" y2="370.00" stroke="#c81e32" stroke-width="1.4" />
<line x1="89.80" y1="370.00" x2="110.00" y2="370.00" stroke="#eb96a0" stroke-width="1.4" />
<line x1="114.30" y1="370.00" x2="129.00" y2="370.00" stroke="#eb96a0" stroke-width="1.4" />
<line x1="130.60" y1="370.00" x2="148.60" y2="370.00" stroke="#eb96a0" stroke-width="1.4" />
<line x1="210.70" y1="370.00" x2="219.90" y2="370.00" stroke="#eb96a0" stroke-width="1.4" />
<line x1="221.20" y1="370.00" x2="239.50" y2="370.00" stroke="#eb96a0" stroke-width="1.4" />
<line x1="193.70" y1="370.00" x2="209.00" y2="370.00" stroke="#c81e32" stroke-width="1.4" />
<line x1="0.00" y1="370.00" x2="0.00" y2="370.00" stroke="#c81e32" stroke-width="0" />
<path d="M199.0,370.0 L199.0,370.0 L200.0,368.4 L201.0,368.7 L202.0,368.6 L203.0,368.7 L204.0,368.8 L205.0,368.6 L206.0,368.4 L207.0,370.0 L207.0,370.0 Z" fill="#c81e32" stroke="none" stroke-width="0.8" />
<line x1="274.00" y1="370.50" x2="328.50" y2="370.50" stroke="#c81e32" stroke-width="1.2" />
<line x1="0.00" y1="370.00" x2="0.00" y2="370.00" stroke="#c81e32" stroke-width="0" />
<path d="M303.0,370.0 L303.0,370.0 L304.0,368.4 L305.0,368.5 L306.0,368.2 L307.0,369.0 L308.0,369.1 L309.0,368.7 L310.0,368.9 L311.0,368.9 L312.0,368.6 L313.0,368.3 L314.0,368.5 L315.0,368.7 L316.0,368.0 L317.0,367.8 L318.0,368.4 L319.0,368.8 L320.0,368.8 L321.0,367.8 L322.0,368.8 L323.0,370.0 L323.0,370.0 Z" fill="#c81e32" stroke="none" stroke-width="0.8" />
<line x1="330.50" y1="370.50" x2="332.50" y2="370.50" stroke="#c81e32" stroke-width="1.2" />
<line x1="84.00" y1="385.50" x2="328.50" y2="385.50" stroke="#3aaa3a" stroke-width="1.2" />
<line x1="0.00" y1="385.00" x2="0.00" y2="385.00" stroke="#3aaa3a" stroke-width="0" />
<path d="M191.0,385.0 L191.0,385.0 L192.0,384.4 L193.0,384.4 L194.0,384.5 L195.0,384.2 L196.0,384.6 L197.0,384.5 L198.0,384.2 L199.0,384.4 L200.0,383.9 L201.0,384.2 L202.0,384.2 L203.0,384.2 L204.0,383.8 L205.0,383.9 L206.0,383.7 L207.0,383.5 L208.0,383.4 L209.0,383.4 L210.0,383.5 L211.0,383.9 L212.0,383.7 L213.0,383.9 L214.0,384.0 L215.0,383.8 L216.0,383.6 L217.0,384.0 L218.0,383.9 L219.0,384.3 L220.0,384.1 L221.0,384.2 L222.0,384.2 L223.0,384.2 L224.0,384.4 L225.0,384.2 L226.0,384.2 L227.0,384.7 L228.0,384.2 L229.0,384.4 L230.0,384.7 L231.0,384.6 L232.0,384.5 L233.0,384.4 L234.0,385.0 L234.0,385.0 Z" fill="#3aaa3a" stroke="none" stroke-width="0.8" />
<line x1="0.00" y1="385.00" x2="0.00" y2="385.00" stroke="#3aaa3a" stroke-width="0" />
<path d="M308.0,385.0 L308.0,385.0 L309.0,384.3 L310.0,384.2 L311.0,384.0 L312.0,384.1 L313.0,384.1 L314.0,384.4 L315.0,384.3 L316.0,385.0 L316.0,385.0 Z" fill="#3aaa3a" stroke="none" stroke-width="0.8" />
<rect x="94.30" y="327.00" width="9.50" height="61.20" fill="#c50524" stroke="none" stroke-width="0.6" fill-opacity="0.48"/>
<text x="59.50" y="327.80" font-size="7.4" fill="#231f20" text-anchor="middle" >DDX1</text>
<text x="59.50" y="337.80" font-size="7.4" fill="#231f20" text-anchor="middle" >ChIP</text>
<text x="60.00" y="353.40" font-size="7.4" fill="#231f20" text-anchor="middle" >input</text>
<text x="76.50" y="332.00" font-size="7.0" fill="#231f20" text-anchor="middle" >16</text>
<text x="76.50" y="340.00" font-size="7.0" fill="#231f20" text-anchor="middle" >0</text>
<text x="76.50" y="348.60" font-size="7.0" fill="#231f20" text-anchor="middle" >16</text>
<text x="76.50" y="355.20" font-size="7.0" fill="#231f20" text-anchor="middle" >0</text>
<text x="76.50" y="362.80" font-size="7.0" fill="#231f20" text-anchor="middle" >16</text>
<text x="76.50" y="369.60" font-size="7.0" fill="#231f20" text-anchor="middle" >0</text>
<text x="76.50" y="376.20" font-size="7.0" fill="#231f20" text-anchor="middle" >16</text>
<text x="76.50" y="384.00" font-size="7.0" fill="#231f20" text-anchor="middle" >0</text>
<line x1="45.50" y1="327.30" x2="45.50" y2="348.60" stroke="#231f20" stroke-width="0.8" />
<text x="42.50" y="341.40" font-size="7.6" fill="#231f20" text-anchor="end" ><tspan font-style="italic">Azin1</tspan>-G</text>
<text x="59.50" y="361.60" font-size="7.4" fill="#231f20" text-anchor="middle" >DDX1</text>
<text x="59.50" y="371.40" font-size="7.4" fill="#231f20" text-anchor="middle" >ChIP</text>
<text x="60.00" y="383.60" font-size="7.4" fill="#231f20" text-anchor="middle" >input</text>
<line x1="45.50" y1="359.50" x2="45.50" y2="380.60" stroke="#231f20" stroke-width="0.8" />
<text x="42.50" y="372.50" font-size="7.6" fill="#231f20" text-anchor="end" ><tspan font-style="italic">Azin1</tspan>-TC</text>
<text x="81.00" y="419.00" font-size="8.6" fill="#231f20" font-style="italic" >Tlr2</text>
<line x1="96.00" y1="411.20" x2="323.50" y2="411.20" stroke="#1b4f8c" stroke-width="2.2" />
<text x="214.00" y="406.60" font-size="7.2" fill="#231f20" text-anchor="middle" >1Kb</text>
<line x1="82.50" y1="423.50" x2="290.00" y2="423.50" stroke="#3f73ad" stroke-width="1.1" />
<rect x="91.00" y="421.50" width="56.50" height="4.00" fill="#1b4f8c" stroke="none" stroke-width="0.6" />
<rect x="234.00" y="421.50" width="56.00" height="4.00" fill="#1b4f8c" stroke="none" stroke-width="0.6" />
<line x1="267.00" y1="417.50" x2="285.00" y2="417.50" stroke="#111" stroke-width="0.9" />
<path d="M264.8,417.5 L268.8,415.5 L268.8,419.5 Z" fill="#111" stroke="none" stroke-width="0.8" />
<line x1="82.00" y1="442.50" x2="326.30" y2="442.50" stroke="#c81e32" stroke-width="1.0" />
<path d="M82.0,442.4 L82.0,441.6 L83.5,441.4 L85.0,441.3 L86.5,441.4 L88.0,441.3 L89.5,441.5 L91.0,441.2 L92.5,441.1 L94.0,441.1 L95.5,441.3 L97.0,441.1 L98.5,441.3 L100.0,441.0 L101.5,441.0 L103.0,441.2 L104.5,441.4 L106.0,441.2 L107.5,441.1 L109.0,440.9 L110.5,441.1 L112.0,441.3 L113.5,440.8 L115.0,441.2 L116.5,440.8 L118.0,441.1 L119.5,441.0 L120.0,440.8 L121.5,441.0 L123.0,440.9 L124.5,440.6 L126.0,440.3 L127.5,440.2 L129.0,440.1 L130.5,439.9 L132.0,440.0 L133.5,439.7 L135.0,440.0 L136.5,439.8 L138.0,439.5 L139.5,439.5 L140.0,439.3 L141.5,439.3 L143.0,439.3 L144.5,439.1 L146.0,439.2 L147.5,439.3 L149.0,439.2 L150.5,438.9 L152.0,438.9 L153.5,439.2 L155.0,438.8 L156.5,438.7 L158.0,438.9 L159.5,438.8 L161.0,439.0 L162.5,438.8 L164.0,438.8 L165.5,438.7 L167.0,438.9 L168.5,438.4 L170.0,438.6 L171.5,438.6 L173.0,438.4 L174.5,438.4 L176.0,438.4 L177.5,438.3 L179.0,438.6 L180.5,438.3 L182.0,438.3 L183.5,438.0 L185.0,438.0 L186.5,438.3 L188.0,438.1 L189.5,438.3 L191.0,438.1 L192.5,437.8 L194.0,437.8 L195.5,437.9 L197.0,438.0 L198.5,438.0 L200.0,437.7 L201.5,437.6 L203.0,437.9 L204.5,437.6 L206.0,438.0 L207.5,437.9 L209.0,437.8 L210.5,437.6 L212.0,437.7 L213.5,437.7 L215.0,437.6 L216.5,437.8 L218.0,437.5 L219.5,437.8 L221.0,437.5 L222.5,437.7 L224.0,437.7 L225.5,437.5 L227.0,437.5 L228.5,437.5 L230.0,437.5 L231.5,437.4 L233.0,437.6 L234.5,437.5 L236.0,437.3 L237.5,437.3 L239.0,437.3 L240.5,437.1 L242.0,437.2 L243.5,437.1 L245.0,437.4 L246.5,437.1 L248.0,437.1 L249.5,437.0 L250.0,437.3 L251.5,437.1 L253.0,436.6 L254.5,436.7 L256.0,436.2 L257.5,436.0 L259.0,436.2 L260.5,435.9 L262.0,435.5 L263.5,435.3 L265.0,435.1 L266.5,434.3 L268.0,434.1 L269.5,433.6 L270.0,433.8 L271.5,433.6 L273.0,433.5 L274.5,433.8 L276.0,433.7 L277.5,433.5 L279.0,433.4 L280.5,433.3 L282.0,433.7 L283.5,433.5 L285.0,433.4 L286.5,433.5 L288.0,433.4 L289.5,433.7 L291.0,433.7 L292.5,433.7 L294.0,433.7 L295.5,433.5 L297.0,433.5 L298.5,433.5 L300.0,433.7 L301.5,433.6 L303.0,433.6 L304.5,433.3 L306.0,433.2 L307.5,433.2 L309.0,433.6 L310.5,433.7 L312.0,433.2 L313.5,433.4 L315.0,433.3 L316.5,433.5 L318.0,433.4 L319.5,433.4 L320.0,433.4 L321.5,433.6 L323.0,434.2 L324.5,434.2 L326.0,434.4 L326.3,434.6 L326.3,442.4 L326.3,442.4 Z" fill="#c81e32" stroke="none" stroke-width="0.8" />
<line x1="82.00" y1="457.50" x2="326.30" y2="457.50" stroke="#3aaa3a" stroke-width="1.2" />
<line x1="0.00" y1="457.80" x2="0.00" y2="457.80" stroke="#3aaa3a" stroke-width="0" />
<path d="M298.0,457.8 L298.0,457.8 L300.0,456.6 L301.0,456.4 L302.0,456.3 L303.0,456.5 L304.0,456.6 L305.0,456.6 L306.0,456.4 L307.0,456.7 L308.0,456.2 L309.0,456.2 L310.0,456.3 L311.0,456.2 L312.0,456.3 L314.0,457.8 L314.0,457.8 Z" fill="#3aaa3a" stroke="none" stroke-width="0.8" />
<line x1="82.00" y1="473.50" x2="326.30" y2="473.50" stroke="#c81e32" stroke-width="1.0" />
<path d="M82.0,473.7 L82.0,470.9 L83.5,470.8 L85.0,470.7 L86.5,470.4 L88.0,470.4 L89.5,470.6 L91.0,470.2 L92.5,470.3 L94.0,470.2 L95.5,470.1 L97.0,470.2 L98.5,469.9 L100.0,469.8 L101.5,469.7 L103.0,469.5 L104.5,469.2 L106.0,469.2 L107.5,468.9 L108.0,469.1 L109.5,469.0 L111.0,468.9 L112.5,469.1 L114.0,468.9 L115.5,468.8 L117.0,468.8 L118.5,469.0 L120.0,468.6 L121.5,468.7 L123.0,468.9 L124.5,468.7 L125.0,468.8 L126.5,468.9 L128.0,469.1 L129.5,469.0 L131.0,469.3 L132.5,469.4 L134.0,469.5 L135.5,469.5 L137.0,470.2 L138.5,470.0 L140.0,470.1 L141.5,470.5 L143.0,470.5 L144.5,470.9 L146.0,471.0 L147.5,471.0 L149.0,471.3 L150.0,471.3 L151.5,471.1 L153.0,471.4 L154.5,471.5 L156.0,471.3 L157.5,471.6 L159.0,471.5 L160.5,471.8 L162.0,471.8 L163.5,472.2 L165.0,472.1 L166.5,472.1 L168.0,472.5 L169.5,472.2 L170.0,472.6 L171.5,472.5 L173.0,472.7 L174.5,472.6 L176.0,472.5 L177.5,472.9 L179.0,472.5 L180.5,472.8 L182.0,472.8 L183.5,472.7 L185.0,472.8 L186.5,472.9 L188.0,472.6 L189.5,472.7 L190.0,472.8 L191.5,472.4 L193.0,472.4 L194.5,472.4 L196.0,472.1 L197.5,472.0 L199.0,471.8 L200.0,471.4 L201.5,471.7 L203.0,471.7 L204.5,471.9 L205.0,472.3 L206.5,471.9 L208.0,471.9 L209.5,472.3 L211.0,471.9 L212.5,472.1 L214.0,472.1 L215.5,471.9 L217.0,472.2 L218.5,472.1 L220.0,471.9 L221.5,472.0 L223.0,472.1 L224.5,471.9 L226.0,471.9 L227.5,472.0 L229.0,472.3 L230.5,472.0 L232.0,472.1 L233.5,472.2 L235.0,472.3 L236.5,472.1 L238.0,472.3 L239.5,472.1 L240.0,472.0 L241.5,471.4 L242.0,471.2 L243.5,471.1 L245.0,471.1 L246.5,471.0 L248.0,471.1 L249.5,470.9 L251.0,470.9 L252.5,471.0 L254.0,471.2 L255.5,471.3 L257.0,470.9 L258.5,471.0 L260.0,471.0 L261.5,471.2 L263.0,471.2 L264.5,471.0 L266.0,471.1 L267.5,472.1 L268.0,472.4 L269.5,472.4 L271.0,472.7 L272.5,472.6 L274.0,472.3 L275.5,472.3 L277.0,472.3 L278.5,472.7 L280.0,472.7 L281.5,472.6 L283.0,472.5 L284.5,472.4 L286.0,472.7 L287.5,472.5 L289.0,472.7 L290.5,472.7 L292.0,472.4 L293.5,472.5 L295.0,472.4 L296.5,472.6 L298.0,472.5 L299.5,472.6 L301.0,472.6 L302.5,472.4 L304.0,472.3 L305.5,472.7 L307.0,472.7 L308.5,472.3 L310.0,472.4 L311.5,472.4 L313.0,472.6 L314.5,472.5 L315.0,472.6 L316.5,471.9 L318.0,471.8 L319.5,471.6 L321.0,471.5 L322.5,471.8 L324.0,471.7 L325.5,471.6 L326.3,471.7 L326.3,473.7 L326.3,473.7 Z" fill="#c81e32" stroke="none" stroke-width="0.8" />
<line x1="82.00" y1="489.50" x2="326.30" y2="489.50" stroke="#3aaa3a" stroke-width="1.2" />
<line x1="0.00" y1="489.20" x2="0.00" y2="489.20" stroke="#3aaa3a" stroke-width="0" />
<path d="M198.0,489.2 L198.0,489.2 L200.0,487.9 L202.0,488.2 L204.0,488.2 L206.0,488.4 L208.0,487.9 L210.0,488.3 L212.0,488.3 L214.0,488.0 L216.0,488.0 L218.0,487.8 L220.0,488.0 L222.0,487.7 L224.0,488.1 L226.0,488.0 L228.0,487.7 L230.0,488.0 L232.0,487.9 L234.0,487.6 L236.0,487.6 L238.0,487.8 L240.0,487.8 L242.0,487.7 L244.0,487.4 L246.0,487.6 L248.0,487.7 L250.0,487.4 L252.0,487.4 L254.0,487.2 L256.0,487.1 L258.0,487.1 L260.0,487.4 L262.0,487.1 L264.0,487.4 L266.0,487.4 L268.0,487.3 L270.0,486.9 L272.0,486.9 L274.0,487.3 L276.0,487.2 L278.0,487.2 L280.0,487.2 L282.0,487.1 L284.0,487.1 L286.0,487.2 L288.0,487.0 L290.0,486.8 L292.0,486.9 L294.0,486.7 L296.0,486.9 L298.0,487.1 L300.0,486.7 L302.0,486.6 L304.0,487.0 L306.0,487.1 L308.0,486.8 L310.0,486.7 L312.0,486.7 L314.0,486.4 L316.0,486.6 L318.0,486.5 L320.0,486.9 L322.0,486.6 L324.0,486.4 L326.0,486.6 L326.3,489.2 L326.3,489.2 Z" fill="#3aaa3a" stroke="none" stroke-width="0.8" />
<rect x="270.00" y="427.50" width="52.50" height="66.50" fill="#c50524" stroke="none" stroke-width="0.6" fill-opacity="0.48"/>
<text x="59.50" y="432.60" font-size="7.4" fill="#231f20" text-anchor="middle" >DDX1</text>
<text x="59.50" y="443.20" font-size="7.4" fill="#231f20" text-anchor="middle" >ChIP</text>
<text x="60.00" y="456.90" font-size="7.4" fill="#231f20" text-anchor="middle" >input</text>
<text x="59.50" y="466.10" font-size="7.4" fill="#231f20" text-anchor="middle" >DDX1</text>
<text x="59.50" y="476.80" font-size="7.4" fill="#231f20" text-anchor="middle" >ChIP</text>
<text x="60.00" y="490.50" font-size="7.4" fill="#231f20" text-anchor="middle" >input</text>
<text x="76.50" y="432.60" font-size="7.0" fill="#231f20" text-anchor="middle" >16</text>
<text x="76.50" y="442.50" font-size="7.0" fill="#231f20" text-anchor="middle" >0</text>
<text x="76.50" y="448.60" font-size="7.0" fill="#231f20" text-anchor="middle" >16</text>
<text x="76.50" y="456.50" font-size="7.0" fill="#231f20" text-anchor="middle" >0</text>
<text x="76.50" y="462.70" font-size="7.0" fill="#231f20" text-anchor="middle" >16</text>
<text x="76.50" y="474.10" font-size="7.0" fill="#231f20" text-anchor="middle" >0</text>
<text x="76.50" y="480.00" font-size="7.0" fill="#231f20" text-anchor="middle" >16</text>
<text x="76.50" y="490.40" font-size="7.0" fill="#231f20" text-anchor="middle" >0</text>
<line x1="44.50" y1="431.80" x2="44.50" y2="457.00" stroke="#231f20" stroke-width="0.8" />
<line x1="44.50" y1="466.80" x2="44.50" y2="488.00" stroke="#231f20" stroke-width="0.8" />
<text x="42.50" y="448.20" font-size="7.6" fill="#231f20" text-anchor="end" ><tspan font-style="italic">Azin1</tspan>-G</text>
<text x="42.50" y="480.20" font-size="7.6" fill="#231f20" text-anchor="end" ><tspan font-style="italic">Azin1</tspan>-TC</text>
<text x="9.20" y="529.50" font-size="11.6" fill="#000" font-weight="bold" >H</text>
<line x1="34.50" y1="553.40" x2="34.50" y2="620.00" stroke="#231f20" stroke-width="1.0" />
<line x1="34.60" y1="620.50" x2="229.00" y2="620.50" stroke="#231f20" stroke-width="1.0" />
<line x1="32.10" y1="620.50" x2="34.60" y2="620.50" stroke="#231f20" stroke-width="1.0" />
<text x="31.60" y="622.60" font-size="7.3" fill="#231f20" text-anchor="end" >0</text>
<line x1="32.10" y1="597.50" x2="34.60" y2="597.50" stroke="#231f20" stroke-width="1.0" />
<text x="31.60" y="600.52" font-size="7.3" fill="#231f20" text-anchor="end" >10</text>
<line x1="32.10" y1="575.50" x2="34.60" y2="575.50" stroke="#231f20" stroke-width="1.0" />
<text x="31.60" y="578.44" font-size="7.3" fill="#231f20" text-anchor="end" >20</text>
<line x1="32.10" y1="553.50" x2="34.60" y2="553.50" stroke="#231f20" stroke-width="1.0" />
<text x="31.60" y="556.36" font-size="7.3" fill="#231f20" text-anchor="end" >30</text>
<text x="10.60" y="586.80" font-size="8.2" fill="#231f20" text-anchor="middle" textLength="23.6" lengthAdjust="spacingAndGlyphs" transform="rotate(-90 10.60 586.80)" >AZI ChIP</text>
<text x="20.60" y="585.00" font-size="8.2" fill="#231f20" text-anchor="middle" textLength="65.5" lengthAdjust="spacingAndGlyphs" transform="rotate(-90 20.60 585.00)" >relative fold enrichment</text>
<rect x="36.30" y="618.00" width="3.60" height="2.00" fill="#d3213b" stroke="#231f20" stroke-width="0.55" />
<line x1="38.50" y1="618.00" x2="38.50" y2="617.70" stroke="#231f20" stroke-width="0.8" />
<line x1="36.60" y1="617.50" x2="39.60" y2="617.50" stroke="#231f20" stroke-width="0.8" />
<rect x="40.80" y="618.50" width="3.50" height="1.50" fill="#1c5a97" stroke="#231f20" stroke-width="0.55" />
<line x1="42.50" y1="618.50" x2="42.50" y2="618.20" stroke="#231f20" stroke-width="0.8" />
<line x1="41.05" y1="618.50" x2="44.05" y2="618.50" stroke="#231f20" stroke-width="0.8" />
<line x1="40.30" y1="620.00" x2="40.30" y2="622.00" stroke="#231f20" stroke-width="0.6" />
<text x="41.70" y="627.00" font-size="7.1" fill="#231f20" text-anchor="end" transform="rotate(-45 41.70 627.00)" >Actin</text>
<rect x="47.72" y="590.50" width="3.60" height="29.50" fill="#d3213b" stroke="#231f20" stroke-width="0.55" />
<line x1="49.50" y1="590.50" x2="49.50" y2="586.50" stroke="#231f20" stroke-width="0.8" />
<line x1="48.02" y1="586.50" x2="51.02" y2="586.50" stroke="#231f20" stroke-width="0.8" />
<rect x="52.22" y="615.00" width="3.50" height="5.00" fill="#1c5a97" stroke="#231f20" stroke-width="0.55" />
<line x1="53.50" y1="615.00" x2="53.50" y2="614.20" stroke="#231f20" stroke-width="0.8" />
<line x1="52.47" y1="614.50" x2="55.47" y2="614.50" stroke="#231f20" stroke-width="0.8" />
<rect x="48.02" y="590.80" width="3.00" height="4.00" fill="#6e0d1a" stroke="none" stroke-width="0.6" fill-opacity="0.8"/>
<rect x="52.52" y="615.30" width="2.90" height="0.80" fill="#0d2a4e" stroke="none" stroke-width="0.6" fill-opacity="0.7"/>
<line x1="51.72" y1="620.00" x2="51.72" y2="622.00" stroke="#231f20" stroke-width="0.6" />
<line x1="49.52" y1="585.30" x2="54.32" y2="585.30" stroke="#231f20" stroke-width="0.5" />
<line x1="54.32" y1="585.30" x2="54.32" y2="586.50" stroke="#231f20" stroke-width="0.5" />
<path d="M50.77,582.45 L50.77,584.15 M50.03,582.88 L51.51,583.72 M51.51,582.88 L50.03,583.72 " fill="none" stroke="#2a2a2a" stroke-width="0.6" />
<path d="M53.07,582.45 L53.07,584.15 M52.33,582.88 L53.81,583.72 M53.81,582.88 L52.33,583.72 " fill="none" stroke="#2a2a2a" stroke-width="0.6" />
<text x="53.12" y="627.00" font-size="7.1" fill="#231f20" text-anchor="end" transform="rotate(-45 53.12 627.00)" >Plaur</text>
<rect x="59.14" y="605.75" width="3.60" height="14.25" fill="#d3213b" stroke="#231f20" stroke-width="0.55" />
<line x1="60.50" y1="605.75" x2="60.50" y2="602.75" stroke="#231f20" stroke-width="0.8" />
<line x1="59.44" y1="602.50" x2="62.44" y2="602.50" stroke="#231f20" stroke-width="0.8" />
<rect x="63.64" y="615.00" width="3.50" height="5.00" fill="#1c5a97" stroke="#231f20" stroke-width="0.55" />
<line x1="65.50" y1="615.00" x2="65.50" y2="614.20" stroke="#231f20" stroke-width="0.8" />
<line x1="63.89" y1="614.50" x2="66.89" y2="614.50" stroke="#231f20" stroke-width="0.8" />
<rect x="59.44" y="606.05" width="3.00" height="3.00" fill="#6e0d1a" stroke="none" stroke-width="0.6" fill-opacity="0.8"/>
<rect x="63.94" y="615.30" width="2.90" height="0.80" fill="#0d2a4e" stroke="none" stroke-width="0.6" fill-opacity="0.7"/>
<line x1="63.14" y1="620.00" x2="63.14" y2="622.00" stroke="#231f20" stroke-width="0.6" />
<line x1="60.94" y1="601.55" x2="65.74" y2="601.55" stroke="#231f20" stroke-width="0.5" />
<line x1="65.74" y1="601.55" x2="65.74" y2="602.75" stroke="#231f20" stroke-width="0.5" />
<path d="M62.19,598.70 L62.19,600.40 M61.45,599.12 L62.93,599.97 M62.93,599.12 L61.45,599.97 " fill="none" stroke="#2a2a2a" stroke-width="0.6" />
<path d="M64.49,598.70 L64.49,600.40 M63.75,599.12 L65.23,599.97 M65.23,599.12 L63.75,599.97 " fill="none" stroke="#2a2a2a" stroke-width="0.6" />
<text x="64.54" y="627.00" font-size="7.1" fill="#231f20" text-anchor="end" transform="rotate(-45 64.54 627.00)" >Tlr2</text>
<rect x="70.56" y="568.75" width="3.60" height="51.25" fill="#d3213b" stroke="#231f20" stroke-width="0.55" />
<line x1="72.50" y1="568.75" x2="72.50" y2="558.75" stroke="#231f20" stroke-width="0.8" />
<line x1="70.86" y1="558.50" x2="73.86" y2="558.50" stroke="#231f20" stroke-width="0.8" />
<rect x="75.06" y="615.00" width="3.50" height="5.00" fill="#1c5a97" stroke="#231f20" stroke-width="0.55" />
<line x1="76.50" y1="615.00" x2="76.50" y2="614.20" stroke="#231f20" stroke-width="0.8" />
<line x1="75.31" y1="614.50" x2="78.31" y2="614.50" stroke="#231f20" stroke-width="0.8" />
<rect x="70.86" y="569.05" width="3.00" height="10.00" fill="#6e0d1a" stroke="none" stroke-width="0.6" fill-opacity="0.8"/>
<rect x="75.36" y="615.30" width="2.90" height="0.80" fill="#0d2a4e" stroke="none" stroke-width="0.6" fill-opacity="0.7"/>
<line x1="74.56" y1="620.00" x2="74.56" y2="622.00" stroke="#231f20" stroke-width="0.6" />
<line x1="72.36" y1="557.55" x2="77.16" y2="557.55" stroke="#231f20" stroke-width="0.5" />
<line x1="77.16" y1="557.55" x2="77.16" y2="558.75" stroke="#231f20" stroke-width="0.5" />
<path d="M72.46,554.70 L72.46,556.40 M71.72,555.12 L73.20,555.97 M73.20,555.12 L71.72,555.97 " fill="none" stroke="#2a2a2a" stroke-width="0.6" />
<path d="M74.76,554.70 L74.76,556.40 M74.02,555.12 L75.50,555.97 M75.50,555.12 L74.02,555.97 " fill="none" stroke="#2a2a2a" stroke-width="0.6" />
<path d="M77.06,554.70 L77.06,556.40 M76.32,555.12 L77.80,555.97 M77.80,555.12 L76.32,555.97 " fill="none" stroke="#2a2a2a" stroke-width="0.6" />
<text x="75.96" y="627.00" font-size="7.1" fill="#231f20" text-anchor="end" transform="rotate(-45 75.96 627.00)" >Plxnc1</text>
<rect x="81.98" y="562.00" width="3.60" height="58.00" fill="#d3213b" stroke="#231f20" stroke-width="0.55" />
<line x1="83.50" y1="562.00" x2="83.50" y2="555.00" stroke="#231f20" stroke-width="0.8" />
<line x1="82.28" y1="555.50" x2="85.28" y2="555.50" stroke="#231f20" stroke-width="0.8" />
<rect x="86.48" y="615.00" width="3.50" height="5.00" fill="#1c5a97" stroke="#231f20" stroke-width="0.55" />
<line x1="88.50" y1="615.00" x2="88.50" y2="614.20" stroke="#231f20" stroke-width="0.8" />
<line x1="86.73" y1="614.50" x2="89.73" y2="614.50" stroke="#231f20" stroke-width="0.8" />
<rect x="82.28" y="562.30" width="3.00" height="7.00" fill="#6e0d1a" stroke="none" stroke-width="0.6" fill-opacity="0.8"/>
<rect x="86.78" y="615.30" width="2.90" height="0.80" fill="#0d2a4e" stroke="none" stroke-width="0.6" fill-opacity="0.7"/>
<line x1="85.98" y1="620.00" x2="85.98" y2="622.00" stroke="#231f20" stroke-width="0.6" />
<line x1="83.78" y1="553.80" x2="88.58" y2="553.80" stroke="#231f20" stroke-width="0.5" />
<line x1="88.58" y1="553.80" x2="88.58" y2="555.00" stroke="#231f20" stroke-width="0.5" />
<path d="M83.88,550.95 L83.88,552.65 M83.14,551.38 L84.62,552.22 M84.62,551.38 L83.14,552.22 " fill="none" stroke="#2a2a2a" stroke-width="0.6" />
<path d="M86.18,550.95 L86.18,552.65 M85.44,551.38 L86.92,552.22 M86.92,551.38 L85.44,552.22 " fill="none" stroke="#2a2a2a" stroke-width="0.6" />
<path d="M88.48,550.95 L88.48,552.65 M87.74,551.38 L89.22,552.22 M89.22,551.38 L87.74,552.22 " fill="none" stroke="#2a2a2a" stroke-width="0.6" />
<text x="87.38" y="627.00" font-size="7.1" fill="#231f20" text-anchor="end" transform="rotate(-45 87.38 627.00)" >Bmpr2</text>
<rect x="93.40" y="615.00" width="3.60" height="5.00" fill="#d3213b" stroke="#231f20" stroke-width="0.55" />
<line x1="95.50" y1="615.00" x2="95.50" y2="612.00" stroke="#231f20" stroke-width="0.8" />
<line x1="93.70" y1="612.50" x2="96.70" y2="612.50" stroke="#231f20" stroke-width="0.8" />
<rect x="97.90" y="618.75" width="3.50" height="1.25" fill="#1c5a97" stroke="#231f20" stroke-width="0.55" />
<line x1="99.50" y1="618.75" x2="99.50" y2="618.25" stroke="#231f20" stroke-width="0.8" />
<line x1="98.15" y1="618.50" x2="101.15" y2="618.50" stroke="#231f20" stroke-width="0.8" />
<rect x="93.70" y="615.30" width="3.00" height="3.00" fill="#6e0d1a" stroke="none" stroke-width="0.6" fill-opacity="0.8"/>
<line x1="97.40" y1="620.00" x2="97.40" y2="622.00" stroke="#231f20" stroke-width="0.6" />
<line x1="95.20" y1="610.80" x2="100.00" y2="610.80" stroke="#231f20" stroke-width="0.5" />
<line x1="100.00" y1="610.80" x2="100.00" y2="612.00" stroke="#231f20" stroke-width="0.5" />
<text x="97.80" y="610.00" font-size="4.6" fill="#231f20" text-anchor="middle" >NS</text>
<text x="98.80" y="627.00" font-size="7.1" fill="#231f20" text-anchor="end" transform="rotate(-45 98.80 627.00)" >Zfp36</text>
<rect x="104.82" y="605.00" width="3.60" height="15.00" fill="#d3213b" stroke="#231f20" stroke-width="0.55" />
<line x1="106.50" y1="605.00" x2="106.50" y2="602.00" stroke="#231f20" stroke-width="0.8" />
<line x1="105.12" y1="602.50" x2="108.12" y2="602.50" stroke="#231f20" stroke-width="0.8" />
<rect x="109.32" y="612.00" width="3.50" height="8.00" fill="#1c5a97" stroke="#231f20" stroke-width="0.55" />
<line x1="111.50" y1="612.00" x2="111.50" y2="609.50" stroke="#231f20" stroke-width="0.8" />
<line x1="109.57" y1="609.50" x2="112.57" y2="609.50" stroke="#231f20" stroke-width="0.8" />
<rect x="105.12" y="605.30" width="3.00" height="3.00" fill="#6e0d1a" stroke="none" stroke-width="0.6" fill-opacity="0.8"/>
<rect x="109.62" y="612.30" width="2.90" height="2.50" fill="#0d2a4e" stroke="none" stroke-width="0.6" fill-opacity="0.7"/>
<line x1="108.82" y1="620.00" x2="108.82" y2="622.00" stroke="#231f20" stroke-width="0.6" />
<line x1="106.62" y1="600.80" x2="111.42" y2="600.80" stroke="#231f20" stroke-width="0.5" />
<line x1="111.42" y1="600.80" x2="111.42" y2="602.00" stroke="#231f20" stroke-width="0.5" />
<path d="M109.02,597.95 L109.02,599.65 M108.28,598.38 L109.76,599.22 M109.76,598.38 L108.28,599.22 " fill="none" stroke="#2a2a2a" stroke-width="0.6" />
<text x="110.22" y="627.00" font-size="7.1" fill="#231f20" text-anchor="end" transform="rotate(-45 110.22 627.00)" >Rab31</text>
<rect x="116.24" y="610.00" width="3.60" height="10.00" fill="#d3213b" stroke="#231f20" stroke-width="0.55" />
<line x1="118.50" y1="610.00" x2="118.50" y2="607.00" stroke="#231f20" stroke-width="0.8" />
<line x1="116.54" y1="607.50" x2="119.54" y2="607.50" stroke="#231f20" stroke-width="0.8" />
<rect x="120.74" y="618.75" width="3.50" height="1.25" fill="#1c5a97" stroke="#231f20" stroke-width="0.55" />
<line x1="122.50" y1="618.75" x2="122.50" y2="618.25" stroke="#231f20" stroke-width="0.8" />
<line x1="120.99" y1="618.50" x2="123.99" y2="618.50" stroke="#231f20" stroke-width="0.8" />
<rect x="116.54" y="610.30" width="3.00" height="3.00" fill="#6e0d1a" stroke="none" stroke-width="0.6" fill-opacity="0.8"/>
<line x1="120.24" y1="620.00" x2="120.24" y2="622.00" stroke="#231f20" stroke-width="0.6" />
<line x1="118.04" y1="605.80" x2="122.84" y2="605.80" stroke="#231f20" stroke-width="0.5" />
<line x1="122.84" y1="605.80" x2="122.84" y2="607.00" stroke="#231f20" stroke-width="0.5" />
<path d="M120.44,602.95 L120.44,604.65 M119.70,603.38 L121.18,604.22 M121.18,603.38 L119.70,604.22 " fill="none" stroke="#2a2a2a" stroke-width="0.6" />
<text x="121.64" y="627.00" font-size="7.1" fill="#231f20" text-anchor="end" transform="rotate(-45 121.64 627.00)" >Hist1h4a</text>
<rect x="127.66" y="610.50" width="3.60" height="9.50" fill="#d3213b" stroke="#231f20" stroke-width="0.55" />
<line x1="129.50" y1="610.50" x2="129.50" y2="608.50" stroke="#231f20" stroke-width="0.8" />
<line x1="127.96" y1="608.50" x2="130.96" y2="608.50" stroke="#231f20" stroke-width="0.8" />
<rect x="132.16" y="615.50" width="3.50" height="4.50" fill="#1c5a97" stroke="#231f20" stroke-width="0.55" />
<line x1="133.50" y1="615.50" x2="133.50" y2="614.70" stroke="#231f20" stroke-width="0.8" />
<line x1="132.41" y1="614.50" x2="135.41" y2="614.50" stroke="#231f20" stroke-width="0.8" />
<rect x="127.96" y="610.80" width="3.00" height="2.00" fill="#6e0d1a" stroke="none" stroke-width="0.6" fill-opacity="0.8"/>
<rect x="132.46" y="615.80" width="2.90" height="0.80" fill="#0d2a4e" stroke="none" stroke-width="0.6" fill-opacity="0.7"/>
<line x1="131.66" y1="620.00" x2="131.66" y2="622.00" stroke="#231f20" stroke-width="0.6" />
<line x1="129.46" y1="607.30" x2="134.26" y2="607.30" stroke="#231f20" stroke-width="0.5" />
<line x1="134.26" y1="607.30" x2="134.26" y2="608.50" stroke="#231f20" stroke-width="0.5" />
<path d="M130.71,604.45 L130.71,606.15 M129.97,604.88 L131.45,605.72 M131.45,604.88 L129.97,605.72 " fill="none" stroke="#2a2a2a" stroke-width="0.6" />
<path d="M133.01,604.45 L133.01,606.15 M132.27,604.88 L133.75,605.72 M133.75,604.88 L132.27,605.72 " fill="none" stroke="#2a2a2a" stroke-width="0.6" />
<text x="133.06" y="627.00" font-size="7.1" fill="#231f20" text-anchor="end" transform="rotate(-45 133.06 627.00)" >H3f3b</text>
<rect x="139.08" y="596.75" width="3.60" height="23.25" fill="#d3213b" stroke="#231f20" stroke-width="0.55" />
<line x1="140.50" y1="596.75" x2="140.50" y2="594.75" stroke="#231f20" stroke-width="0.8" />
<line x1="139.38" y1="594.50" x2="142.38" y2="594.50" stroke="#231f20" stroke-width="0.8" />
<rect x="143.58" y="614.25" width="3.50" height="5.75" fill="#1c5a97" stroke="#231f20" stroke-width="0.55" />
<line x1="145.50" y1="614.25" x2="145.50" y2="613.25" stroke="#231f20" stroke-width="0.8" />
<line x1="143.83" y1="613.50" x2="146.83" y2="613.50" stroke="#231f20" stroke-width="0.8" />
<rect x="139.38" y="597.05" width="3.00" height="2.00" fill="#6e0d1a" stroke="none" stroke-width="0.6" fill-opacity="0.8"/>
<rect x="143.88" y="614.55" width="2.90" height="1.00" fill="#0d2a4e" stroke="none" stroke-width="0.6" fill-opacity="0.7"/>
<line x1="143.08" y1="620.00" x2="143.08" y2="622.00" stroke="#231f20" stroke-width="0.6" />
<line x1="140.88" y1="593.55" x2="145.68" y2="593.55" stroke="#231f20" stroke-width="0.5" />
<line x1="145.68" y1="593.55" x2="145.68" y2="594.75" stroke="#231f20" stroke-width="0.5" />
<path d="M140.98,590.70 L140.98,592.40 M140.24,591.12 L141.72,591.97 M141.72,591.12 L140.24,591.97 " fill="none" stroke="#2a2a2a" stroke-width="0.6" />
<path d="M143.28,590.70 L143.28,592.40 M142.54,591.12 L144.02,591.97 M144.02,591.12 L142.54,591.97 " fill="none" stroke="#2a2a2a" stroke-width="0.6" />
<path d="M145.58,590.70 L145.58,592.40 M144.84,591.12 L146.32,591.97 M146.32,591.12 L144.84,591.97 " fill="none" stroke="#2a2a2a" stroke-width="0.6" />
<text x="144.48" y="627.00" font-size="7.1" fill="#231f20" text-anchor="end" transform="rotate(-45 144.48 627.00)" >Pold3</text>
<rect x="150.50" y="606.25" width="3.60" height="13.75" fill="#d3213b" stroke="#231f20" stroke-width="0.55" />
<line x1="152.50" y1="606.25" x2="152.50" y2="604.25" stroke="#231f20" stroke-width="0.8" />
<line x1="150.80" y1="604.50" x2="153.80" y2="604.50" stroke="#231f20" stroke-width="0.8" />
<rect x="155.00" y="611.25" width="3.50" height="8.75" fill="#1c5a97" stroke="#231f20" stroke-width="0.55" />
<line x1="156.50" y1="611.25" x2="156.50" y2="608.75" stroke="#231f20" stroke-width="0.8" />
<line x1="155.25" y1="608.50" x2="158.25" y2="608.50" stroke="#231f20" stroke-width="0.8" />
<rect x="150.80" y="606.55" width="3.00" height="2.00" fill="#6e0d1a" stroke="none" stroke-width="0.6" fill-opacity="0.8"/>
<rect x="155.30" y="611.55" width="2.90" height="2.50" fill="#0d2a4e" stroke="none" stroke-width="0.6" fill-opacity="0.7"/>
<line x1="154.50" y1="620.00" x2="154.50" y2="622.00" stroke="#231f20" stroke-width="0.6" />
<line x1="152.30" y1="603.05" x2="157.10" y2="603.05" stroke="#231f20" stroke-width="0.5" />
<line x1="157.10" y1="603.05" x2="157.10" y2="604.25" stroke="#231f20" stroke-width="0.5" />
<path d="M154.70,600.20 L154.70,601.90 M153.96,600.62 L155.44,601.47 M155.44,600.62 L153.96,601.47 " fill="none" stroke="#2a2a2a" stroke-width="0.6" />
<text x="155.90" y="627.00" font-size="7.1" fill="#231f20" text-anchor="end" transform="rotate(-45 155.90 627.00)" >Ssu72</text>
<rect x="161.92" y="595.50" width="3.60" height="24.50" fill="#d3213b" stroke="#231f20" stroke-width="0.55" />
<line x1="163.50" y1="595.50" x2="163.50" y2="591.50" stroke="#231f20" stroke-width="0.8" />
<line x1="162.22" y1="591.50" x2="165.22" y2="591.50" stroke="#231f20" stroke-width="0.8" />
<rect x="166.42" y="608.25" width="3.50" height="11.75" fill="#1c5a97" stroke="#231f20" stroke-width="0.55" />
<line x1="168.50" y1="608.25" x2="168.50" y2="605.75" stroke="#231f20" stroke-width="0.8" />
<line x1="166.67" y1="605.50" x2="169.67" y2="605.50" stroke="#231f20" stroke-width="0.8" />
<rect x="162.22" y="595.80" width="3.00" height="4.00" fill="#6e0d1a" stroke="none" stroke-width="0.6" fill-opacity="0.8"/>
<rect x="166.72" y="608.55" width="2.90" height="2.50" fill="#0d2a4e" stroke="none" stroke-width="0.6" fill-opacity="0.7"/>
<line x1="165.92" y1="620.00" x2="165.92" y2="622.00" stroke="#231f20" stroke-width="0.6" />
<line x1="163.72" y1="590.30" x2="168.52" y2="590.30" stroke="#231f20" stroke-width="0.5" />
<line x1="168.52" y1="590.30" x2="168.52" y2="591.50" stroke="#231f20" stroke-width="0.5" />
<path d="M164.97,587.45 L164.97,589.15 M164.23,587.88 L165.71,588.72 M165.71,587.88 L164.23,588.72 " fill="none" stroke="#2a2a2a" stroke-width="0.6" />
<path d="M167.27,587.45 L167.27,589.15 M166.53,587.88 L168.01,588.72 M168.01,587.88 L166.53,588.72 " fill="none" stroke="#2a2a2a" stroke-width="0.6" />
<text x="167.32" y="627.00" font-size="7.1" fill="#231f20" text-anchor="end" transform="rotate(-45 167.32 627.00)" >Naip2</text>
<rect x="173.34" y="603.75" width="3.60" height="16.25" fill="#d3213b" stroke="#231f20" stroke-width="0.55" />
<line x1="175.50" y1="603.75" x2="175.50" y2="600.75" stroke="#231f20" stroke-width="0.8" />
<line x1="173.64" y1="600.50" x2="176.64" y2="600.50" stroke="#231f20" stroke-width="0.8" />
<rect x="177.84" y="613.25" width="3.50" height="6.75" fill="#1c5a97" stroke="#231f20" stroke-width="0.55" />
<line x1="179.50" y1="613.25" x2="179.50" y2="611.25" stroke="#231f20" stroke-width="0.8" />
<line x1="178.09" y1="611.50" x2="181.09" y2="611.50" stroke="#231f20" stroke-width="0.8" />
<rect x="173.64" y="604.05" width="3.00" height="3.00" fill="#6e0d1a" stroke="none" stroke-width="0.6" fill-opacity="0.8"/>
<rect x="178.14" y="613.55" width="2.90" height="2.00" fill="#0d2a4e" stroke="none" stroke-width="0.6" fill-opacity="0.7"/>
<line x1="177.34" y1="620.00" x2="177.34" y2="622.00" stroke="#231f20" stroke-width="0.6" />
<line x1="175.14" y1="599.55" x2="179.94" y2="599.55" stroke="#231f20" stroke-width="0.5" />
<line x1="179.94" y1="599.55" x2="179.94" y2="600.75" stroke="#231f20" stroke-width="0.5" />
<path d="M177.54,596.70 L177.54,598.40 M176.80,597.12 L178.28,597.97 M178.28,597.12 L176.80,597.97 " fill="none" stroke="#2a2a2a" stroke-width="0.6" />
<text x="178.74" y="627.00" font-size="7.1" fill="#231f20" text-anchor="end" transform="rotate(-45 178.74 627.00)" >Ptges</text>
<rect x="184.76" y="604.25" width="3.60" height="15.75" fill="#d3213b" stroke="#231f20" stroke-width="0.55" />
<line x1="186.50" y1="604.25" x2="186.50" y2="601.25" stroke="#231f20" stroke-width="0.8" />
<line x1="185.06" y1="601.50" x2="188.06" y2="601.50" stroke="#231f20" stroke-width="0.8" />
<rect x="189.26" y="612.00" width="3.50" height="8.00" fill="#1c5a97" stroke="#231f20" stroke-width="0.55" />
<line x1="191.50" y1="612.00" x2="191.50" y2="609.00" stroke="#231f20" stroke-width="0.8" />
<line x1="189.51" y1="609.50" x2="192.51" y2="609.50" stroke="#231f20" stroke-width="0.8" />
<rect x="185.06" y="604.55" width="3.00" height="3.00" fill="#6e0d1a" stroke="none" stroke-width="0.6" fill-opacity="0.8"/>
<rect x="189.56" y="612.30" width="2.90" height="3.00" fill="#0d2a4e" stroke="none" stroke-width="0.6" fill-opacity="0.7"/>
<line x1="188.76" y1="620.00" x2="188.76" y2="622.00" stroke="#231f20" stroke-width="0.6" />
<line x1="186.56" y1="600.05" x2="191.36" y2="600.05" stroke="#231f20" stroke-width="0.5" />
<line x1="191.36" y1="600.05" x2="191.36" y2="601.25" stroke="#231f20" stroke-width="0.5" />
<text x="189.16" y="599.25" font-size="4.6" fill="#231f20" text-anchor="middle" >NS</text>
<text x="190.16" y="627.00" font-size="7.1" fill="#231f20" text-anchor="end" transform="rotate(-45 190.16 627.00)" >Ubc</text>
<rect x="196.18" y="605.50" width="3.60" height="14.50" fill="#d3213b" stroke="#231f20" stroke-width="0.55" />
<line x1="197.50" y1="605.50" x2="197.50" y2="602.50" stroke="#231f20" stroke-width="0.8" />
<line x1="196.48" y1="602.50" x2="199.48" y2="602.50" stroke="#231f20" stroke-width="0.8" />
<rect x="200.68" y="612.00" width="3.50" height="8.00" fill="#1c5a97" stroke="#231f20" stroke-width="0.55" />
<line x1="202.50" y1="612.00" x2="202.50" y2="611.00" stroke="#231f20" stroke-width="0.8" />
<line x1="200.93" y1="611.50" x2="203.93" y2="611.50" stroke="#231f20" stroke-width="0.8" />
<rect x="196.48" y="605.80" width="3.00" height="3.00" fill="#6e0d1a" stroke="none" stroke-width="0.6" fill-opacity="0.8"/>
<rect x="200.98" y="612.30" width="2.90" height="1.00" fill="#0d2a4e" stroke="none" stroke-width="0.6" fill-opacity="0.7"/>
<line x1="200.18" y1="620.00" x2="200.18" y2="622.00" stroke="#231f20" stroke-width="0.6" />
<line x1="197.98" y1="601.30" x2="202.78" y2="601.30" stroke="#231f20" stroke-width="0.5" />
<line x1="202.78" y1="601.30" x2="202.78" y2="602.50" stroke="#231f20" stroke-width="0.5" />
<path d="M200.38,598.45 L200.38,600.15 M199.64,598.88 L201.12,599.72 M201.12,598.88 L199.64,599.72 " fill="none" stroke="#2a2a2a" stroke-width="0.6" />
<text x="201.58" y="627.00" font-size="7.1" fill="#231f20" text-anchor="end" transform="rotate(-45 201.58 627.00)" >Card19</text>
<rect x="207.60" y="611.25" width="3.60" height="8.75" fill="#d3213b" stroke="#231f20" stroke-width="0.55" />
<line x1="209.50" y1="611.25" x2="209.50" y2="608.25" stroke="#231f20" stroke-width="0.8" />
<line x1="207.90" y1="608.50" x2="210.90" y2="608.50" stroke="#231f20" stroke-width="0.8" />
<rect x="212.10" y="613.00" width="3.50" height="7.00" fill="#1c5a97" stroke="#231f20" stroke-width="0.55" />
<line x1="213.50" y1="613.00" x2="213.50" y2="610.00" stroke="#231f20" stroke-width="0.8" />
<line x1="212.35" y1="610.50" x2="215.35" y2="610.50" stroke="#231f20" stroke-width="0.8" />
<rect x="207.90" y="611.55" width="3.00" height="3.00" fill="#6e0d1a" stroke="none" stroke-width="0.6" fill-opacity="0.8"/>
<rect x="212.40" y="613.30" width="2.90" height="3.00" fill="#0d2a4e" stroke="none" stroke-width="0.6" fill-opacity="0.7"/>
<line x1="211.60" y1="620.00" x2="211.60" y2="622.00" stroke="#231f20" stroke-width="0.6" />
<line x1="209.40" y1="607.05" x2="214.20" y2="607.05" stroke="#231f20" stroke-width="0.5" />
<line x1="214.20" y1="607.05" x2="214.20" y2="608.25" stroke="#231f20" stroke-width="0.5" />
<text x="212.00" y="606.25" font-size="4.6" fill="#231f20" text-anchor="middle" >NS</text>
<text x="213.00" y="627.00" font-size="7.1" fill="#231f20" text-anchor="end" transform="rotate(-45 213.00 627.00)" >Gar1</text>
<rect x="219.02" y="593.25" width="3.60" height="26.75" fill="#d3213b" stroke="#231f20" stroke-width="0.55" />
<line x1="220.50" y1="593.25" x2="220.50" y2="591.25" stroke="#231f20" stroke-width="0.8" />
<line x1="219.32" y1="591.50" x2="222.32" y2="591.50" stroke="#231f20" stroke-width="0.8" />
<rect x="223.52" y="604.25" width="3.50" height="15.75" fill="#1c5a97" stroke="#231f20" stroke-width="0.55" />
<line x1="225.50" y1="604.25" x2="225.50" y2="602.75" stroke="#231f20" stroke-width="0.8" />
<line x1="223.77" y1="602.50" x2="226.77" y2="602.50" stroke="#231f20" stroke-width="0.8" />
<rect x="219.32" y="593.55" width="3.00" height="2.00" fill="#6e0d1a" stroke="none" stroke-width="0.6" fill-opacity="0.8"/>
<rect x="223.82" y="604.55" width="2.90" height="1.50" fill="#0d2a4e" stroke="none" stroke-width="0.6" fill-opacity="0.7"/>
<line x1="223.02" y1="620.00" x2="223.02" y2="622.00" stroke="#231f20" stroke-width="0.6" />
<line x1="220.82" y1="590.05" x2="225.62" y2="590.05" stroke="#231f20" stroke-width="0.5" />
<line x1="225.62" y1="590.05" x2="225.62" y2="591.25" stroke="#231f20" stroke-width="0.5" />
<path d="M222.07,587.20 L222.07,588.90 M221.33,587.62 L222.81,588.47 M222.81,587.62 L221.33,588.47 " fill="none" stroke="#2a2a2a" stroke-width="0.6" />
<path d="M224.37,587.20 L224.37,588.90 M223.63,587.62 L225.11,588.47 M225.11,587.62 L223.63,588.47 " fill="none" stroke="#2a2a2a" stroke-width="0.6" />
<text x="224.42" y="627.00" font-size="7.1" fill="#231f20" text-anchor="end" transform="rotate(-45 224.42 627.00)" >Tnfrsf12a</text>
<rect x="179.30" y="553.10" width="7.40" height="4.40" fill="#d3213b" stroke="#1a1a1a" stroke-width="0.8" />
<rect x="179.30" y="561.10" width="7.40" height="4.00" fill="#1c5a97" stroke="#1a1a1a" stroke-width="0.8" />
<text x="189.00" y="557.90" font-size="6.5" fill="#231f20" >AZI-G</text>
<text x="189.00" y="565.50" font-size="6.5" fill="#231f20" >AZI-TC</text>
<text x="337.20" y="290.70" font-size="11.6" fill="#000" font-weight="bold" >I</text>
<line x1="356.50" y1="290.70" x2="356.50" y2="329.20" stroke="#231f20" stroke-width="1.0" />
<line x1="356.50" y1="333.30" x2="356.50" y2="369.30" stroke="#231f20" stroke-width="1.0" />
<line x1="354.80" y1="328.50" x2="356.80" y2="328.50" stroke="#231f20" stroke-width="1.0" />
<text x="353.80" y="331.20" font-size="6.8" fill="#4a4a4a" text-anchor="end" >10</text>
<line x1="354.80" y1="316.50" x2="356.80" y2="316.50" stroke="#231f20" stroke-width="1.0" />
<text x="353.80" y="318.70" font-size="6.8" fill="#4a4a4a" text-anchor="end" >20</text>
<line x1="354.80" y1="303.50" x2="356.80" y2="303.50" stroke="#231f20" stroke-width="1.0" />
<text x="353.80" y="306.20" font-size="6.8" fill="#4a4a4a" text-anchor="end" >30</text>
<line x1="354.80" y1="291.50" x2="356.80" y2="291.50" stroke="#231f20" stroke-width="1.0" />
<text x="353.80" y="293.70" font-size="6.8" fill="#4a4a4a" text-anchor="end" >40</text>
<line x1="354.80" y1="351.50" x2="356.80" y2="351.50" stroke="#231f20" stroke-width="1.0" />
<text x="353.80" y="353.55" font-size="6.8" fill="#4a4a4a" text-anchor="end" >5</text>
<line x1="354.80" y1="333.50" x2="356.80" y2="333.50" stroke="#231f20" stroke-width="1.0" />
<text x="353.80" y="335.70" font-size="6.8" fill="#4a4a4a" text-anchor="end" >10</text>
<line x1="354.80" y1="369.50" x2="356.80" y2="369.50" stroke="#231f20" stroke-width="1.0" />
<text x="353.80" y="371.70" font-size="6.8" fill="#4a4a4a" text-anchor="end" >0</text>
<line x1="356.80" y1="369.50" x2="473.50" y2="369.50" stroke="#231f20" stroke-width="1.0" />
<text x="343.9" y="328.5" font-size="7" fill="#231f20" text-anchor="middle" transform="rotate(-90 343.9 328.5)" textLength="53" lengthAdjust="spacingAndGlyphs">CFU/800 c-Kit<tspan dy="-2.2" font-size="4.2">+</tspan><tspan dy="2.2"> cells</tspan></text>
<rect x="359.80" y="304.40" width="4.80" height="64.90" fill="#d3213b" stroke="#231f20" stroke-width="0.55" />
<line x1="362.50" y1="304.40" x2="362.50" y2="301.90" stroke="#231f20" stroke-width="0.8" />
<line x1="360.70" y1="301.50" x2="363.70" y2="301.50" stroke="#231f20" stroke-width="0.8" />
<line x1="362.20" y1="304.40" x2="362.20" y2="343.34" stroke="#231f20" stroke-width="0.4" />
<rect x="366.20" y="328.00" width="4.60" height="41.30" fill="#1c5a97" stroke="#231f20" stroke-width="0.55" />
<line x1="368.50" y1="328.00" x2="368.50" y2="325.00" stroke="#231f20" stroke-width="0.8" />
<line x1="367.00" y1="325.50" x2="370.00" y2="325.50" stroke="#231f20" stroke-width="0.8" />
<line x1="368.50" y1="328.00" x2="368.50" y2="352.78" stroke="#231f20" stroke-width="0.4" />
<rect x="372.30" y="324.60" width="4.40" height="44.70" fill="#3fba4f" stroke="#231f20" stroke-width="0.55" />
<line x1="374.50" y1="324.60" x2="374.50" y2="322.60" stroke="#231f20" stroke-width="0.8" />
<line x1="373.00" y1="322.50" x2="376.00" y2="322.50" stroke="#231f20" stroke-width="0.8" />
<line x1="374.50" y1="324.60" x2="374.50" y2="351.42" stroke="#231f20" stroke-width="0.4" />
<rect x="378.50" y="337.70" width="4.50" height="31.60" fill="#5c2a88" stroke="#231f20" stroke-width="0.55" />
<line x1="380.50" y1="337.70" x2="380.50" y2="329.70" stroke="#231f20" stroke-width="0.8" />
<line x1="379.25" y1="329.50" x2="382.25" y2="329.50" stroke="#231f20" stroke-width="0.8" />
<line x1="380.75" y1="337.70" x2="380.75" y2="356.66" stroke="#231f20" stroke-width="0.4" />
<rect x="389.00" y="344.40" width="4.50" height="24.90" fill="#d3213b" stroke="#231f20" stroke-width="0.55" />
<line x1="391.50" y1="344.40" x2="391.50" y2="340.40" stroke="#231f20" stroke-width="0.8" />
<line x1="389.75" y1="340.50" x2="392.75" y2="340.50" stroke="#231f20" stroke-width="0.8" />
<line x1="391.25" y1="344.40" x2="391.25" y2="359.34" stroke="#231f20" stroke-width="0.4" />
<rect x="395.40" y="358.50" width="4.20" height="10.80" fill="#1c5a97" stroke="#231f20" stroke-width="0.55" />
<line x1="397.50" y1="358.50" x2="397.50" y2="355.50" stroke="#231f20" stroke-width="0.8" />
<line x1="396.00" y1="355.50" x2="399.00" y2="355.50" stroke="#231f20" stroke-width="0.8" />
<line x1="397.50" y1="358.50" x2="397.50" y2="364.98" stroke="#231f20" stroke-width="0.4" />
<rect x="401.50" y="359.20" width="4.10" height="10.10" fill="#3fba4f" stroke="#231f20" stroke-width="0.55" />
<line x1="403.50" y1="359.20" x2="403.50" y2="353.20" stroke="#231f20" stroke-width="0.8" />
<line x1="402.05" y1="353.50" x2="405.05" y2="353.50" stroke="#231f20" stroke-width="0.8" />
<line x1="403.55" y1="359.20" x2="403.55" y2="365.26" stroke="#231f20" stroke-width="0.4" />
<rect x="407.90" y="363.00" width="4.20" height="6.30" fill="#5c2a88" stroke="#231f20" stroke-width="0.55" />
<line x1="410.50" y1="363.00" x2="410.50" y2="361.00" stroke="#231f20" stroke-width="0.8" />
<line x1="408.50" y1="361.50" x2="411.50" y2="361.50" stroke="#231f20" stroke-width="0.8" />
<line x1="410.00" y1="363.00" x2="410.00" y2="366.78" stroke="#231f20" stroke-width="0.4" />
<rect x="418.00" y="315.50" width="4.70" height="53.80" fill="#d3213b" stroke="#231f20" stroke-width="0.55" />
<line x1="420.50" y1="315.50" x2="420.50" y2="312.50" stroke="#231f20" stroke-width="0.8" />
<line x1="418.85" y1="312.50" x2="421.85" y2="312.50" stroke="#231f20" stroke-width="0.8" />
<line x1="420.35" y1="315.50" x2="420.35" y2="347.78" stroke="#231f20" stroke-width="0.4" />
<rect x="424.40" y="341.00" width="4.60" height="28.30" fill="#1c5a97" stroke="#231f20" stroke-width="0.55" />
<line x1="426.50" y1="341.00" x2="426.50" y2="328.00" stroke="#231f20" stroke-width="0.8" />
<line x1="425.20" y1="328.50" x2="428.20" y2="328.50" stroke="#231f20" stroke-width="0.8" />
<line x1="426.70" y1="341.00" x2="426.70" y2="357.98" stroke="#231f20" stroke-width="0.4" />
<rect x="430.70" y="328.70" width="4.70" height="40.60" fill="#3fba4f" stroke="#231f20" stroke-width="0.55" />
<line x1="433.50" y1="328.70" x2="433.50" y2="326.70" stroke="#231f20" stroke-width="0.8" />
<line x1="431.55" y1="326.50" x2="434.55" y2="326.50" stroke="#231f20" stroke-width="0.8" />
<line x1="433.05" y1="328.70" x2="433.05" y2="353.06" stroke="#231f20" stroke-width="0.4" />
<rect x="437.00" y="344.10" width="4.70" height="25.20" fill="#5c2a88" stroke="#231f20" stroke-width="0.55" />
<line x1="439.50" y1="344.10" x2="439.50" y2="340.10" stroke="#231f20" stroke-width="0.8" />
<line x1="437.85" y1="340.50" x2="440.85" y2="340.50" stroke="#231f20" stroke-width="0.8" />
<line x1="439.35" y1="344.10" x2="439.35" y2="359.22" stroke="#231f20" stroke-width="0.4" />
<rect x="447.40" y="363.10" width="4.30" height="6.20" fill="#d3213b" stroke="#231f20" stroke-width="0.55" />
<line x1="449.50" y1="363.10" x2="449.50" y2="361.60" stroke="#231f20" stroke-width="0.8" />
<line x1="448.05" y1="361.50" x2="451.05" y2="361.50" stroke="#231f20" stroke-width="0.8" />
<line x1="449.55" y1="363.10" x2="449.55" y2="366.82" stroke="#231f20" stroke-width="0.4" />
<rect x="453.00" y="368.50" width="4.30" height="0.80" fill="#1c5a97" stroke="#231f20" stroke-width="0.55" />
<line x1="455.50" y1="368.50" x2="455.50" y2="368.10" stroke="#231f20" stroke-width="0.8" />
<line x1="453.65" y1="368.50" x2="456.65" y2="368.50" stroke="#231f20" stroke-width="0.8" />
<line x1="455.15" y1="368.50" x2="455.15" y2="368.98" stroke="#231f20" stroke-width="0.4" />
<rect x="459.00" y="368.30" width="4.30" height="1.00" fill="#3fba4f" stroke="#231f20" stroke-width="0.55" />
<line x1="461.50" y1="368.30" x2="461.50" y2="367.80" stroke="#231f20" stroke-width="0.8" />
<line x1="459.65" y1="367.50" x2="462.65" y2="367.50" stroke="#231f20" stroke-width="0.8" />
<line x1="461.15" y1="368.30" x2="461.15" y2="368.90" stroke="#231f20" stroke-width="0.4" />
<rect x="465.00" y="368.80" width="4.30" height="0.50" fill="#5c2a88" stroke="#231f20" stroke-width="0.55" />
<line x1="467.50" y1="368.80" x2="467.50" y2="368.50" stroke="#231f20" stroke-width="0.8" />
<line x1="465.65" y1="368.50" x2="468.65" y2="368.50" stroke="#231f20" stroke-width="0.8" />
<line x1="467.15" y1="368.80" x2="467.15" y2="369.10" stroke="#231f20" stroke-width="0.4" />
<line x1="361.00" y1="298.50" x2="370.20" y2="298.50" stroke="#231f20" stroke-width="0.9" />
<text x="365.60" y="297.20" font-size="4.4" fill="#231f20" text-anchor="middle" >NS</text>
<line x1="373.10" y1="322.50" x2="381.20" y2="322.50" stroke="#231f20" stroke-width="0.6" />
<path d="M377.15,319.55 L377.15,321.25 M376.41,319.97 L377.89,320.82 M377.89,319.97 L376.41,320.82 " fill="none" stroke="#2a2a2a" stroke-width="0.75" />
<line x1="389.60" y1="337.10" x2="396.90" y2="337.10" stroke="#231f20" stroke-width="0.6" />
<path d="M393.25,334.15 L393.25,335.85 M392.51,334.57 L393.99,335.43 M393.99,334.57 L392.51,335.43 " fill="none" stroke="#2a2a2a" stroke-width="0.75" />
<line x1="403.00" y1="349.50" x2="409.60" y2="349.50" stroke="#231f20" stroke-width="0.9" />
<text x="406.30" y="349.10" font-size="4.4" fill="#231f20" text-anchor="middle" >NS</text>
<line x1="419.50" y1="311.50" x2="426.80" y2="311.50" stroke="#231f20" stroke-width="0.6" />
<path d="M421.95,308.55 L421.95,310.25 M421.21,308.97 L422.69,309.82 M422.69,308.97 L421.21,309.82 " fill="none" stroke="#2a2a2a" stroke-width="0.75" />
<path d="M424.35,308.55 L424.35,310.25 M423.61,308.97 L425.09,309.82 M425.09,308.97 L423.61,309.82 " fill="none" stroke="#2a2a2a" stroke-width="0.75" />
<line x1="433.00" y1="323.20" x2="439.60" y2="323.20" stroke="#231f20" stroke-width="0.6" />
<path d="M435.10,320.25 L435.10,321.95 M434.36,320.67 L435.84,321.52 M435.84,320.67 L434.36,321.52 " fill="none" stroke="#2a2a2a" stroke-width="0.75" />
<path d="M437.50,320.25 L437.50,321.95 M436.76,320.67 L438.24,321.52 M438.24,320.67 L436.76,321.52 " fill="none" stroke="#2a2a2a" stroke-width="0.75" />
<line x1="452.40" y1="360.90" x2="456.80" y2="360.90" stroke="#231f20" stroke-width="0.6" />
<path d="M454.60,357.95 L454.60,359.65 M453.86,358.37 L455.34,359.22 M455.34,358.37 L453.86,359.22 " fill="none" stroke="#2a2a2a" stroke-width="0.75" />
<line x1="461.50" y1="363.50" x2="467.70" y2="363.50" stroke="#231f20" stroke-width="0.9" />
<text x="464.60" y="363.00" font-size="4.4" fill="#231f20" text-anchor="middle" >NS</text>
<text x="364.70" y="322.30" font-size="4.4" fill="#e0465a" >−2.7X</text>
<text x="379.30" y="327.00" font-size="4.4" fill="#e0465a" >−1.5X</text>
<text x="394.00" y="353.70" font-size="4.4" fill="#e0465a" >−2.3X</text>
<text x="409.60" y="357.00" font-size="4.4" fill="#e0465a" >−1.6X</text>
<text x="424.30" y="325.90" font-size="4.4" fill="#e0465a" >−2.6X</text>
<text x="438.90" y="334.30" font-size="4.4" fill="#e0465a" >−1.5X</text>
<text x="454.20" y="367.20" font-size="4.4" fill="#e0465a" >−2X</text>
<text x="465.90" y="367.20" font-size="4.4" fill="#e0465a" >−1X</text>
<text x="371.50" y="379.20" font-size="8.2" fill="#231f20" text-anchor="middle" >Total</text>
<line x1="371.50" y1="369.30" x2="371.50" y2="371.10" stroke="#231f20" stroke-width="0.6" />
<text x="401.20" y="379.20" font-size="8.2" fill="#231f20" text-anchor="middle" >Mix</text>
<line x1="401.20" y1="369.30" x2="401.20" y2="371.10" stroke="#231f20" stroke-width="0.6" />
<text x="429.70" y="379.20" font-size="8.2" fill="#231f20" text-anchor="middle" >GM</text>
<line x1="429.70" y1="369.30" x2="429.70" y2="371.10" stroke="#231f20" stroke-width="0.6" />
<text x="459.30" y="379.20" font-size="8.2" fill="#231f20" text-anchor="middle" >E</text>
<line x1="459.30" y1="369.30" x2="459.30" y2="371.10" stroke="#231f20" stroke-width="0.6" />
<rect x="451.30" y="289.60" width="5.70" height="4.60" fill="#d3213b" stroke="#1a1a1a" stroke-width="0.8" />
<rect x="451.30" y="296.05" width="5.70" height="4.60" fill="#1c5a97" stroke="#1a1a1a" stroke-width="0.8" />
<rect x="451.30" y="302.50" width="5.70" height="4.60" fill="#3fba4f" stroke="#1a1a1a" stroke-width="0.8" />
<rect x="451.30" y="308.95" width="5.70" height="4.60" fill="#5c2a88" stroke="#1a1a1a" stroke-width="0.8" />
<text x="459.30" y="294.30" font-size="6.6" fill="#3a3a3a" ><tspan font-style="italic">Azin1</tspan>-G</text>
<text x="459.30" y="300.75" font-size="6.6" fill="#3a3a3a" textLength="48.6" lengthAdjust="spacingAndGlyphs" ><tspan font-style="italic">Azin1</tspan>-G-<tspan font-style="italic">Plaur</tspan>-KD</text>
<text x="459.30" y="307.20" font-size="6.6" fill="#3a3a3a" ><tspan font-style="italic">Azin1</tspan>-TC</text>
<text x="459.30" y="313.65" font-size="6.6" fill="#3a3a3a" textLength="51.4" lengthAdjust="spacingAndGlyphs" ><tspan font-style="italic">Azin1</tspan>-TC-<tspan font-style="italic">Plaur</tspan>-KD</text>
<text x="337.00" y="400.80" font-size="11.6" fill="#000" font-weight="bold" >J</text>
<line x1="353.50" y1="409.20" x2="353.50" y2="446.80" stroke="#231f20" stroke-width="1.0" />
<line x1="353.50" y1="451.30" x2="353.50" y2="486.50" stroke="#231f20" stroke-width="1.0" />
<line x1="351.10" y1="446.50" x2="353.10" y2="446.50" stroke="#231f20" stroke-width="1.0" />
<text x="350.80" y="449.20" font-size="6.6" fill="#4a4a4a" text-anchor="end" >10</text>
<line x1="351.10" y1="437.50" x2="353.10" y2="437.50" stroke="#231f20" stroke-width="1.0" />
<text x="350.80" y="439.77" font-size="6.6" fill="#4a4a4a" text-anchor="end" >20</text>
<line x1="351.10" y1="428.50" x2="353.10" y2="428.50" stroke="#231f20" stroke-width="1.0" />
<text x="350.80" y="430.35" font-size="6.6" fill="#4a4a4a" text-anchor="end" >30</text>
<line x1="351.10" y1="418.50" x2="353.10" y2="418.50" stroke="#231f20" stroke-width="1.0" />
<text x="350.80" y="420.93" font-size="6.6" fill="#4a4a4a" text-anchor="end" >40</text>
<line x1="351.10" y1="409.50" x2="353.10" y2="409.50" stroke="#231f20" stroke-width="1.0" />
<text x="350.80" y="411.50" font-size="6.6" fill="#4a4a4a" text-anchor="end" >50</text>
<line x1="351.10" y1="486.50" x2="353.10" y2="486.50" stroke="#231f20" stroke-width="1.0" />
<text x="350.80" y="488.80" font-size="6.6" fill="#4a4a4a" text-anchor="end" >0</text>
<line x1="351.10" y1="468.50" x2="353.10" y2="468.50" stroke="#231f20" stroke-width="1.0" />
<text x="350.80" y="471.20" font-size="6.6" fill="#4a4a4a" text-anchor="end" >5</text>
<line x1="351.10" y1="451.50" x2="353.10" y2="451.50" stroke="#231f20" stroke-width="1.0" />
<text x="350.80" y="453.60" font-size="6.6" fill="#4a4a4a" text-anchor="end" >10</text>
<line x1="353.10" y1="486.50" x2="499.40" y2="486.50" stroke="#231f20" stroke-width="1.0" />
<text x="339" y="446.6" font-size="6.6" fill="#231f20" text-anchor="middle" transform="rotate(-90 339 446.6)" textLength="49" lengthAdjust="spacingAndGlyphs">CFU/800 c-Kit<tspan dy="-2.2" font-size="4">+</tspan><tspan dy="2.2"> cells</tspan></text>
<rect x="356.00" y="436.90" width="3.70" height="49.60" fill="#d3213b" stroke="#231f20" stroke-width="0.55" />
<line x1="357.50" y1="436.90" x2="357.50" y2="435.40" stroke="#231f20" stroke-width="0.8" />
<line x1="356.35" y1="435.50" x2="359.35" y2="435.50" stroke="#231f20" stroke-width="0.8" />
<line x1="357.85" y1="436.90" x2="357.85" y2="461.70" stroke="#231f20" stroke-width="0.4" />
<rect x="361.60" y="429.20" width="3.70" height="57.30" fill="#1c5a97" stroke="#231f20" stroke-width="0.55" />
<line x1="363.50" y1="429.20" x2="363.50" y2="426.20" stroke="#231f20" stroke-width="0.8" />
<line x1="361.95" y1="426.50" x2="364.95" y2="426.50" stroke="#231f20" stroke-width="0.8" />
<line x1="363.45" y1="429.20" x2="363.45" y2="457.85" stroke="#231f20" stroke-width="0.4" />
<rect x="367.20" y="429.20" width="3.70" height="57.30" fill="#3fba4f" stroke="#231f20" stroke-width="0.55" />
<line x1="369.50" y1="429.20" x2="369.50" y2="426.20" stroke="#231f20" stroke-width="0.8" />
<line x1="367.55" y1="426.50" x2="370.55" y2="426.50" stroke="#231f20" stroke-width="0.8" />
<line x1="369.05" y1="429.20" x2="369.05" y2="457.85" stroke="#231f20" stroke-width="0.4" />
<rect x="372.80" y="421.00" width="3.70" height="65.50" fill="#5c2a88" stroke="#231f20" stroke-width="0.55" />
<line x1="374.50" y1="421.00" x2="374.50" y2="417.00" stroke="#231f20" stroke-width="0.8" />
<line x1="373.15" y1="417.50" x2="376.15" y2="417.50" stroke="#231f20" stroke-width="0.8" />
<line x1="374.65" y1="421.00" x2="374.65" y2="453.75" stroke="#231f20" stroke-width="0.4" />
<rect x="378.40" y="442.70" width="3.70" height="43.80" fill="#f5a623" stroke="#231f20" stroke-width="0.55" />
<line x1="380.50" y1="442.70" x2="380.50" y2="439.70" stroke="#231f20" stroke-width="0.8" />
<line x1="378.75" y1="439.50" x2="381.75" y2="439.50" stroke="#231f20" stroke-width="0.8" />
<line x1="380.25" y1="442.70" x2="380.25" y2="464.60" stroke="#231f20" stroke-width="0.4" />
<rect x="384.00" y="424.80" width="3.70" height="61.70" fill="#1c7a5a" stroke="#231f20" stroke-width="0.55" />
<line x1="385.50" y1="424.80" x2="385.50" y2="421.80" stroke="#231f20" stroke-width="0.8" />
<line x1="384.35" y1="421.50" x2="387.35" y2="421.50" stroke="#231f20" stroke-width="0.8" />
<line x1="385.85" y1="424.80" x2="385.85" y2="455.65" stroke="#231f20" stroke-width="0.4" />
<rect x="392.10" y="472.50" width="3.70" height="14.00" fill="#d3213b" stroke="#231f20" stroke-width="0.55" />
<line x1="393.50" y1="472.50" x2="393.50" y2="469.50" stroke="#231f20" stroke-width="0.8" />
<line x1="392.45" y1="469.50" x2="395.45" y2="469.50" stroke="#231f20" stroke-width="0.8" />
<line x1="393.95" y1="472.50" x2="393.95" y2="479.50" stroke="#231f20" stroke-width="0.4" />
<rect x="397.70" y="464.40" width="3.70" height="22.10" fill="#1c5a97" stroke="#231f20" stroke-width="0.55" />
<line x1="399.50" y1="464.40" x2="399.50" y2="460.40" stroke="#231f20" stroke-width="0.8" />
<line x1="398.05" y1="460.50" x2="401.05" y2="460.50" stroke="#231f20" stroke-width="0.8" />
<line x1="399.55" y1="464.40" x2="399.55" y2="475.45" stroke="#231f20" stroke-width="0.4" />
<rect x="403.30" y="463.50" width="3.70" height="23.00" fill="#3fba4f" stroke="#231f20" stroke-width="0.55" />
<line x1="405.50" y1="463.50" x2="405.50" y2="460.50" stroke="#231f20" stroke-width="0.8" />
<line x1="403.65" y1="460.50" x2="406.65" y2="460.50" stroke="#231f20" stroke-width="0.8" />
<line x1="405.15" y1="463.50" x2="405.15" y2="475.00" stroke="#231f20" stroke-width="0.4" />
<rect x="408.90" y="446.20" width="3.70" height="40.30" fill="#5c2a88" stroke="#231f20" stroke-width="0.55" />
<line x1="410.50" y1="446.20" x2="410.50" y2="443.20" stroke="#231f20" stroke-width="0.8" />
<line x1="409.25" y1="443.50" x2="412.25" y2="443.50" stroke="#231f20" stroke-width="0.8" />
<line x1="410.75" y1="446.20" x2="410.75" y2="466.35" stroke="#231f20" stroke-width="0.4" />
<rect x="414.50" y="477.00" width="3.70" height="9.50" fill="#f5a623" stroke="#231f20" stroke-width="0.55" />
<line x1="416.50" y1="477.00" x2="416.50" y2="471.00" stroke="#231f20" stroke-width="0.8" />
<line x1="414.85" y1="471.50" x2="417.85" y2="471.50" stroke="#231f20" stroke-width="0.8" />
<line x1="416.35" y1="477.00" x2="416.35" y2="481.75" stroke="#231f20" stroke-width="0.4" />
<rect x="420.10" y="452.90" width="3.70" height="33.60" fill="#1c7a5a" stroke="#231f20" stroke-width="0.55" />
<line x1="421.50" y1="452.90" x2="421.50" y2="448.90" stroke="#231f20" stroke-width="0.8" />
<line x1="420.45" y1="448.50" x2="423.45" y2="448.50" stroke="#231f20" stroke-width="0.8" />
<line x1="421.95" y1="452.90" x2="421.95" y2="469.70" stroke="#231f20" stroke-width="0.4" />
<rect x="429.00" y="442.10" width="3.70" height="44.40" fill="#d3213b" stroke="#231f20" stroke-width="0.55" />
<line x1="430.50" y1="442.10" x2="430.50" y2="440.10" stroke="#231f20" stroke-width="0.8" />
<line x1="429.35" y1="440.50" x2="432.35" y2="440.50" stroke="#231f20" stroke-width="0.8" />
<line x1="430.85" y1="442.10" x2="430.85" y2="464.30" stroke="#231f20" stroke-width="0.4" />
<rect x="434.60" y="436.90" width="3.70" height="49.60" fill="#1c5a97" stroke="#231f20" stroke-width="0.55" />
<line x1="436.50" y1="436.90" x2="436.50" y2="434.90" stroke="#231f20" stroke-width="0.8" />
<line x1="434.95" y1="434.50" x2="437.95" y2="434.50" stroke="#231f20" stroke-width="0.8" />
<line x1="436.45" y1="436.90" x2="436.45" y2="461.70" stroke="#231f20" stroke-width="0.4" />
<rect x="440.20" y="436.90" width="3.70" height="49.60" fill="#3fba4f" stroke="#231f20" stroke-width="0.55" />
<line x1="442.50" y1="436.90" x2="442.50" y2="433.90" stroke="#231f20" stroke-width="0.8" />
<line x1="440.55" y1="433.50" x2="443.55" y2="433.50" stroke="#231f20" stroke-width="0.8" />
<line x1="442.05" y1="436.90" x2="442.05" y2="461.70" stroke="#231f20" stroke-width="0.4" />
<rect x="445.80" y="433.50" width="3.70" height="53.00" fill="#5c2a88" stroke="#231f20" stroke-width="0.55" />
<line x1="447.50" y1="433.50" x2="447.50" y2="431.50" stroke="#231f20" stroke-width="0.8" />
<line x1="446.15" y1="431.50" x2="449.15" y2="431.50" stroke="#231f20" stroke-width="0.8" />
<line x1="447.65" y1="433.50" x2="447.65" y2="460.00" stroke="#231f20" stroke-width="0.4" />
<rect x="451.40" y="446.50" width="3.70" height="40.00" fill="#f5a623" stroke="#231f20" stroke-width="0.55" />
<line x1="453.50" y1="446.50" x2="453.50" y2="442.50" stroke="#231f20" stroke-width="0.8" />
<line x1="451.75" y1="442.50" x2="454.75" y2="442.50" stroke="#231f20" stroke-width="0.8" />
<line x1="453.25" y1="446.50" x2="453.25" y2="466.50" stroke="#231f20" stroke-width="0.4" />
<rect x="457.00" y="436.00" width="3.70" height="50.50" fill="#1c7a5a" stroke="#231f20" stroke-width="0.55" />
<line x1="458.50" y1="436.00" x2="458.50" y2="433.00" stroke="#231f20" stroke-width="0.8" />
<line x1="457.35" y1="433.50" x2="460.35" y2="433.50" stroke="#231f20" stroke-width="0.8" />
<line x1="458.85" y1="436.00" x2="458.85" y2="461.25" stroke="#231f20" stroke-width="0.4" />
<rect x="465.60" y="482.10" width="3.70" height="4.40" fill="#d3213b" stroke="#231f20" stroke-width="0.55" />
<line x1="467.50" y1="482.10" x2="467.50" y2="480.10" stroke="#231f20" stroke-width="0.8" />
<line x1="465.95" y1="480.50" x2="468.95" y2="480.50" stroke="#231f20" stroke-width="0.8" />
<line x1="467.45" y1="482.10" x2="467.45" y2="484.30" stroke="#231f20" stroke-width="0.4" />
<rect x="471.20" y="479.80" width="3.70" height="6.70" fill="#1c5a97" stroke="#231f20" stroke-width="0.55" />
<line x1="473.50" y1="479.80" x2="473.50" y2="474.80" stroke="#231f20" stroke-width="0.8" />
<line x1="471.55" y1="474.50" x2="474.55" y2="474.50" stroke="#231f20" stroke-width="0.8" />
<line x1="473.05" y1="479.80" x2="473.05" y2="483.15" stroke="#231f20" stroke-width="0.4" />
<rect x="476.80" y="482.10" width="3.70" height="4.40" fill="#3fba4f" stroke="#231f20" stroke-width="0.55" />
<line x1="478.50" y1="482.10" x2="478.50" y2="480.10" stroke="#231f20" stroke-width="0.8" />
<line x1="477.15" y1="480.50" x2="480.15" y2="480.50" stroke="#231f20" stroke-width="0.8" />
<line x1="478.65" y1="482.10" x2="478.65" y2="484.30" stroke="#231f20" stroke-width="0.4" />
<rect x="482.40" y="478.30" width="3.70" height="8.20" fill="#5c2a88" stroke="#231f20" stroke-width="0.55" />
<line x1="484.50" y1="478.30" x2="484.50" y2="474.30" stroke="#231f20" stroke-width="0.8" />
<line x1="482.75" y1="474.50" x2="485.75" y2="474.50" stroke="#231f20" stroke-width="0.8" />
<line x1="484.25" y1="478.30" x2="484.25" y2="482.40" stroke="#231f20" stroke-width="0.4" />
<rect x="488.00" y="484.00" width="3.70" height="2.50" fill="#f5a623" stroke="#231f20" stroke-width="0.55" />
<line x1="489.50" y1="484.00" x2="489.50" y2="483.00" stroke="#231f20" stroke-width="0.8" />
<line x1="488.35" y1="483.50" x2="491.35" y2="483.50" stroke="#231f20" stroke-width="0.8" />
<line x1="489.85" y1="484.00" x2="489.85" y2="485.25" stroke="#231f20" stroke-width="0.4" />
<rect x="493.60" y="479.20" width="3.70" height="7.30" fill="#1c7a5a" stroke="#231f20" stroke-width="0.55" />
<line x1="495.50" y1="479.20" x2="495.50" y2="475.20" stroke="#231f20" stroke-width="0.8" />
<line x1="493.95" y1="475.50" x2="496.95" y2="475.50" stroke="#231f20" stroke-width="0.8" />
<line x1="495.45" y1="479.20" x2="495.45" y2="482.85" stroke="#231f20" stroke-width="0.4" />
<line x1="358.00" y1="424.50" x2="363.50" y2="424.50" stroke="#231f20" stroke-width="0.6" />
<path d="M359.65,421.80 L359.65,423.40 M358.96,422.20 L360.34,423.00 M360.34,422.20 L358.96,423.00 " fill="none" stroke="#2a2a2a" stroke-width="0.75" />
<path d="M361.85,421.80 L361.85,423.40 M361.16,422.20 L362.54,423.00 M362.54,422.20 L361.16,423.00 " fill="none" stroke="#2a2a2a" stroke-width="0.75" />
<line x1="363.50" y1="413.50" x2="374.50" y2="413.50" stroke="#231f20" stroke-width="0.6" />
<path d="M367.90,410.80 L367.90,412.40 M367.21,411.20 L368.59,412.00 M368.59,411.20 L367.21,412.00 " fill="none" stroke="#2a2a2a" stroke-width="0.75" />
<path d="M370.10,410.80 L370.10,412.40 M369.41,411.20 L370.79,412.00 M370.79,411.20 L369.41,412.00 " fill="none" stroke="#2a2a2a" stroke-width="0.75" />
<line x1="369.00" y1="418.50" x2="374.50" y2="418.50" stroke="#231f20" stroke-width="0.6" />
<path d="M370.65,415.80 L370.65,417.40 M369.96,416.20 L371.34,417.00 M371.34,416.20 L369.96,417.00 " fill="none" stroke="#2a2a2a" stroke-width="0.75" />
<path d="M372.85,415.80 L372.85,417.40 M372.16,416.20 L373.54,417.00 M373.54,416.20 L372.16,417.00 " fill="none" stroke="#2a2a2a" stroke-width="0.75" />
<line x1="380.00" y1="420.00" x2="386.00" y2="420.00" stroke="#231f20" stroke-width="0.6" />
<path d="M380.80,417.30 L380.80,418.90 M380.11,417.70 L381.49,418.50 M381.49,417.70 L380.11,418.50 " fill="none" stroke="#2a2a2a" stroke-width="0.75" />
<path d="M383.00,417.30 L383.00,418.90 M382.31,417.70 L383.69,418.50 M383.69,417.70 L382.31,418.50 " fill="none" stroke="#2a2a2a" stroke-width="0.75" />
<path d="M385.20,417.30 L385.20,418.90 M384.51,417.70 L385.89,418.50 M385.89,417.70 L384.51,418.50 " fill="none" stroke="#2a2a2a" stroke-width="0.75" />
<line x1="394.00" y1="462.00" x2="399.50" y2="462.00" stroke="#231f20" stroke-width="0.6" />
<path d="M395.65,459.30 L395.65,460.90 M394.96,459.70 L396.34,460.50 M396.34,459.70 L394.96,460.50 " fill="none" stroke="#2a2a2a" stroke-width="0.75" />
<path d="M397.85,459.30 L397.85,460.90 M397.16,459.70 L398.54,460.50 M398.54,459.70 L397.16,460.50 " fill="none" stroke="#2a2a2a" stroke-width="0.75" />
<line x1="399.50" y1="437.00" x2="411.00" y2="437.00" stroke="#231f20" stroke-width="0.6" />
<path d="M404.15,434.30 L404.15,435.90 M403.46,434.70 L404.84,435.50 M404.84,434.70 L403.46,435.50 " fill="none" stroke="#2a2a2a" stroke-width="0.75" />
<path d="M406.35,434.30 L406.35,435.90 M405.66,434.70 L407.04,435.50 M407.04,434.70 L405.66,435.50 " fill="none" stroke="#2a2a2a" stroke-width="0.75" />
<line x1="405.50" y1="442.00" x2="411.00" y2="442.00" stroke="#231f20" stroke-width="0.6" />
<path d="M407.15,439.30 L407.15,440.90 M406.46,439.70 L407.84,440.50 M407.84,439.70 L406.46,440.50 " fill="none" stroke="#2a2a2a" stroke-width="0.75" />
<path d="M409.35,439.30 L409.35,440.90 M408.66,439.70 L410.04,440.50 M410.04,439.70 L408.66,440.50 " fill="none" stroke="#2a2a2a" stroke-width="0.75" />
<line x1="416.50" y1="446.00" x2="422.00" y2="446.00" stroke="#231f20" stroke-width="0.6" />
<path d="M417.05,443.30 L417.05,444.90 M416.36,443.70 L417.74,444.50 M417.74,443.70 L416.36,444.50 " fill="none" stroke="#2a2a2a" stroke-width="0.75" />
<path d="M419.25,443.30 L419.25,444.90 M418.56,443.70 L419.94,444.50 M419.94,443.70 L418.56,444.50 " fill="none" stroke="#2a2a2a" stroke-width="0.75" />
<path d="M421.45,443.30 L421.45,444.90 M420.76,443.70 L422.14,444.50 M422.14,443.70 L420.76,444.50 " fill="none" stroke="#2a2a2a" stroke-width="0.75" />
<line x1="431.00" y1="432.50" x2="436.50" y2="432.50" stroke="#231f20" stroke-width="0.6" />
<path d="M433.75,429.80 L433.75,431.40 M433.06,430.20 L434.44,431.00 M434.44,430.20 L433.06,431.00 " fill="none" stroke="#2a2a2a" stroke-width="0.75" />
<line x1="453.50" y1="430.50" x2="459.00" y2="430.50" stroke="#231f20" stroke-width="0.6" />
<path d="M455.15,427.80 L455.15,429.40 M454.46,428.20 L455.84,429.00 M455.84,428.20 L454.46,429.00 " fill="none" stroke="#2a2a2a" stroke-width="0.75" />
<path d="M457.35,427.80 L457.35,429.40 M456.66,428.20 L458.04,429.00 M458.04,428.20 L456.66,429.00 " fill="none" stroke="#2a2a2a" stroke-width="0.75" />
<line x1="489.40" y1="471.60" x2="495.20" y2="471.60" stroke="#231f20" stroke-width="0.6" />
<path d="M492.30,468.90 L492.30,470.50 M491.61,469.30 L492.99,470.10 M492.99,469.30 L491.61,470.10 " fill="none" stroke="#2a2a2a" stroke-width="0.75" />
<text x="371.00" y="497.00" font-size="8.2" fill="#231f20" text-anchor="middle" >Total</text>
<line x1="371.00" y1="486.50" x2="371.00" y2="488.30" stroke="#231f20" stroke-width="0.6" />
<text x="407.90" y="497.00" font-size="8.2" fill="#231f20" text-anchor="middle" >Mix</text>
<line x1="407.90" y1="486.50" x2="407.90" y2="488.30" stroke="#231f20" stroke-width="0.6" />
<text x="444.60" y="497.00" font-size="8.2" fill="#231f20" text-anchor="middle" >GM</text>
<line x1="444.60" y1="486.50" x2="444.60" y2="488.30" stroke="#231f20" stroke-width="0.6" />
<text x="481.50" y="497.00" font-size="8.2" fill="#231f20" text-anchor="middle" >E</text>
<line x1="481.50" y1="486.50" x2="481.50" y2="488.30" stroke="#231f20" stroke-width="0.6" />
<rect x="465.80" y="411.10" width="5.70" height="4.40" fill="#d3213b" stroke="#1a1a1a" stroke-width="0.8" />
<text x="473.50" y="415.50" font-size="6.4" fill="#3a3a3a" textLength="24.7" lengthAdjust="spacingAndGlyphs" >Empty-Ctrl</text>
<rect x="465.80" y="417.00" width="5.70" height="4.40" fill="#1c5a97" stroke="#1a1a1a" stroke-width="0.8" />
<text x="473.50" y="421.40" font-size="6.4" fill="#3a3a3a" textLength="21.1" lengthAdjust="spacingAndGlyphs" >OE-<tspan font-style="italic">Plaur</tspan></text>
<rect x="465.80" y="423.20" width="5.70" height="4.40" fill="#3fba4f" stroke="#1a1a1a" stroke-width="0.8" />
<text x="473.50" y="427.60" font-size="6.4" fill="#3a3a3a" textLength="18.4" lengthAdjust="spacingAndGlyphs" ><tspan font-style="italic">Azin1</tspan>-G</text>
<rect x="465.80" y="429.10" width="5.70" height="4.40" fill="#5c2a88" stroke="#1a1a1a" stroke-width="0.8" />
<text x="473.50" y="433.50" font-size="6.4" fill="#3a3a3a" textLength="40.9" lengthAdjust="spacingAndGlyphs" ><tspan font-style="italic">Azin1</tspan>-G-OE-<tspan font-style="italic">Plaur</tspan></text>
<rect x="465.80" y="435.10" width="5.70" height="4.40" fill="#f5a623" stroke="#1a1a1a" stroke-width="0.8" />
<text x="473.50" y="439.50" font-size="6.4" fill="#3a3a3a" textLength="21.0" lengthAdjust="spacingAndGlyphs" ><tspan font-style="italic">Azin1</tspan>-TC</text>
<rect x="465.80" y="441.50" width="5.70" height="4.40" fill="#1c7a5a" stroke="#1a1a1a" stroke-width="0.8" />
<text x="473.50" y="445.90" font-size="6.4" fill="#3a3a3a" textLength="43.6" lengthAdjust="spacingAndGlyphs" ><tspan font-style="italic">Azin1</tspan>-TC-OE-<tspan font-style="italic">Plaur</tspan></text>
<text x="230.00" y="529.20" font-size="11.6" fill="#000" font-weight="bold" >K</text>
<text x="306.50" y="528.70" font-size="9.3" fill="#f29a40" text-anchor="middle" textLength="100" lengthAdjust="spacingAndGlyphs" >Hematopoietic stem cells</text>
<text x="447.90" y="528.70" font-size="9.3" fill="#f29a40" text-anchor="middle" textLength="101" lengthAdjust="spacingAndGlyphs" >Hematopoietic stem cells</text>
<ellipse cx="305.6" cy="583.8" rx="56.2" ry="47.9" fill="#fbe9d7" stroke="#f6dcc4" stroke-width="0.6"/>
<ellipse cx="305" cy="596" rx="51.3" ry="34.8" fill="#f0d2df" stroke="#d6a6dc" stroke-width="1.1"/>
<ellipse cx="446.8" cy="583.8" rx="56.2" ry="47.9" fill="#fbe9d7" stroke="#f6dcc4" stroke-width="0.6"/>
<ellipse cx="445.7" cy="596" rx="51.3" ry="34.8" fill="#f0d2df" stroke="#d6a6dc" stroke-width="1.1"/>
<text x="267.80" y="566.50" font-size="6.0" fill="#e39a50" text-anchor="middle" textLength="24.5" lengthAdjust="spacingAndGlyphs" >Cytoplasm</text>
<text x="265.80" y="596.40" font-size="5.6" fill="#8a58b0" text-anchor="middle" textLength="18.5" lengthAdjust="spacingAndGlyphs" >Nucleus</text>
<text x="408.20" y="566.00" font-size="6.0" fill="#e39a50" text-anchor="middle" textLength="24.5" lengthAdjust="spacingAndGlyphs" >Cytoplasm</text>
<text x="406.80" y="595.80" font-size="5.6" fill="#8a58b0" text-anchor="middle" textLength="18.7" lengthAdjust="spacingAndGlyphs" >Nucleus</text>
<path d="M278.80,605.75 L279.40,605.98 L280.00,606.13 L280.60,606.20 L281.20,606.18 L281.80,606.09 L282.40,605.91 L283.00,605.66 L283.60,605.33 L284.20,604.94 L284.80,604.48 L285.40,603.97 L286.00,603.41 L286.60,602.81 L287.20,602.19 L287.80,601.54 L288.40,600.89 L289.00,600.24 L289.60,599.60 L290.20,598.98 L290.80,598.40 L291.40,597.86 L292.00,597.36 L292.60,596.92 L293.20,596.55 L293.80,596.25 L294.40,596.02 L295.00,595.87 L295.60,595.80 L296.20,595.82 L296.80,595.91 L297.40,596.09 L298.00,596.34 L298.60,596.67 L299.20,597.06 L299.80,597.52 L300.40,598.03 L301.00,598.59 L301.60,599.19 L302.20,599.81 L302.80,600.46 L303.40,601.11 L304.00,601.76 L304.60,602.40 L305.20,603.02 L305.80,603.60 L306.40,604.14 L307.00,604.64 L307.60,605.08 L308.20,605.45 L308.80,605.75 L309.40,605.98 L310.00,606.13 L310.60,606.20 L311.20,606.18 L311.80,606.09 L312.40,605.91 L313.00,605.66 L313.60,605.33 L314.20,604.94 L314.80,604.48 L315.40,603.97 L316.00,603.41 L316.60,602.81 L317.20,602.19 L317.80,601.54 L318.40,600.89 L319.00,600.24 L319.60,599.60 L320.20,598.98 L320.80,598.40 L321.40,597.86 L322.00,597.36 L322.60,596.92 L323.20,596.55 L323.80,596.25 L324.40,596.02 L325.00,595.87 L325.60,595.80 L326.20,595.82 L326.80,595.91 L327.40,596.09 L328.00,596.34 L328.60,596.67 L329.20,597.06 L329.80,597.52 L330.40,598.03 L331.00,598.59 L331.60,599.19 L332.20,599.81 L332.80,600.46 L333.40,601.11 L334.00,601.76 L334.60,602.40 L335.20,603.02 L335.80,603.60 L336.40,604.14 L337.00,604.64 L337.60,605.08 L338.20,605.45 L338.80,605.75 L339.40,605.98 L340.00,606.13 L340.60,606.20 L341.20,606.18 L341.80,606.09 L342.40,605.91 L343.00,605.66 L343.60,605.33 L344.20,604.94 L344.80,604.48 L345.40,603.97 L346.00,603.41 L346.60,602.81 L347.20,602.19 L347.80,601.54 L348.40,600.89 L349.00,600.24 L349.60,599.60" fill="none" stroke="#8e86d0" stroke-width="1.0" stroke-linecap="round"/>
<path d="M271.90,606.30 L272.50,606.26 L273.10,606.13 L273.70,605.93 L274.30,605.64 L274.90,605.29 L275.50,604.86 L276.10,604.38 L276.70,603.84 L277.30,603.26 L277.90,602.64 L278.50,601.99 L279.10,601.33 L279.70,600.67 L280.30,600.01 L280.90,599.36 L281.50,598.74 L282.10,598.16 L282.70,597.62 L283.30,597.14 L283.90,596.71 L284.50,596.36 L285.10,596.07 L285.70,595.87 L286.30,595.74 L286.90,595.70 L287.50,595.74 L288.10,595.87 L288.70,596.07 L289.30,596.36 L289.90,596.71 L290.50,597.14 L291.10,597.62 L291.70,598.16 L292.30,598.74 L292.90,599.36 L293.50,600.01 L294.10,600.67 L294.70,601.33 L295.30,601.99 L295.90,602.64 L296.50,603.26 L297.10,603.84 L297.70,604.38 L298.30,604.86 L298.90,605.29 L299.50,605.64 L300.10,605.93 L300.70,606.13 L301.30,606.26 L301.90,606.30 L302.50,606.26 L303.10,606.13 L303.70,605.93 L304.30,605.64 L304.90,605.29 L305.50,604.86 L306.10,604.38 L306.70,603.84 L307.30,603.26 L307.90,602.64 L308.50,601.99 L309.10,601.33 L309.70,600.67 L310.30,600.01 L310.90,599.36 L311.50,598.74 L312.10,598.16 L312.70,597.62 L313.30,597.14 L313.90,596.71 L314.50,596.36 L315.10,596.07 L315.70,595.87 L316.30,595.74 L316.90,595.70 L317.50,595.74 L318.10,595.87 L318.70,596.07 L319.30,596.36 L319.90,596.71 L320.50,597.14 L321.10,597.62 L321.70,598.16 L322.30,598.74 L322.90,599.36 L323.50,600.01 L324.10,600.67 L324.70,601.33 L325.30,601.99 L325.90,602.64 L326.50,603.26 L327.10,603.84 L327.70,604.38 L328.30,604.86 L328.90,605.29 L329.50,605.64 L330.10,605.93 L330.70,606.13 L331.30,606.26 L331.90,606.30 L332.50,606.26 L333.10,606.13 L333.70,605.93 L334.30,605.64 L334.90,605.29 L335.50,604.86 L336.10,604.38 L336.70,603.84 L337.30,603.26 L337.90,602.64 L338.50,601.99 L339.10,601.33 L339.70,600.67 L340.30,600.01 L340.90,599.36 L341.50,598.74 L342.10,598.16 L342.70,597.62 L343.30,597.14" fill="none" stroke="#3a3fa2" stroke-width="1.4" stroke-linecap="round"/>
<path d="M417.30,605.75 L417.90,605.98 L418.50,606.13 L419.10,606.20 L419.70,606.18 L420.30,606.09 L420.90,605.91 L421.50,605.66 L422.10,605.33 L422.70,604.94 L423.30,604.48 L423.90,603.97 L424.50,603.41 L425.10,602.81 L425.70,602.19 L426.30,601.54 L426.90,600.89 L427.50,600.24 L428.10,599.60 L428.70,598.98 L429.30,598.40 L429.90,597.86 L430.50,597.36 L431.10,596.92 L431.70,596.55 L432.30,596.25 L432.90,596.02 L433.50,595.87 L434.10,595.80 L434.70,595.82 L435.30,595.91 L435.90,596.09 L436.50,596.34 L437.10,596.67 L437.70,597.06 L438.30,597.52 L438.90,598.03 L439.50,598.59 L440.10,599.19 L440.70,599.81 L441.30,600.46 L441.90,601.11 L442.50,601.76 L443.10,602.40 L443.70,603.02 L444.30,603.60 L444.90,604.14 L445.50,604.64 L446.10,605.08 L446.70,605.45 L447.30,605.75 L447.90,605.98 L448.50,606.13 L449.10,606.20 L449.70,606.18 L450.30,606.09 L450.90,605.91 L451.50,605.66 L452.10,605.33 L452.70,604.94 L453.30,604.48 L453.90,603.97 L454.50,603.41 L455.10,602.81 L455.70,602.19 L456.30,601.54 L456.90,600.89 L457.50,600.24 L458.10,599.60 L458.70,598.98 L459.30,598.40 L459.90,597.86 L460.50,597.36 L461.10,596.92 L461.70,596.55 L462.30,596.25 L462.90,596.02 L463.50,595.87 L464.10,595.80 L464.70,595.82 L465.30,595.91 L465.90,596.09 L466.50,596.34 L467.10,596.67 L467.70,597.06 L468.30,597.52 L468.90,598.03 L469.50,598.59 L470.10,599.19 L470.70,599.81 L471.30,600.46 L471.90,601.11 L472.50,601.76 L473.10,602.40 L473.70,603.02 L474.30,603.60 L474.90,604.14 L475.50,604.64 L476.10,605.08 L476.70,605.45 L477.30,605.75 L477.90,605.98 L478.50,606.13 L479.10,606.20 L479.70,606.18 L480.30,606.09 L480.90,605.91 L481.50,605.66 L482.10,605.33 L482.70,604.94 L483.30,604.48 L483.90,603.97 L484.50,603.41 L485.10,602.81 L485.70,602.19 L486.30,601.54 L486.90,600.89 L487.50,600.24 L488.10,599.60" fill="none" stroke="#8e86d0" stroke-width="1.0" stroke-linecap="round"/>
<path d="M410.40,606.30 L411.00,606.26 L411.60,606.13 L412.20,605.93 L412.80,605.64 L413.40,605.29 L414.00,604.86 L414.60,604.38 L415.20,603.84 L415.80,603.26 L416.40,602.64 L417.00,601.99 L417.60,601.33 L418.20,600.67 L418.80,600.01 L419.40,599.36 L420.00,598.74 L420.60,598.16 L421.20,597.62 L421.80,597.14 L422.40,596.71 L423.00,596.36 L423.60,596.07 L424.20,595.87 L424.80,595.74 L425.40,595.70 L426.00,595.74 L426.60,595.87 L427.20,596.07 L427.80,596.36 L428.40,596.71 L429.00,597.14 L429.60,597.62 L430.20,598.16 L430.80,598.74 L431.40,599.36 L432.00,600.01 L432.60,600.67 L433.20,601.33 L433.80,601.99 L434.40,602.64 L435.00,603.26 L435.60,603.84 L436.20,604.38 L436.80,604.86 L437.40,605.29 L438.00,605.64 L438.60,605.93 L439.20,606.13 L439.80,606.26 L440.40,606.30 L441.00,606.26 L441.60,606.13 L442.20,605.93 L442.80,605.64 L443.40,605.29 L444.00,604.86 L444.60,604.38 L445.20,603.84 L445.80,603.26 L446.40,602.64 L447.00,601.99 L447.60,601.33 L448.20,600.67 L448.80,600.01 L449.40,599.36 L450.00,598.74 L450.60,598.16 L451.20,597.62 L451.80,597.14 L452.40,596.71 L453.00,596.36 L453.60,596.07 L454.20,595.87 L454.80,595.74 L455.40,595.70 L456.00,595.74 L456.60,595.87 L457.20,596.07 L457.80,596.36 L458.40,596.71 L459.00,597.14 L459.60,597.62 L460.20,598.16 L460.80,598.74 L461.40,599.36 L462.00,600.01 L462.60,600.67 L463.20,601.33 L463.80,601.99 L464.40,602.64 L465.00,603.26 L465.60,603.84 L466.20,604.38 L466.80,604.86 L467.40,605.29 L468.00,605.64 L468.60,605.93 L469.20,606.13 L469.80,606.26 L470.40,606.30 L471.00,606.26 L471.60,606.13 L472.20,605.93 L472.80,605.64 L473.40,605.29 L474.00,604.86 L474.60,604.38 L475.20,603.84 L475.80,603.26 L476.40,602.64 L477.00,601.99 L477.60,601.33 L478.20,600.67 L478.80,600.01 L479.40,599.36 L480.00,598.74 L480.60,598.16 L481.20,597.62 L481.80,597.14" fill="none" stroke="#3a3fa2" stroke-width="1.4" stroke-linecap="round"/>
<text x="308.80" y="614.80" font-size="7.0" fill="#5058b8" text-anchor="middle" textLength="82.4" lengthAdjust="spacingAndGlyphs" >Hematopoietic regulated genes</text>
<text x="448.60" y="614.80" font-size="7.0" fill="#5058b8" text-anchor="middle" textLength="82.2" lengthAdjust="spacingAndGlyphs" >Hematopoietic regulated genes</text>
<path d="M282.95,546.00 C283.98,544.54 286.04,541.57 287.48,541.06 C288.92,540.55 290.16,543.09 291.60,542.96 C293.04,542.83 294.69,540.30 296.13,540.30 C297.57,540.30 299.29,541.63 300.25,542.96 C301.21,544.29 301.83,546.57 301.90,548.28 C301.97,549.99 301.35,552.08 300.66,553.22 C299.98,554.36 298.81,555.06 297.78,555.12 C296.75,555.18 295.38,553.47 294.48,553.60 C293.59,553.73 293.25,554.93 292.42,555.88 C291.60,556.83 290.64,558.92 289.54,559.30 C288.44,559.68 287.07,559.05 285.83,558.16 C284.60,557.27 282.88,555.37 282.12,553.98 C281.37,552.59 281.16,551.13 281.30,549.80 C281.44,548.47 281.92,547.46 282.95,546.00 Z" fill="#f8c29c" stroke="#ee8e4c" stroke-width="0.9" />
<text x="291.60" y="551.30" font-size="5.2" fill="#a86a48" text-anchor="middle" >AZI-G</text>
<path d="M287.68,572.25 C288.73,570.91 290.83,568.17 292.30,567.70 C293.77,567.23 295.03,569.57 296.50,569.45 C297.97,569.33 299.65,567.00 301.12,567.00 C302.59,567.00 304.34,568.23 305.32,569.45 C306.30,570.68 306.93,572.78 307.00,574.35 C307.07,575.92 306.44,577.85 305.74,578.90 C305.04,579.95 303.85,580.59 302.80,580.65 C301.75,580.71 300.35,579.13 299.44,579.25 C298.53,579.37 298.18,580.48 297.34,581.35 C296.50,582.23 295.52,584.15 294.40,584.50 C293.28,584.85 291.88,584.27 290.62,583.45 C289.36,582.63 287.61,580.88 286.84,579.60 C286.07,578.32 285.86,576.98 286.00,575.75 C286.14,574.52 286.63,573.59 287.68,572.25 Z" fill="#f8c29c" stroke="#ee8e4c" stroke-width="0.9" />
<text x="296.50" y="577.25" font-size="5.2" fill="#a86a48" text-anchor="middle" >AZI-G</text>
<path d="M314.48,570.54 C315.53,569.25 317.63,566.62 319.10,566.17 C320.57,565.72 321.83,567.96 323.30,567.85 C324.77,567.74 326.45,565.50 327.92,565.50 C329.39,565.50 331.14,566.68 332.12,567.85 C333.10,569.03 333.73,571.04 333.80,572.56 C333.87,574.07 333.24,575.92 332.54,576.92 C331.84,577.93 330.65,578.55 329.60,578.60 C328.55,578.66 327.15,577.15 326.24,577.26 C325.33,577.37 324.98,578.44 324.14,579.28 C323.30,580.12 322.32,581.96 321.20,582.30 C320.08,582.64 318.68,582.08 317.42,581.29 C316.16,580.51 314.41,578.83 313.64,577.60 C312.87,576.36 312.66,575.08 312.80,573.90 C312.94,572.72 313.43,571.83 314.48,570.54 Z" fill="#f8c29c" stroke="#ee8e4c" stroke-width="0.9" />
<text x="323.30" y="575.40" font-size="5.2" fill="#a86a48" text-anchor="middle" >AZI-G</text>
<path d="M301.5,552 C309,554 309,562 305.5,567.5" fill="none" stroke="#d9a070" stroke-width="0.7" />
<path d="M304.2,566.5 L305.5,568 L306.6,566.6" fill="none" stroke="#d9a070" stroke-width="0.6" />
<path d="M285.95,585.10 C286.67,584.37 288.02,583.30 289.05,583.05 C290.08,582.81 291.27,583.88 292.15,583.64 C293.03,583.39 293.44,581.93 294.32,581.59 C295.20,581.25 296.57,581.06 297.42,581.59 C298.27,582.13 299.20,583.64 299.44,584.80 C299.67,585.97 298.74,587.43 298.81,588.60 C298.89,589.77 300.03,590.74 299.90,591.81 C299.77,592.88 299.02,594.59 298.04,595.02 C297.06,595.46 295.20,594.29 294.01,594.44 C292.82,594.59 292.05,595.80 290.91,595.90 C289.77,596.00 288.22,595.56 287.19,595.02 C286.16,594.49 285.02,593.61 284.71,592.69 C284.40,591.76 285.33,590.35 285.33,589.48 C285.33,588.60 284.61,588.16 284.71,587.43 C284.81,586.70 285.23,585.83 285.95,585.10 Z" fill="#88b33e" stroke="#3f5f16" stroke-width="0.8" />
<text x="292.30" y="590.60" font-size="4.6" fill="#263a0e" text-anchor="middle" >DDX1</text>
<path d="M312.35,584.60 C313.07,583.87 314.42,582.80 315.45,582.55 C316.48,582.31 317.67,583.38 318.55,583.14 C319.43,582.89 319.84,581.43 320.72,581.09 C321.60,580.75 322.97,580.56 323.82,581.09 C324.67,581.63 325.60,583.14 325.84,584.30 C326.07,585.47 325.14,586.93 325.22,588.10 C325.29,589.27 326.43,590.24 326.30,591.31 C326.17,592.38 325.42,594.09 324.44,594.52 C323.46,594.96 321.60,593.79 320.41,593.94 C319.22,594.09 318.45,595.30 317.31,595.40 C316.17,595.50 314.62,595.06 313.59,594.52 C312.56,593.99 311.42,593.11 311.11,592.19 C310.80,591.26 311.73,589.85 311.73,588.98 C311.73,588.10 311.01,587.66 311.11,586.93 C311.21,586.20 311.63,585.33 312.35,584.60 Z" fill="#88b33e" stroke="#3f5f16" stroke-width="0.8" />
<text x="318.70" y="590.10" font-size="4.6" fill="#263a0e" text-anchor="middle" >DDX1</text>
<path d="M425.75,579.50 C426.47,578.77 427.82,577.70 428.85,577.45 C429.88,577.21 431.07,578.28 431.95,578.04 C432.83,577.79 433.24,576.33 434.12,575.99 C435.00,575.65 436.37,575.46 437.22,575.99 C438.07,576.53 439.00,578.04 439.24,579.20 C439.47,580.37 438.54,581.83 438.62,583.00 C438.69,584.17 439.83,585.14 439.70,586.21 C439.57,587.28 438.82,588.99 437.84,589.42 C436.86,589.86 435.00,588.69 433.81,588.84 C432.62,588.99 431.85,590.20 430.71,590.30 C429.57,590.40 428.02,589.96 426.99,589.42 C425.96,588.89 424.82,588.01 424.51,587.09 C424.20,586.16 425.13,584.75 425.13,583.88 C425.13,583.00 424.41,582.56 424.51,581.83 C424.61,581.10 425.03,580.23 425.75,579.50 Z" fill="#88b33e" stroke="#3f5f16" stroke-width="0.8" />
<text x="432.10" y="585.00" font-size="4.6" fill="#263a0e" text-anchor="middle" >DDX1</text>
<path d="M452.35,571.70 C453.07,570.97 454.42,569.90 455.45,569.65 C456.48,569.41 457.67,570.48 458.55,570.24 C459.43,569.99 459.84,568.53 460.72,568.19 C461.60,567.85 462.97,567.66 463.82,568.19 C464.67,568.73 465.60,570.24 465.84,571.40 C466.07,572.57 465.14,574.03 465.22,575.20 C465.29,576.37 466.43,577.34 466.30,578.41 C466.17,579.48 465.42,581.19 464.44,581.62 C463.46,582.06 461.60,580.89 460.41,581.04 C459.22,581.19 458.45,582.40 457.31,582.50 C456.17,582.60 454.62,582.16 453.59,581.62 C452.56,581.09 451.42,580.21 451.11,579.29 C450.80,578.36 451.73,576.95 451.73,576.08 C451.73,575.20 451.01,574.76 451.11,574.03 C451.21,573.30 451.63,572.43 452.35,571.70 Z" fill="#88b33e" stroke="#3f5f16" stroke-width="0.8" />
<text x="458.70" y="577.20" font-size="4.6" fill="#263a0e" text-anchor="middle" >DDX1</text>
<path d="M469.55,557.30 C470.27,556.57 471.62,555.50 472.65,555.25 C473.68,555.01 474.87,556.08 475.75,555.84 C476.63,555.59 477.04,554.13 477.92,553.79 C478.80,553.45 480.17,553.26 481.02,553.79 C481.87,554.33 482.80,555.84 483.04,557.00 C483.27,558.17 482.34,559.63 482.42,560.80 C482.49,561.97 483.63,562.94 483.50,564.01 C483.37,565.08 482.62,566.79 481.64,567.22 C480.66,567.66 478.80,566.49 477.61,566.64 C476.42,566.79 475.65,568.00 474.51,568.10 C473.37,568.20 471.82,567.76 470.79,567.22 C469.76,566.69 468.62,565.81 468.31,564.89 C468.00,563.96 468.93,562.55 468.93,561.68 C468.93,560.80 468.21,560.36 468.31,559.63 C468.41,558.90 468.83,558.03 469.55,557.30 Z" fill="#88b33e" stroke="#3f5f16" stroke-width="0.8" />
<text x="475.90" y="562.80" font-size="4.6" fill="#263a0e" text-anchor="middle" >DDX1</text>
<path d="M425.93,547.77 C426.55,546.08 427.43,543.63 428.56,542.88 C429.69,542.13 431.38,543.57 432.70,543.26 C434.01,542.94 435.08,541.13 436.46,541.00 C437.83,540.87 439.78,541.47 440.97,542.50 C442.16,543.54 443.29,545.51 443.60,547.20 C443.91,548.90 443.29,551.06 442.85,552.66 C442.41,554.25 441.78,556.29 440.97,556.79 C440.15,557.29 438.90,555.35 437.96,555.66 C437.02,555.98 436.46,557.98 435.33,558.67 C434.20,559.36 432.51,559.93 431.19,559.80 C429.88,559.67 428.50,559.05 427.43,557.92 C426.37,556.79 425.05,554.72 424.80,553.03 C424.55,551.34 425.30,549.46 425.93,547.77 Z" fill="#5cc3ec" stroke="#3aa6d8" stroke-width="0.8" />
<text x="434.20" y="551.90" font-size="4.8" fill="#1d5f86" text-anchor="middle" >AZI-TC</text>
<path d="M457.16,548.73 C457.80,547.17 458.70,544.92 459.86,544.23 C461.02,543.54 462.75,544.86 464.11,544.58 C465.46,544.29 466.55,542.62 467.97,542.50 C469.38,542.38 471.38,542.93 472.60,543.88 C473.82,544.84 474.98,546.65 475.30,548.21 C475.62,549.77 474.98,551.76 474.53,553.23 C474.08,554.70 473.43,556.57 472.60,557.03 C471.76,557.49 470.48,555.71 469.51,555.99 C468.54,556.28 467.97,558.13 466.81,558.76 C465.65,559.40 463.91,559.92 462.56,559.80 C461.21,559.68 459.80,559.11 458.70,558.07 C457.61,557.03 456.26,555.13 456.00,553.57 C455.74,552.01 456.51,550.28 457.16,548.73 Z" fill="#5cc3ec" stroke="#3aa6d8" stroke-width="0.8" />
<text x="465.65" y="552.65" font-size="4.8" fill="#1d5f86" text-anchor="middle" >AZI-TC</text>
<path d="M469.55,557.30 C470.27,556.57 471.62,555.50 472.65,555.25 C473.68,555.01 474.87,556.08 475.75,555.84 C476.63,555.59 477.04,554.13 477.92,553.79 C478.80,553.45 480.17,553.26 481.02,553.79 C481.87,554.33 482.80,555.84 483.04,557.00 C483.27,558.17 482.34,559.63 482.42,560.80 C482.49,561.97 483.63,562.94 483.50,564.01 C483.37,565.08 482.62,566.79 481.64,567.22 C480.66,567.66 478.80,566.49 477.61,566.64 C476.42,566.79 475.65,568.00 474.51,568.10 C473.37,568.20 471.82,567.76 470.79,567.22 C469.76,566.69 468.62,565.81 468.31,564.89 C468.00,563.96 468.93,562.55 468.93,561.68 C468.93,560.80 468.21,560.36 468.31,559.63 C468.41,558.90 468.83,558.03 469.55,557.30 Z" fill="#88b33e" stroke="#3f5f16" stroke-width="0.8" />
<text x="475.90" y="562.80" font-size="4.6" fill="#263a0e" text-anchor="middle" >DDX1</text>
<path d="M360.3,598.5 C367.5,598.5 372.6,605 373.9,613.8" fill="none" stroke="#222" stroke-width="0.95" />
<path d="M372.1,613.2 L375.9,613.4 L374.2,618.3 Z" fill="#222" stroke="none" stroke-width="0.8" />
<path d="M392,597.2 L388.2,599.3" fill="none" stroke="#222" stroke-width="0.95" />
<path d="M385.60,600.50 L385.60,605.70 M383.35,601.80 L387.85,604.40 M387.85,601.80 L383.35,604.40 " fill="none" stroke="#222" stroke-width="0.95" />
<path d="M383.1,610.3 L381.8,614.2" fill="none" stroke="#222" stroke-width="0.95" />
<path d="M379.9,613.6 L383.5,614.3 L381.1,618.7 Z" fill="#222" stroke="none" stroke-width="0.8" />
<defs><radialGradient id="pg" cx="0.62" cy="0.62" r="0.7" fx="0.62" fy="0.62"><stop offset="0" stop-color="#1a2a8a"/><stop offset="0.45" stop-color="#3551b5"/><stop offset="1" stop-color="#7c9ce4"/></radialGradient></defs>
<ellipse cx="379.35" cy="632.35" rx="14.0" ry="12.0" fill="#7498de" stroke="#2c4ca8" stroke-width="0.8"/>
<ellipse cx="379.5" cy="632.5" rx="10.4" ry="7.8" fill="url(#pg)" stroke="#2a44a6" stroke-width="1.2"/>
<text x="340.30" y="638.90" font-size="8.0" fill="#4a5fc0" text-anchor="middle" textLength="44.8" lengthAdjust="spacingAndGlyphs" >Hematopoietic</text>
<text x="342.00" y="647.20" font-size="8.0" fill="#4a5fc0" text-anchor="middle" textLength="48" lengthAdjust="spacingAndGlyphs" >progenitor cells</text>
<path d="M379.8,646.9 L383.3,646.9 L381.5,651.5 Z" fill="#222" stroke="none" stroke-width="0.8" />
<text x="345.00" y="663.40" font-size="8.0" fill="#e2404c" text-anchor="middle" textLength="36.3" lengthAdjust="spacingAndGlyphs" >Mature cells</text>
<circle cx="371.10" cy="654.40" r="1.50" fill="#f7d4cc" stroke="#e0705e" stroke-width="0.7" />
<circle cx="379.50" cy="655.60" r="1.50" fill="#f7d4cc" stroke="#e0705e" stroke-width="0.7" />
<circle cx="374.80" cy="660.70" r="1.50" fill="#f7d4cc" stroke="#e0705e" stroke-width="0.7" />
<circle cx="367.70" cy="661.30" r="1.50" fill="#f7d4cc" stroke="#e0705e" stroke-width="0.7" />
<circle cx="394.20" cy="651.00" r="1.50" fill="#f7d4cc" stroke="#e0705e" stroke-width="0.7" />
<ellipse cx="390.2" cy="658.4" rx="5.9" ry="4.8" fill="#e8342a" stroke="#d02018" stroke-width="0.5"/>
<path d="M387.5,657.5 C388.5,655.5 391.5,655.8 391.8,658 C392,660 389.5,660.5 389,659" fill="none" stroke="#f8c070" stroke-width="0.8" />
<ellipse cx="400.3" cy="655.9" rx="3.8" ry="3.3" fill="#e02222" stroke="#c01010" stroke-width="0.5"/>
<circle cx="400.30" cy="655.90" r="1.30" fill="#f08040" stroke="none" stroke-width="0.5" />
<path d="M408.8,629.9 C425,640 462,645 490,637.5 C503,633.5 508,626 505.5,621 C503.5,617.5 501,616.9 498.5,616.8" fill="none" stroke="#222" stroke-width="0.95" />
<path d="M495.2,616.8 L499.2,614.9 L499.0,618.8 Z" fill="#222" stroke="none" stroke-width="0.8" />
<text x="478.80" y="637.60" font-size="7.8" fill="#505050" text-anchor="middle" textLength="37.2" lengthAdjust="spacingAndGlyphs" >Proliferation</text>
<rect x="0.5" y="0.5" width="519" height="671" fill="none" stroke="#1a1515" stroke-width="1.1"/>
</svg></body></html>
